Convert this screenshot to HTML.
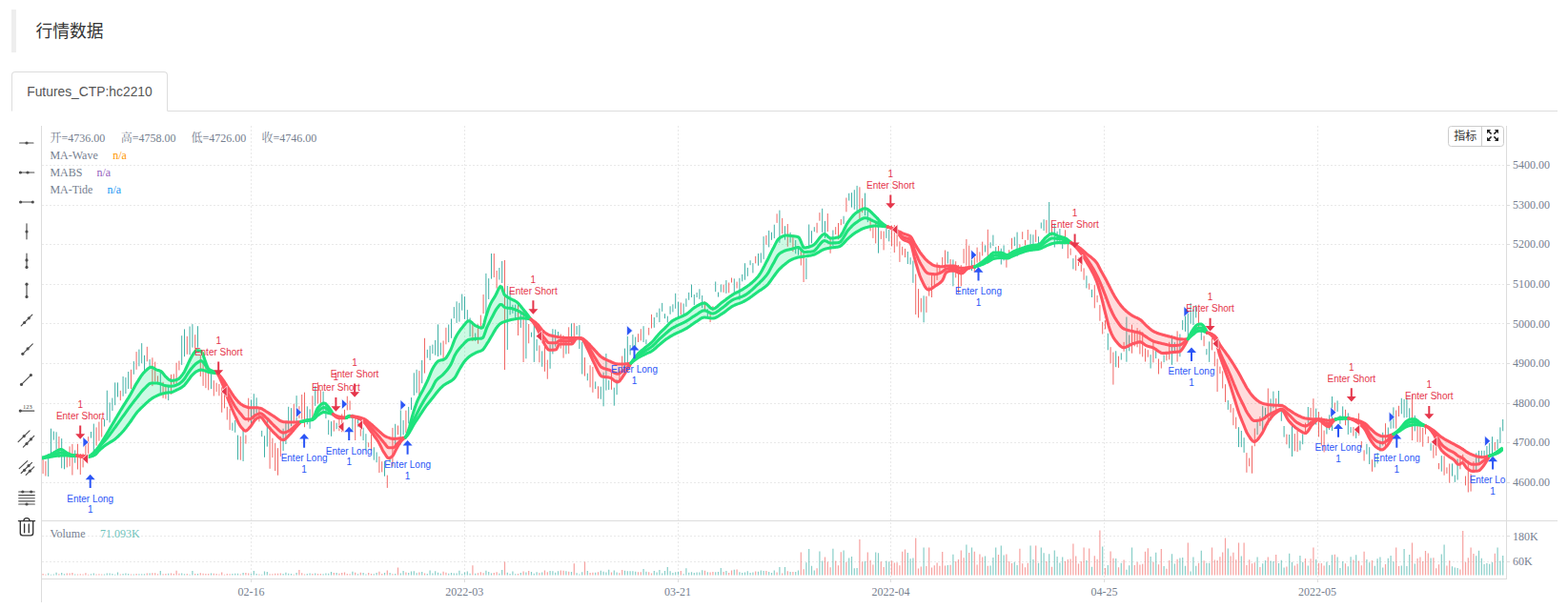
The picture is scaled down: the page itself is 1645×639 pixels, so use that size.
<!DOCTYPE html>
<html lang="zh"><head><meta charset="utf-8"><title>行情数据</title>
<style>
html,body{margin:0;padding:0;background:#fff;}
body{width:1645px;height:639px;position:relative;overflow:hidden;font-family:"Liberation Sans",sans-serif;}
.bar{position:absolute;left:12px;top:10px;width:5px;height:45px;background:#eee;}
.tabline{position:absolute;left:12px;top:116px;width:1622px;height:1px;background:#ddd;}
.tab{position:absolute;left:12px;top:75px;width:162px;height:40px;border:1px solid #ddd;border-bottom:1px solid #fff;border-radius:4px 4px 0 0;background:#fff;
font-size:13.85px;line-height:41px;color:#555;text-indent:15.2px;white-space:nowrap;}
</style></head><body>
<div class="bar"></div>
<div class="tabline"></div>
<div class="tab">Futures_CTP:hc2210</div>
<svg width="1645" height="639" viewBox="0 0 1645 639" style="position:absolute;left:0;top:0"><defs><clipPath id="mc"><rect x="44" y="132" width="1536" height="414"/></clipPath></defs><g stroke="#E9E9E9" stroke-width="1" stroke-dasharray="2,2" fill="none"><line x1="44" x2="1580" y1="173.5" y2="173.5"/><line x1="44" x2="1580" y1="215.5" y2="215.5"/><line x1="44" x2="1580" y1="256.5" y2="256.5"/><line x1="44" x2="1580" y1="298.5" y2="298.5"/><line x1="44" x2="1580" y1="339.5" y2="339.5"/><line x1="44" x2="1580" y1="381.5" y2="381.5"/><line x1="44" x2="1580" y1="423.5" y2="423.5"/><line x1="44" x2="1580" y1="464.5" y2="464.5"/><line x1="44" x2="1580" y1="506.5" y2="506.5"/><line x1="44" x2="1580" y1="562.5" y2="562.5"/><line x1="44" x2="1580" y1="589.5" y2="589.5"/><line x1="263.5" x2="263.5" y1="132" y2="608"/><line x1="487.5" x2="487.5" y1="132" y2="608"/><line x1="711.5" x2="711.5" y1="132" y2="608"/><line x1="934.5" x2="934.5" y1="132" y2="608"/><line x1="1158.5" x2="1158.5" y1="132" y2="608"/><line x1="1382.5" x2="1382.5" y1="132" y2="608"/></g><g clip-path="url(#mc)"><path d="M45.1,482V497M47.9,484V499.5M61.9,458V480.2M70.3,477.8V490.4M73.1,468.4V489.3M75.9,465.9V498.5M81.5,465.8V492.5M84.3,476V498M87.1,475.8V490.4M89.9,464.3V479.3M92.7,458.2V479.1M101.1,448.4V467.6M103.9,442.6V462.7M106.7,438.6V458.5M126.3,409.9V420.2M137.5,387.8V408M143.1,369.1V387.8M154.3,363.8V379.3M159.9,375.3V405.1M162.7,379.6V400.4M165.5,394.4V403.1M171.1,400.8V417.7M173.9,404.4V418.5M179.5,392.9V413.8M182.3,392.4V403M185.1,380.7V402.6M187.9,378.6V388.5M196.3,352.8V371.8M204.7,351.2V365.5M210.3,372.4V395M213.1,380.2V404.9M215.9,384.1V407.2M218.7,384.3V409.3M224.3,399.2V415.5M227.1,401.7V411.1M229.9,402.9V415.3M232.7,406.4V432.8M235.5,414V428.4M238.3,426.8V440.5M241.1,429.1V451.1M252.3,457.9V482.7M257.9,456.5V465.6M260.7,417.7V442.8M271.9,429.2V442.4M283.1,451.5V491.8M285.9,459.7V480.1M288.7,465V494.1M291.5,470.2V498.7M294.3,457.9V479M308.3,423.8V444.1M313.9,426.2V438.8M316.7,414V439.7M319.5,411.7V448.2M327.9,415.3V438.2M333.5,401.2V423.5M336.3,409V422.9M350.3,441V452.6M355.9,437.3V452.2M358.7,434.4V453.3M361.5,429.8V436.9M364.3,415.7V430.5M367.1,420.5V430.2M372.7,437.1V462M378.3,449.8V457.7M386.7,464.3V469.3M389.5,456.1V472.7M397.9,478.9V496.1M400.7,484.2V495.4M406.3,498.6V511.9M411.9,448.9V489.5M417.5,446.5V456.2M425.9,430.7V454.1M439.9,389.1V417M445.5,354.8V391.6M465.1,357.5V379.1M467.9,343.8V361.3M495.9,340.7V358M501.5,340.4V360.7M504.3,330.6V344.3M507.1,309V329.1M518.3,266V291M521.1,284V302.6M529.5,273V388M543.5,317V352M549.1,324V380M554.7,340V360.3M565.9,362.4V380.3M571.5,357.8V389.8M574.3,377.6V397.7M588.3,350.6V365.6M591.1,351.9V375.6M596.7,343.3V371.2M602.3,338.9V354.4M613.5,375.1V394.6M619.1,383.3V406.4M621.9,384.9V411.8M627.5,405.3V418.3M641.5,389.1V408.8M649.9,386.6V398.9M652.7,373.6V389.9M669.5,350.2V359M672.3,345.2V357.4M680.7,343.9V351.6M683.5,329.9V344.5M714.3,317.5V330.2M739.5,316.2V325.1M745.1,328.7V338.1M747.9,321.2V326.2M759.1,298.6V306.8M764.7,296.5V307.3M767.5,291.5V296.5M773.1,295.6V302.5M792.7,268.8V276.4M803.9,246.9V256.8M815.1,224.3V233.9M820.7,228.9V245.3M826.3,235V258.8M831.9,246.2V264.1M840.3,263V278.5M843.1,266V296M857.1,233.8V244.4M859.9,223.1V231.7M868.3,224V243M871.1,250.9V265.8M876.7,238.1V246M879.5,234V251.2M882.3,230V236.2M887.9,207.5V222.3M901.9,196.3V230M904.7,208.1V223.1M913.1,228.5V242.4M915.9,236V249.9M918.7,233.8V255.4M924.3,242.3V250.9M927.1,242.6V262.4M935.5,236.5V258.4M938.3,236V265M941.1,244.7V258.6M943.9,253.3V274.9M946.7,258.8V267.7M949.5,260.9V270.1M960.7,287.6V330M963.5,303.1V333.4M966.3,312.8V327.5M971.9,310.8V327.9M974.7,300.6V310.6M977.5,287.1V312M980.3,288.1V300.6M983.1,275.5V293.9M985.9,279.4V287.8M988.7,269.9V281.1M991.5,262.5V283M997.1,272V283.9M1002.7,274.2V291.4M1005.5,278V307.6M1008.3,278.2V300.3M1011.1,261.1V276.3M1013.9,251V278.6M1016.7,257.6V282.5M1022.3,268.7V285.3M1025.1,259.6V275.6M1027.9,264.4V274.6M1030.7,253.6V268.4M1036.3,240.8V276.8M1047.5,258V271.9M1055.9,272.1V280.7M1058.7,262.2V270.4M1061.5,249.8V261.5M1069.9,256.4V264.5M1072.7,243.2V251M1075.5,251.9V257.5M1078.3,241V251.8M1086.7,241.2V253.9M1097.9,230.9V244.6M1103.5,235.8V247.4M1117.5,241.3V253.1M1120.3,254.3V271.2M1123.1,260.6V267.7M1128.7,267.7V283.9M1131.5,270.5V279.1M1134.3,274.1V284.9M1137.1,281.4V293.7M1142.7,297.4V303.8M1148.3,299.1V323.3M1151.1,309.9V317.3M1153.9,319.9V336.7M1156.7,337.8V350.5M1159.5,336.2V345.4M1165.1,364.2V381.1M1167.9,369.6V403.6M1173.5,373.7V385.9M1179.1,358.9V368.8M1187.5,340.7V370.7M1190.3,347.2V363.3M1193.1,344.1V364.3M1195.9,346.3V371.5M1198.7,348.5V374.4M1201.5,365.6V379.5M1204.3,367.2V374.7M1209.9,357V380.4M1215.5,376.5V392.5M1218.3,379.3V386.5M1223.9,369.7V378.4M1226.7,358.8V377.3M1235.1,347.4V379.5M1257.5,327V343.5M1263.1,352.4V363.2M1271.5,355V367.4M1274.3,368.9V384.3M1277.1,376.5V411M1279.9,384.6V392M1282.7,389.4V407.5M1285.5,403.2V421.9M1291.1,424V432.8M1293.9,428.1V446.2M1296.7,437.7V449.9M1307.9,475.1V495.8M1310.7,480.6V489.3M1313.5,467.7V496.7M1316.3,449.5V468.2M1321.9,437V446.9M1330.3,407.5V445.6M1338.7,418V433M1349.9,455.6V466.3M1358.3,455.1V473.3M1361.1,452V474.1M1369.5,443.6V455.3M1375.1,428V441.2M1377.9,418.2V438.3M1383.5,432.1V458.4M1386.3,437.4V467.7M1389.1,451.6V474.5M1400.3,422.5V433.6M1411.5,429.8V446.3M1419.9,448.1V457.5M1425.5,433.6V456.7M1428.3,462.9V469.8M1431.1,472.3V483.5M1439.5,482.2V494.8M1453.5,444.2V469.8M1464.7,430.5V449.7M1467.5,425.8V437M1481.5,414.1V462.1M1487.1,446.8V463.8M1489.9,446.4V463.9M1492.7,448.8V468.7M1495.5,447.3V455.7M1498.3,457.8V465M1503.9,466.6V480.7M1506.7,463.4V478.1M1509.5,486V492.3M1515.1,478.4V498.7M1517.9,490.4V496.9M1520.7,486.5V506.6M1531.9,480.4V492.3M1534.7,476.8V486.9M1537.5,499.5V509.4M1540.3,483.6V516.5M1543.1,497.2V515.6M1545.9,484.2V494.1M1568.3,464V472.8" stroke="#EF5350" stroke-width="1" fill="none" opacity="0.88"/><path d="M50.7,476V500M53.5,449.7V476.7M56.3,452.6V461.6M59.1,453.3V471.8M64.7,460.1V491.3M67.5,474.3V492.3M78.7,472.4V485.7M95.5,453V459.6M98.3,444.6V473M109.5,440.1V447.5M112.3,409.7V441M115.1,422.4V443.4M117.9,417.6V431M120.7,401.4V425.2M123.5,401.4V416.5M129.1,395V415.8M131.9,396.1V413M134.7,390V408M140.3,379.1V392.8M145.9,366.6V384.3M148.7,360.1V381.1M151.5,372.8V391.3M157.1,377.1V386.9M168.3,388V414.4M176.7,405.9V420.1M190.7,352.2V382.9M193.5,345.4V374.2M199.1,342.5V372.3M201.9,340.1V364.6M207.5,342.2V364.7M221.5,392.4V408.1M243.9,443.6V451.9M246.7,440.8V453.8M249.5,456.6V482.4M255.1,451.3V484M263.5,419.4V447M266.3,413.2V439.9M269.1,417.3V433.5M274.7,451.9V458.2M277.5,457.3V479.8M280.3,439.5V468.6M297.1,449.7V473.1M299.9,443.9V466M302.7,426.8V453.1M305.5,428.2V447.1M311.1,415.1V444.4M322.3,426.4V445.3M325.1,429.4V449.8M330.7,405.2V425.9M339.1,410.7V432.7M341.9,422.6V439.1M344.7,440.7V456.1M347.5,442.2V457.8M353.1,443.7V450.2M369.9,434.6V451.5M375.5,438.5V448.1M381.1,448.7V462.1M383.9,455.2V472.9M392.3,469.3V482.7M395.1,474.5V485.2M403.5,483.8V499.7M409.1,479.7V485.3M414.7,444.8V467.4M420.3,429.3V466.4M423.1,440.9V456.3M428.7,426.9V444.4M431.5,417.1V430M434.3,391.3V414.9M437.1,387.8V412.3M442.7,378V402.2M448.3,366.8V375.6M451.1,362.8V378M453.9,361.6V371.1M456.7,356.9V372.7M459.5,340.4V374M462.3,359.6V372.6M470.7,340.5V359.2M473.5,334.5V354.8M476.3,322.1V334.1M479.1,316.3V338.9M481.9,317.8V337.6M484.7,308.5V325.7M487.5,311.1V334.9M490.3,325.1V338.9M493.1,333.5V353.3M498.7,349.5V357.9M509.9,286.9V331.4M512.7,292.1V314M515.5,266V292.6M523.9,281V293.5M526.7,274V297M532.3,300V367M535.1,305.1V330.4M537.9,319.8V328.8M540.7,319.6V335.8M546.3,326.4V343.9M551.9,328.3V376.3M557.5,348.7V353.7M560.3,336.9V379.9M563.1,356V368.2M568.7,368.4V384.8M577.1,361.5V386.8M579.9,345.2V371.4M582.7,345.7V363.7M585.5,348V355.1M593.9,358.5V371.5M599.5,339.3V360.8M605.1,342.1V351.2M607.9,341.1V366M610.7,358.7V392.5M616.3,391.7V399.3M624.7,400.4V408.1M630.3,405.7V418.8M633.1,390.7V426.3M635.9,371V409.6M638.7,399.1V409M644.3,406.7V425.7M647.1,398.3V414.2M655.5,365.6V391.4M658.3,352.9V383.6M661.1,362.1V372.5M663.9,351.1V364.3M666.7,353.6V364.6M675.1,342.2V359M677.9,356.3V361.3M686.3,333V343.8M689.1,327.9V332.9M691.9,323.6V338.1M694.7,317.9V326.9M697.5,329.2V334.2M700.3,331.7V338.5M703.1,321.3V329.8M705.9,319.3V327.4M708.7,307.8V323.8M711.5,316.7V332.1M717.1,318.5V330.2M719.9,313.3V321.8M722.7,306.9V314.8M725.5,298.6V312M728.3,309V320.1M731.1,307V312M733.9,303.3V313.8M736.7,310V323M742.3,324.3V334.3M750.7,295.5V306.2M753.5,306.6V311.6M756.3,298.5V306.5M761.9,294V307.9M770.3,292.4V306.7M775.9,291.8V314.6M778.7,287.9V295.3M781.5,276.2V293.7M784.3,280.9V289.8M787.1,273.2V278.2M789.9,276V286.4M795.5,266V278.7M798.3,265.4V275.7M801.1,248.1V271.9M806.7,241.9V259.4M809.5,243.7V251.8M812.3,235.7V250.1M817.9,220.6V254.8M823.5,237.2V251.6M829.1,243.8V254.6M834.7,252V266.2M837.5,259V267.7M845.9,271V293M848.7,235.5V260.6M851.5,242.2V255.3M854.3,238.2V243.2M862.7,218.8V243.8M865.5,231.9V249.8M873.9,241.5V258.2M885.1,226.7V234.9M890.7,202.8V210.5M893.5,202.2V217.6M896.3,199.2V219.8M899.1,194.9V221.3M907.5,202.6V226.2M910.3,221.1V233.1M921.5,227.9V265.6M929.9,239.6V249.9M932.7,241V253.3M952.3,264V277M955.1,270.2V277.5M957.9,273.6V296.8M969.1,310.3V338.3M994.3,263.9V276.5M999.9,272.4V300.3M1019.5,266.3V284.1M1033.5,257.4V264.5M1039.1,254.3V260.4M1041.9,246.6V258.1M1044.7,259.1V268.6M1050.3,260.7V277.5M1053.1,257.4V273.4M1064.3,248.6V258.1M1067.1,243.6V269M1081.1,245.7V256.8M1083.9,246.3V258.7M1089.5,248.2V261M1092.3,233.5V239.7M1095.1,230.2V242.1M1100.7,212V246.9M1106.3,234.5V259.5M1109.1,242.8V253.7M1111.9,240.1V255.9M1114.7,252.6V261M1125.9,271.1V282.4M1139.9,289.3V302.4M1145.5,303.8V312M1162.3,349.7V367.3M1170.7,368.3V385.2M1176.3,370.4V377.6M1181.9,332.5V379.7M1184.7,351.5V368.3M1207.1,372.2V386.5M1212.7,366.8V376.1M1221.1,372.9V380.2M1229.5,351.7V382.8M1232.3,359.2V370M1237.9,350.5V374.3M1240.7,335.9V346.2M1243.5,330.6V347.9M1246.3,325.9V354.7M1249.1,318.2V339.5M1251.9,324.5V341M1254.7,320.2V333.4M1260.3,345.2V356.8M1265.9,366.1V372.3M1268.7,358.4V379.9M1288.3,420V429.9M1299.5,448.2V469.1M1302.3,452V469.2M1305.1,459.2V474.9M1319.1,442V456.1M1324.7,426.1V451.8M1327.5,427.8V439.9M1333.1,418.4V441.2M1335.9,410.6V428.1M1341.5,410V427M1344.3,430V441.8M1347.1,447V458.6M1352.7,456V470.3M1355.5,447V479M1363.9,462.5V472.4M1366.7,455.3V466.2M1372.3,427V443.7M1380.7,428.6V445.6M1391.9,439.6V455.5M1394.7,435.3V451M1397.5,416V452.1M1403.1,420.4V431.9M1405.9,435.9V444.8M1408.7,426.4V441.2M1414.3,433.4V455.9M1417.1,448.1V454.1M1422.7,450V459.9M1433.9,465.8V476.6M1436.7,469.2V487M1442.3,483.9V490.3M1445.1,475.2V486.4M1447.9,462.4V473.7M1450.7,453.8V467.5M1456.3,448.5V461.2M1459.1,436V449.8M1461.9,427.4V449.4M1470.3,417.8V434.3M1473.1,418.9V438.3M1475.9,417.1V438.1M1478.7,428.3V439.8M1484.3,435.9V452.4M1501.1,465.2V472.8M1512.3,478.1V494.7M1523.5,486.4V499.6M1526.3,498.5V505.9M1529.1,481.6V503.5M1548.7,475.4V493.4M1551.5,472.9V485.5M1554.3,472.8V480.7M1557.1,472.8V478.7M1559.9,468V477.7M1562.7,465V477.7M1565.5,458.2V476.8M1571.1,461V471.3M1573.9,448.4V465M1576.7,440V452.3" stroke="#26A69A" stroke-width="1" fill="none" opacity="0.88"/><path d="M44,480 45.1,479.8 45.4,479.7 46.8,479.4 47.9,479 48.2,478.9 49.6,478.4 50.7,478 51,477.9 52.4,477.3 53.5,476.7 53.8,476.6 55.2,475.7 56.3,475 56.6,474.8 58,474 59.1,473.4 59.4,473.3 60.8,472.5 61.9,472 62.2,471.9 63.6,471.5 64.7,471.6 65,471.7 66.4,472.5 67.5,473.3 67.8,473.5 69.2,474.5 70.3,475.1 70.6,475.3 72,476 73.1,476.5 73.4,476.7 74.8,477.2 75.9,477.5 76.2,477.5 77.6,477.7 78.7,477.9 79,477.9 80.4,478 81,478 L81,478 80.4,478.1 79,478.3 78.7,478.3 77.6,478.4 76.2,478.5 75.9,478.5 74.8,478.4 73.4,478.3 73.1,478.3 72,478.1 70.6,478 70.3,478 69.2,478 67.8,478 67.5,478 66.4,478 65,478 64.7,478 63.6,478 62.2,478.1 61.9,478.1 60.8,478.2 59.4,478.3 59.1,478.4 58,478.5 56.6,478.7 56.3,478.7 55.2,478.9 53.8,479.2 53.5,479.2 52.4,479.4 51,479.7 50.7,479.7 49.6,479.9 48.2,480.2 47.9,480.2 46.8,480.5 45.4,480.7 45.1,480.8 44,481Z" fill="rgba(0,230,118,0.2)" stroke="none"/><path d="M44,481 45.1,480.8 45.4,480.7 46.8,480.5 47.9,480.2 48.2,480.2 49.6,479.9 50.7,479.7 51,479.7 52.4,479.4 53.5,479.2 53.8,479.2 55.2,478.9 56.3,478.7 56.6,478.7 58,478.5 59.1,478.4 59.4,478.3 60.8,478.2 61.9,478.1 62.2,478.1 63.6,478 64.7,478 65,478 66.4,478 67.5,478 67.8,478 69.2,478 70.3,478 70.6,478 72,478.1 73.1,478.3 73.4,478.3 74.8,478.4 75.9,478.5 76.2,478.5 77.6,478.4 78.7,478.3 79,478.3 80.4,478.1 81,478" fill="none" stroke="#1EE27C" stroke-width="3.1" stroke-linejoin="round" stroke-linecap="round"/><path d="M44,480.5 45.1,480.3 45.4,480.2 46.8,479.9 47.9,479.6 48.2,479.5 49.6,479.2 50.7,478.9 51,478.8 52.4,478.4 53.5,478 53.8,477.9 55.2,477.4 56.3,477 56.6,476.9 58,476.5 59.1,476.2 59.4,476.1 60.8,475.6 61.9,475.3 62.2,475.2 63.6,475 64.7,475 65,475.1 66.4,475.4 67.5,475.7 67.8,475.8 69.2,476.3 70.3,476.6 70.6,476.7 72,477.1 73.1,477.5 73.4,477.6 74.8,477.9 75.9,478 76.2,478 77.6,478 78.7,478 79,478 80.4,478 81,478" fill="none" stroke="#1EE27C" stroke-width="3.1" stroke-linejoin="round" stroke-linecap="round"/><path d="M44,480 45.1,479.8 45.4,479.7 46.8,479.4 47.9,479 48.2,478.9 49.6,478.4 50.7,478 51,477.9 52.4,477.3 53.5,476.7 53.8,476.6 55.2,475.7 56.3,475 56.6,474.8 58,474 59.1,473.4 59.4,473.3 60.8,472.5 61.9,472 62.2,471.9 63.6,471.5 64.7,471.6 65,471.7 66.4,472.5 67.5,473.3 67.8,473.5 69.2,474.5 70.3,475.1 70.6,475.3 72,476 73.1,476.5 73.4,476.7 74.8,477.2 75.9,477.5 76.2,477.5 77.6,477.7 78.7,477.9 79,477.9 80.4,478 81,478" fill="none" stroke="#1EE27C" stroke-width="3.1" stroke-linejoin="round" stroke-linecap="round"/><path d="M81,478 81.5,478.2 82.4,478.5 83.8,479 84.3,479.1 85.2,479.3 86.6,479.5 87.1,479.5 88,479.5 89.4,479.5 89.9,479.5 90.8,479.5 92,479.5 L92,479.5 90.8,479.2 89.9,479 89.4,478.9 88,478.6 87.1,478.5 86.6,478.5 85.2,478.3 84.3,478.2 83.8,478.2 82.4,478.1 81.5,478 81,478Z" fill="rgba(255,82,82,0.2)" stroke="none"/><path d="M81,478 81.5,478 82.4,478.1 83.8,478.2 84.3,478.2 85.2,478.3 86.6,478.5 87.1,478.5 88,478.6 89.4,478.9 89.9,479 90.8,479.2 92,479.5" fill="none" stroke="#FF5561" stroke-width="3.1" stroke-linejoin="round" stroke-linecap="round"/><path d="M81,478 81.5,478.1 82.4,478.3 83.8,478.5 84.3,478.6 85.2,478.8 86.6,478.9 87.1,479 88,479.1 89.4,479.3 89.9,479.3 90.8,479.4 92,479.5" fill="none" stroke="#FF5561" stroke-width="3.1" stroke-linejoin="round" stroke-linecap="round"/><path d="M81,478 81.5,478.2 82.4,478.5 83.8,479 84.3,479.1 85.2,479.3 86.6,479.5 87.1,479.5 88,479.5 89.4,479.5 89.9,479.5 90.8,479.5 92,479.5" fill="none" stroke="#FF5561" stroke-width="3.1" stroke-linejoin="round" stroke-linecap="round"/><path d="M92,479.5 92.7,479.2 93.4,478.8 94.8,477.9 95.5,477.4 96.2,476.8 97.6,475.6 98.3,474.9 99,474.1 100.4,472.5 101.1,471.7 101.8,470.9 103.2,469.1 103.9,468.1 104.6,467.1 106,465.1 106.7,464 107.4,462.9 108.8,460.7 109.5,459.5 110.2,458.3 111.6,456 112.3,454.8 113,453.7 114.4,451.3 115.1,450.1 115.8,448.9 117.2,446.5 117.9,445.3 118.6,444.1 120,441.7 120.7,440.5 121.4,439.3 122.8,437 123.5,435.8 124.2,434.6 125.6,432.2 126.3,431 127,429.9 128.4,427.6 129.1,426.4 129.8,425.3 131.2,423.1 131.9,422 132.6,420.9 134,418.7 134.7,417.6 135.4,416.4 136.8,414 137.5,412.7 138.2,411.4 139.6,408.8 140.3,407.5 141,406.2 142.4,403.6 143.1,402.4 143.8,401.3 145.2,399.1 145.9,397.9 146.6,396.8 148,394.7 148.7,393.7 149.4,392.8 150.8,391.1 151.5,390.4 152.2,389.7 153.6,388.4 154.3,387.7 155,387.1 156.4,386.1 157.1,385.7 157.8,385.4 159.2,385.3 159.9,385.5 160.6,385.9 162,386.7 162.7,387.2 163.4,387.6 164.8,388.2 165.5,388.4 166.2,388.6 167.6,389 168.3,389.3 169,389.7 170.4,391 171.1,391.9 171.8,392.8 173.2,394.6 173.9,395.3 174.6,395.9 176,397.3 176.7,397.9 177.4,398.4 178.8,399.2 179.5,399.4 180.2,399.4 181.6,399.3 182.3,399.2 183,399 184.4,398.7 185.1,398.5 185.8,398.3 187.2,397.7 187.9,397.1 188.6,396.5 190,394.9 190.7,394 191.4,393.1 192.8,391.2 193.5,389.9 194.2,388.5 195.6,385.5 196.3,384 197,382.5 198.4,379.5 199.1,378 199.8,376.5 201.2,373.9 201.9,372.8 202.6,371.7 204,369.6 204.7,368.7 205.4,368 206.8,367.6 207.5,367.7 208.2,367.7 209.6,368 210.3,368.2 211,368.5 212.4,370.5 213.1,372.4 213.8,374.6 215.2,378.5 215.9,380.4 216.6,382.4 218,385.9 218.7,387 219.4,387.6 220.8,388.4 221.5,388.7 222.2,389 223.6,389.6 224.3,389.9 225,390.2 226.4,390.8 227.1,391.1 227.8,391.4 228.1,391.5 L228.1,391.5 227.8,391.5 227.1,391.5 226.4,391.5 225,391.4 224.3,391.3 223.6,391.3 222.2,391.1 221.5,391 220.8,390.9 219.4,390.6 218.7,390.4 218,390.2 216.6,389.6 215.9,389.3 215.2,389.1 213.8,388.6 213.1,388.4 212.4,388.2 211,388 210.3,388.1 209.6,388.2 208.2,388.7 207.5,389.1 206.8,389.4 205.4,390.2 204.7,390.7 204,391.3 202.6,392.6 201.9,393.3 201.2,394 199.8,395.8 199.1,396.8 198.4,397.8 197,399.7 196.3,400.6 195.6,401.5 194.2,403.3 193.5,404.1 192.8,404.8 191.4,405.9 190.7,406.3 190,406.8 188.6,407.6 187.9,407.9 187.2,408.3 185.8,408.9 185.1,409.3 184.4,409.7 183,410.4 182.3,410.7 181.6,411 180.2,411.4 179.5,411.6 178.8,411.7 177.4,411.8 176.7,411.9 176,412 174.6,412.1 173.9,412.3 173.2,412.4 171.8,412.7 171.1,412.9 170.4,413.1 169,413.5 168.3,413.7 167.6,413.9 166.2,414.5 165.5,414.8 164.8,415.1 163.4,415.8 162.7,416.1 162,416.5 160.6,417.3 159.9,417.7 159.2,418.2 157.8,419.2 157.1,419.7 156.4,420.3 155,421.6 154.3,422.2 153.6,422.9 152.2,424.2 151.5,424.9 150.8,425.5 149.4,426.9 148.7,427.5 148,428.2 146.6,429.6 145.9,430.3 145.2,431 143.8,432.6 143.1,433.5 142.4,434.4 141,436.3 140.3,437.3 139.6,438.4 138.2,440.5 137.5,441.5 136.8,442.5 135.4,444.4 134.7,445.3 134,446.3 132.6,448.1 131.9,449.1 131.2,449.9 129.8,451.7 129.1,452.5 128.4,453.3 127,454.8 126.3,455.5 125.6,456.2 124.2,457.6 123.5,458.3 122.8,458.9 121.4,460.1 120.7,460.7 120,461.2 118.6,462.2 117.9,462.7 117.2,463.1 115.8,463.9 115.1,464.3 114.4,464.8 113,465.7 112.3,466.1 111.6,466.6 110.2,467.6 109.5,468.1 108.8,468.6 107.4,469.7 106.7,470.3 106,470.9 104.6,472.1 103.9,472.8 103.2,473.6 101.8,475.3 101.1,476.1 100.4,476.7 99,477.6 98.3,477.9 97.6,478.3 96.2,478.7 95.5,478.9 94.8,479.1 93.4,479.4 92.7,479.5 92,479.5Z" fill="rgba(0,230,118,0.2)" stroke="none"/><path d="M92,479.5 92.7,479.5 93.4,479.4 94.8,479.1 95.5,478.9 96.2,478.7 97.6,478.3 98.3,477.9 99,477.6 100.4,476.7 101.1,476.1 101.8,475.3 103.2,473.6 103.9,472.8 104.6,472.1 106,470.9 106.7,470.3 107.4,469.7 108.8,468.6 109.5,468.1 110.2,467.6 111.6,466.6 112.3,466.1 113,465.7 114.4,464.8 115.1,464.3 115.8,463.9 117.2,463.1 117.9,462.7 118.6,462.2 120,461.2 120.7,460.7 121.4,460.1 122.8,458.9 123.5,458.3 124.2,457.6 125.6,456.2 126.3,455.5 127,454.8 128.4,453.3 129.1,452.5 129.8,451.7 131.2,449.9 131.9,449.1 132.6,448.1 134,446.3 134.7,445.3 135.4,444.4 136.8,442.5 137.5,441.5 138.2,440.5 139.6,438.4 140.3,437.3 141,436.3 142.4,434.4 143.1,433.5 143.8,432.6 145.2,431 145.9,430.3 146.6,429.6 148,428.2 148.7,427.5 149.4,426.9 150.8,425.5 151.5,424.9 152.2,424.2 153.6,422.9 154.3,422.2 155,421.6 156.4,420.3 157.1,419.7 157.8,419.2 159.2,418.2 159.9,417.7 160.6,417.3 162,416.5 162.7,416.1 163.4,415.8 164.8,415.1 165.5,414.8 166.2,414.5 167.6,413.9 168.3,413.7 169,413.5 170.4,413.1 171.1,412.9 171.8,412.7 173.2,412.4 173.9,412.3 174.6,412.1 176,412 176.7,411.9 177.4,411.8 178.8,411.7 179.5,411.6 180.2,411.4 181.6,411 182.3,410.7 183,410.4 184.4,409.7 185.1,409.3 185.8,408.9 187.2,408.3 187.9,407.9 188.6,407.6 190,406.8 190.7,406.3 191.4,405.9 192.8,404.8 193.5,404.1 194.2,403.3 195.6,401.5 196.3,400.6 197,399.7 198.4,397.8 199.1,396.8 199.8,395.8 201.2,394 201.9,393.3 202.6,392.6 204,391.3 204.7,390.7 205.4,390.2 206.8,389.4 207.5,389.1 208.2,388.7 209.6,388.2 210.3,388.1 211,388 212.4,388.2 213.1,388.4 213.8,388.6 215.2,389.1 215.9,389.3 216.6,389.6 218,390.2 218.7,390.4 219.4,390.6 220.8,390.9 221.5,391 222.2,391.1 223.6,391.3 224.3,391.3 225,391.4 226.4,391.5 227.1,391.5 227.8,391.5 228.1,391.5" fill="none" stroke="#1EE27C" stroke-width="3.1" stroke-linejoin="round" stroke-linecap="round"/><path d="M92,479.5 92.7,479.3 93.4,479.1 94.8,478.6 95.5,478.2 96.2,477.9 97.6,477 98.3,476.5 99,475.9 100.4,474.6 101.1,473.7 101.8,472.7 103.2,470.6 103.9,469.6 104.6,468.6 106,466.9 106.7,466.1 107.4,465.3 108.8,463.8 109.5,463 110.2,462.2 111.6,460.6 112.3,459.7 113,458.9 114.4,457.1 115.1,456.1 115.8,455.2 117.2,453.3 117.9,452.3 118.6,451.3 120,449.4 120.7,448.5 121.4,447.5 122.8,445.5 123.5,444.6 124.2,443.6 125.6,441.6 126.3,440.7 127,439.7 128.4,437.7 129.1,436.7 129.8,435.8 131.2,433.8 131.9,432.8 132.6,431.8 134,429.8 134.7,428.9 135.4,427.9 136.8,426 137.5,425.1 138.2,424.2 139.6,422.3 140.3,421.4 141,420.5 142.4,418.8 143.1,417.9 143.8,417 145.2,415.2 145.9,414.3 146.6,413.4 148,411.6 148.7,410.8 149.4,409.9 150.8,408.4 151.5,407.7 152.2,407 153.6,405.5 154.3,404.8 155,404.1 156.4,402.9 157.1,402.5 157.8,402.2 159.2,402 159.9,402 160.6,402 162,402 162.7,402 163.4,402 164.8,402 165.5,402.1 166.2,402.2 167.6,402.6 168.3,402.7 169,402.9 170.4,403.5 171.1,403.8 171.8,404.1 173.2,404.6 173.9,404.7 174.6,404.8 176,405 176.7,405.1 177.4,405.1 178.8,405.2 179.5,405.2 180.2,405.2 181.6,405 182.3,404.9 183,404.7 184.4,404.2 185.1,404 185.8,403.7 187.2,403.1 187.9,402.7 188.6,402.2 190,401.1 190.7,400.5 191.4,399.9 192.8,398.4 193.5,397.5 194.2,396.5 195.6,394.2 196.3,393.1 197,392 198.4,390 199.1,389 199.8,388 201.2,386.2 201.9,385.4 202.6,384.6 204,383.1 204.7,382.4 205.4,381.8 206.8,380.7 207.5,380.2 208.2,379.8 209.6,379 210.3,378.7 211,378.6 212.4,379.3 213.1,380 213.8,380.9 215.2,382.7 215.9,383.8 216.6,384.9 218,387.1 218.7,387.8 219.4,388.3 220.8,389.1 221.5,389.4 222.2,389.7 223.6,390.2 224.3,390.5 225,390.7 226.4,391.1 227.1,391.3 227.8,391.4 228.1,391.5" fill="none" stroke="#1EE27C" stroke-width="3.1" stroke-linejoin="round" stroke-linecap="round"/><path d="M92,479.5 92.7,479.2 93.4,478.8 94.8,477.9 95.5,477.4 96.2,476.8 97.6,475.6 98.3,474.9 99,474.1 100.4,472.5 101.1,471.7 101.8,470.9 103.2,469.1 103.9,468.1 104.6,467.1 106,465.1 106.7,464 107.4,462.9 108.8,460.7 109.5,459.5 110.2,458.3 111.6,456 112.3,454.8 113,453.7 114.4,451.3 115.1,450.1 115.8,448.9 117.2,446.5 117.9,445.3 118.6,444.1 120,441.7 120.7,440.5 121.4,439.3 122.8,437 123.5,435.8 124.2,434.6 125.6,432.2 126.3,431 127,429.9 128.4,427.6 129.1,426.4 129.8,425.3 131.2,423.1 131.9,422 132.6,420.9 134,418.7 134.7,417.6 135.4,416.4 136.8,414 137.5,412.7 138.2,411.4 139.6,408.8 140.3,407.5 141,406.2 142.4,403.6 143.1,402.4 143.8,401.3 145.2,399.1 145.9,397.9 146.6,396.8 148,394.7 148.7,393.7 149.4,392.8 150.8,391.1 151.5,390.4 152.2,389.7 153.6,388.4 154.3,387.7 155,387.1 156.4,386.1 157.1,385.7 157.8,385.4 159.2,385.3 159.9,385.5 160.6,385.9 162,386.7 162.7,387.2 163.4,387.6 164.8,388.2 165.5,388.4 166.2,388.6 167.6,389 168.3,389.3 169,389.7 170.4,391 171.1,391.9 171.8,392.8 173.2,394.6 173.9,395.3 174.6,395.9 176,397.3 176.7,397.9 177.4,398.4 178.8,399.2 179.5,399.4 180.2,399.4 181.6,399.3 182.3,399.2 183,399 184.4,398.7 185.1,398.5 185.8,398.3 187.2,397.7 187.9,397.1 188.6,396.5 190,394.9 190.7,394 191.4,393.1 192.8,391.2 193.5,389.9 194.2,388.5 195.6,385.5 196.3,384 197,382.5 198.4,379.5 199.1,378 199.8,376.5 201.2,373.9 201.9,372.8 202.6,371.7 204,369.6 204.7,368.7 205.4,368 206.8,367.6 207.5,367.7 208.2,367.7 209.6,368 210.3,368.2 211,368.5 212.4,370.5 213.1,372.4 213.8,374.6 215.2,378.5 215.9,380.4 216.6,382.4 218,385.9 218.7,387 219.4,387.6 220.8,388.4 221.5,388.7 222.2,389 223.6,389.6 224.3,389.9 225,390.2 226.4,390.8 227.1,391.1 227.8,391.4 228.1,391.5" fill="none" stroke="#1EE27C" stroke-width="3.1" stroke-linejoin="round" stroke-linecap="round"/><path d="M228.1,391.5 229.5,394.4 229.9,395.2 230.9,397.4 232.3,400.5 232.7,401.5 233.7,403.8 235.1,407.4 235.5,408.5 236.5,411.3 237.9,415.2 238.3,416.3 239.3,418.9 240.7,422.5 241.1,423.5 242.1,425.9 243.5,429.3 243.9,430.2 244.9,432.5 246.3,435.6 246.7,436.4 247.7,438.5 249.1,441.4 249.5,442.2 250.5,444.2 251.9,446.6 252.3,447.2 253.3,448.5 254.7,450.1 255.1,450.6 256.1,451.5 257.5,452.2 257.9,452.2 258.9,451.7 260.3,450.4 260.7,450 261.7,448.8 263.1,447.2 263.5,446.6 264.5,445.1 265.9,442.9 266.3,442.3 267.3,441 268.7,439.6 269.1,439.3 270.1,438.6 271.5,437.9 271.9,437.7 272.9,437.5 274.3,438 274.7,438.4 275.7,439.6 277.1,441.6 277.5,442.2 278.5,443.8 279.9,445.5 280.3,446 281.3,447.2 282.7,448.8 283.1,449.3 284.1,450.5 285.5,452.1 285.9,452.5 286.9,453.6 288.3,454.9 288.7,455.3 289.7,456.2 291.1,457.7 291.5,458.1 292.5,459 293.9,460.2 294.3,460.5 295.3,461.1 296.7,461.6 297.1,461.6 298.1,461.4 299.5,460.5 299.9,460.2 300.9,459.2 302.3,457.7 302.7,457.2 303.7,456.2 305.1,454.7 305.5,454.3 306.5,453.1 307.9,451.4 308.3,450.9 309.3,449.7 310.7,448.1 311.1,447.6 312.1,446.5 313.5,445 313.9,444.5 314.9,443.5 315.8,442.5 L315.8,442.5 314.9,442.6 313.9,442.7 313.5,442.8 312.1,442.9 311.1,443 310.7,443 309.3,443 308.3,443 307.9,443 306.5,443 305.5,443 305.1,443 303.7,443 302.7,443 302.3,443 300.9,442.9 299.9,442.9 299.5,442.8 298.1,442.7 297.1,442.6 296.7,442.5 295.3,442.1 294.3,441.6 293.9,441.4 292.5,440.4 291.5,439.7 291.1,439.4 289.7,438.4 288.7,437.7 288.3,437.4 286.9,436.6 285.9,435.9 285.5,435.7 284.1,434.8 283.1,434.2 282.7,433.9 281.3,433 280.3,432.4 279.9,432.2 278.5,431.3 277.5,430.6 277.1,430.4 275.7,429.5 274.7,428.9 274.3,428.7 272.9,428.3 271.9,428.1 271.5,428 270.1,427.8 269.1,427.7 268.7,427.7 267.3,427.7 266.3,427.7 265.9,427.7 264.5,427.7 263.5,427.7 263.1,427.7 261.7,427.7 260.7,427.6 260.3,427.5 258.9,427 257.9,426.7 257.5,426.5 256.1,426 255.1,425.5 254.7,425.2 253.3,424.4 252.3,423.7 251.9,423.3 250.5,422.1 249.5,421 249.1,420.6 247.7,419 246.7,417.8 246.3,417.3 244.9,415.4 243.9,413.9 243.5,413.3 242.1,411.1 241.1,409.5 240.7,408.9 239.3,406.8 238.3,405.2 237.9,404.5 236.5,402.3 235.5,400.7 235.1,400.1 233.7,398.1 232.7,396.8 232.3,396.3 230.9,394.6 229.9,393.4 229.5,393 228.1,391.5Z" fill="rgba(255,82,82,0.2)" stroke="none"/><path d="M228.1,391.5 229.5,393 229.9,393.4 230.9,394.6 232.3,396.3 232.7,396.8 233.7,398.1 235.1,400.1 235.5,400.7 236.5,402.3 237.9,404.5 238.3,405.2 239.3,406.8 240.7,408.9 241.1,409.5 242.1,411.1 243.5,413.3 243.9,413.9 244.9,415.4 246.3,417.3 246.7,417.8 247.7,419 249.1,420.6 249.5,421 250.5,422.1 251.9,423.3 252.3,423.7 253.3,424.4 254.7,425.2 255.1,425.5 256.1,426 257.5,426.5 257.9,426.7 258.9,427 260.3,427.5 260.7,427.6 261.7,427.7 263.1,427.7 263.5,427.7 264.5,427.7 265.9,427.7 266.3,427.7 267.3,427.7 268.7,427.7 269.1,427.7 270.1,427.8 271.5,428 271.9,428.1 272.9,428.3 274.3,428.7 274.7,428.9 275.7,429.5 277.1,430.4 277.5,430.6 278.5,431.3 279.9,432.2 280.3,432.4 281.3,433 282.7,433.9 283.1,434.2 284.1,434.8 285.5,435.7 285.9,435.9 286.9,436.6 288.3,437.4 288.7,437.7 289.7,438.4 291.1,439.4 291.5,439.7 292.5,440.4 293.9,441.4 294.3,441.6 295.3,442.1 296.7,442.5 297.1,442.6 298.1,442.7 299.5,442.8 299.9,442.9 300.9,442.9 302.3,443 302.7,443 303.7,443 305.1,443 305.5,443 306.5,443 307.9,443 308.3,443 309.3,443 310.7,443 311.1,443 312.1,442.9 313.5,442.8 313.9,442.7 314.9,442.6 315.8,442.5" fill="none" stroke="#FF5561" stroke-width="3.1" stroke-linejoin="round" stroke-linecap="round"/><path d="M228.1,391.5 229.5,393.5 229.9,394.1 230.9,395.6 232.3,398 232.7,398.7 233.7,400.5 235.1,403.3 235.5,404.2 236.5,406.5 237.9,409.7 238.3,410.6 239.3,412.8 240.7,415.7 241.1,416.5 242.1,418.4 243.5,421.1 243.9,421.9 244.9,423.6 246.3,426 246.7,426.6 247.7,428.1 249.1,430.1 249.5,430.6 250.5,431.9 251.9,433.7 252.3,434.1 253.3,435.3 254.7,437.1 255.1,437.6 256.1,438.8 257.5,439.7 257.9,439.7 258.9,439.7 260.3,439.7 260.7,439.7 261.7,439.7 263.1,439.4 263.5,439.2 264.5,438.5 265.9,437.3 266.3,437 267.3,436.1 268.7,435.3 269.1,435.1 270.1,434.6 271.5,434.1 271.9,433.9 272.9,433.8 274.3,434.1 274.7,434.3 275.7,435 277.1,436.2 277.5,436.6 278.5,437.6 279.9,438.9 280.3,439.2 281.3,440.2 282.7,441.6 283.1,442 284.1,443.1 285.5,444.6 285.9,445 286.9,446 288.3,447.3 288.7,447.7 289.7,448.6 291.1,450 291.5,450.4 292.5,451.4 293.9,452.6 294.3,452.9 295.3,453.5 296.7,454 297.1,454 298.1,453.9 299.5,453.6 299.9,453.5 300.9,453.1 302.3,452.5 302.7,452.3 303.7,451.8 305.1,450.9 305.5,450.6 306.5,449.7 307.9,448.4 308.3,448 309.3,447.1 310.7,446 311.1,445.7 312.1,445 313.5,444 313.9,443.7 314.9,443.1 315.8,442.5" fill="none" stroke="#FF5561" stroke-width="3.1" stroke-linejoin="round" stroke-linecap="round"/><path d="M228.1,391.5 229.5,394.4 229.9,395.2 230.9,397.4 232.3,400.5 232.7,401.5 233.7,403.8 235.1,407.4 235.5,408.5 236.5,411.3 237.9,415.2 238.3,416.3 239.3,418.9 240.7,422.5 241.1,423.5 242.1,425.9 243.5,429.3 243.9,430.2 244.9,432.5 246.3,435.6 246.7,436.4 247.7,438.5 249.1,441.4 249.5,442.2 250.5,444.2 251.9,446.6 252.3,447.2 253.3,448.5 254.7,450.1 255.1,450.6 256.1,451.5 257.5,452.2 257.9,452.2 258.9,451.7 260.3,450.4 260.7,450 261.7,448.8 263.1,447.2 263.5,446.6 264.5,445.1 265.9,442.9 266.3,442.3 267.3,441 268.7,439.6 269.1,439.3 270.1,438.6 271.5,437.9 271.9,437.7 272.9,437.5 274.3,438 274.7,438.4 275.7,439.6 277.1,441.6 277.5,442.2 278.5,443.8 279.9,445.5 280.3,446 281.3,447.2 282.7,448.8 283.1,449.3 284.1,450.5 285.5,452.1 285.9,452.5 286.9,453.6 288.3,454.9 288.7,455.3 289.7,456.2 291.1,457.7 291.5,458.1 292.5,459 293.9,460.2 294.3,460.5 295.3,461.1 296.7,461.6 297.1,461.6 298.1,461.4 299.5,460.5 299.9,460.2 300.9,459.2 302.3,457.7 302.7,457.2 303.7,456.2 305.1,454.7 305.5,454.3 306.5,453.1 307.9,451.4 308.3,450.9 309.3,449.7 310.7,448.1 311.1,447.6 312.1,446.5 313.5,445 313.9,444.5 314.9,443.5 315.8,442.5" fill="none" stroke="#FF5561" stroke-width="3.1" stroke-linejoin="round" stroke-linecap="round"/><path d="M315.8,442.5 316.7,442.3 317.2,442.2 318.6,441.8 319.5,441.6 320,441.5 321.4,441.1 322.3,440.9 322.8,440.8 324.2,440.6 325.1,440.4 325.6,440.3 327,439.9 327.9,439.5 328.4,439.1 329.8,436.4 330.7,434.1 331.2,432.7 332.6,429.3 333.5,427.9 334,427.3 335.4,425.8 336.3,424.9 336.8,424.4 338.2,423.5 339.1,423.1 339.6,423 341,423.3 341.9,423.9 342.4,424.4 343.8,426 344.7,427.1 345.2,427.8 346.6,429.6 347.5,431.1 348,432 349.4,434.7 L349.4,434.7 348,434.3 347.5,434.1 346.6,433.9 345.2,433.6 344.7,433.4 343.8,433.2 342.4,432.8 341.9,432.7 341,432.6 339.6,432.5 339.1,432.6 338.2,432.8 336.8,433.5 336.3,433.8 335.4,434.4 334,435.4 333.5,435.7 332.6,436.4 331.2,437.8 330.7,438.4 329.8,439.3 328.4,440.3 327.9,440.5 327,440.7 325.6,440.9 325.1,441 324.2,441.1 322.8,441.3 322.3,441.4 321.4,441.5 320,441.7 319.5,441.8 318.6,442 317.2,442.2 316.7,442.3 315.8,442.5Z" fill="rgba(0,230,118,0.2)" stroke="none"/><path d="M315.8,442.5 316.7,442.3 317.2,442.2 318.6,442 319.5,441.8 320,441.7 321.4,441.5 322.3,441.4 322.8,441.3 324.2,441.1 325.1,441 325.6,440.9 327,440.7 327.9,440.5 328.4,440.3 329.8,439.3 330.7,438.4 331.2,437.8 332.6,436.4 333.5,435.7 334,435.4 335.4,434.4 336.3,433.8 336.8,433.5 338.2,432.8 339.1,432.6 339.6,432.5 341,432.6 341.9,432.7 342.4,432.8 343.8,433.2 344.7,433.4 345.2,433.6 346.6,433.9 347.5,434.1 348,434.3 349.4,434.7" fill="none" stroke="#1EE27C" stroke-width="3.1" stroke-linejoin="round" stroke-linecap="round"/><path d="M315.8,442.5 316.7,442.3 317.2,442.2 318.6,441.9 319.5,441.7 320,441.6 321.4,441.3 322.3,441.1 322.8,441.1 324.2,440.8 325.1,440.7 325.6,440.6 327,440.3 327.9,440 328.4,439.7 329.8,437.9 330.7,436.3 331.2,435.4 332.6,433 333.5,431.9 334,431.4 335.4,430.1 336.3,429.3 336.8,428.9 338.2,428 339.1,427.7 339.6,427.6 341,427.8 341.9,428.3 342.4,428.6 343.8,429.7 344.7,430.4 345.2,430.8 346.6,432 347.5,432.8 348,433.3 349.4,434.7" fill="none" stroke="#1EE27C" stroke-width="3.1" stroke-linejoin="round" stroke-linecap="round"/><path d="M315.8,442.5 316.7,442.3 317.2,442.2 318.6,441.8 319.5,441.6 320,441.5 321.4,441.1 322.3,440.9 322.8,440.8 324.2,440.6 325.1,440.4 325.6,440.3 327,439.9 327.9,439.5 328.4,439.1 329.8,436.4 330.7,434.1 331.2,432.7 332.6,429.3 333.5,427.9 334,427.3 335.4,425.8 336.3,424.9 336.8,424.4 338.2,423.5 339.1,423.1 339.6,423 341,423.3 341.9,423.9 342.4,424.4 343.8,426 344.7,427.1 345.2,427.8 346.6,429.6 347.5,431.1 348,432 349.4,434.7" fill="none" stroke="#1EE27C" stroke-width="3.1" stroke-linejoin="round" stroke-linecap="round"/><path d="M349.4,434.7 350.3,435.5 350.8,436 352.2,437.2 353.1,437.8 353.6,438.1 355,438.7 355.9,438.8 356.4,438.8 357.8,438.8 358.7,438.8 359.2,438.8 360.6,438.7 361.5,438.6 362,438.6 363.4,438.4 L363.4,438.4 362,438.3 361.5,438.2 360.6,438.1 359.2,437.9 358.7,437.8 357.8,437.6 356.4,437.3 355.9,437.2 355,436.9 353.6,436.5 353.1,436.3 352.2,436 350.8,435.4 350.3,435.1 349.4,434.7Z" fill="rgba(255,82,82,0.2)" stroke="none"/><path d="M349.4,434.7 350.3,435.1 350.8,435.4 352.2,436 353.1,436.3 353.6,436.5 355,436.9 355.9,437.2 356.4,437.3 357.8,437.6 358.7,437.8 359.2,437.9 360.6,438.1 361.5,438.2 362,438.3 363.4,438.4" fill="none" stroke="#FF5561" stroke-width="3.1" stroke-linejoin="round" stroke-linecap="round"/><path d="M349.4,434.7 350.3,435.3 350.8,435.7 352.2,436.6 353.1,437.1 353.6,437.3 355,437.8 355.9,438 356.4,438 357.8,438.2 358.7,438.2 359.2,438.3 360.6,438.3 361.5,438.4 362,438.4 363.4,438.4" fill="none" stroke="#FF5561" stroke-width="3.1" stroke-linejoin="round" stroke-linecap="round"/><path d="M349.4,434.7 350.3,435.5 350.8,436 352.2,437.2 353.1,437.8 353.6,438.1 355,438.7 355.9,438.8 356.4,438.8 357.8,438.8 358.7,438.8 359.2,438.8 360.6,438.7 361.5,438.6 362,438.6 363.4,438.4" fill="none" stroke="#FF5561" stroke-width="3.1" stroke-linejoin="round" stroke-linecap="round"/><path d="M363.4,438.4 364.3,437.3 364.8,436.9 366.2,436.3 367.1,436.3 367.6,436.4 369,436.8 369,436.8 L369,436.8 369,436.8 367.6,437 367.1,437 366.2,437.3 364.8,437.7 364.3,437.9 363.4,438.4Z" fill="rgba(0,230,118,0.2)" stroke="none"/><path d="M363.4,438.4 364.3,437.9 364.8,437.7 366.2,437.3 367.1,437 367.6,437 369,436.8 369,436.8" fill="none" stroke="#1EE27C" stroke-width="3.1" stroke-linejoin="round" stroke-linecap="round"/><path d="M363.4,438.4 364.3,437.6 364.8,437.2 366.2,436.8 367.1,436.8 367.6,436.8 369,436.8 369,436.8" fill="none" stroke="#1EE27C" stroke-width="3.1" stroke-linejoin="round" stroke-linecap="round"/><path d="M363.4,438.4 364.3,437.3 364.8,436.9 366.2,436.3 367.1,436.3 367.6,436.4 369,436.8 369,436.8" fill="none" stroke="#1EE27C" stroke-width="3.1" stroke-linejoin="round" stroke-linecap="round"/><path d="M369,436.8 369.9,436.9 370.4,437 371.8,437.4 372.7,437.7 373.2,437.8 374.6,438.3 375.5,438.7 376,438.9 377.4,439.7 378.3,440.2 378.8,440.5 380.2,441.5 381.1,442.2 381.6,442.7 383,444.1 383.9,445.2 384.4,445.9 385.8,447.9 386.7,449.2 387.2,449.9 388.6,451.9 389.5,453.1 390,453.8 391.4,455.7 392.3,456.9 392.8,457.5 394.2,459.5 395.1,460.7 395.6,461.5 397,463.7 397.9,465.2 398.4,466.2 399.8,469 400.7,470.9 401.2,471.9 402.6,474.4 403.5,475.7 404,476.5 405.4,478.7 406.3,479.8 406.8,480.3 408.2,480.8 409.1,480.5 409.6,480.2 411,479.1 411.9,478.3 412.4,477.7 413.8,475.2 414.7,473.3 415.2,472.3 416.6,469.8 417.5,468.1 418,467.2 419.4,464.9 420.3,463.6 420.8,463 422.2,461.5 423.1,460.6 423.6,460.1 425,459 425.4,458.8 L425.4,458.8 425,458.9 423.6,459.2 423.1,459.3 422.2,459.5 420.8,459.7 420.3,459.8 419.4,459.9 418,460.1 417.5,460.1 416.6,460.2 415.2,460.3 414.7,460.3 413.8,460.4 412.4,460.4 411.9,460.4 411,460.3 409.6,459.9 409.1,459.8 408.2,459.4 406.8,458.9 406.3,458.7 405.4,458.3 404,457.6 403.5,457.3 402.6,456.7 401.2,455.6 400.7,455.2 399.8,454.4 398.4,453.1 397.9,452.7 397,451.9 395.6,450.7 395.1,450.2 394.2,449.4 392.8,448.1 392.3,447.6 391.4,446.8 390,445.5 389.5,445.1 388.6,444.4 387.2,443.3 386.7,442.9 385.8,442.1 384.4,441.1 383.9,440.7 383,440.2 381.6,439.4 381.1,439.2 380.2,438.9 378.8,438.4 378.3,438.3 377.4,438 376,437.7 375.5,437.6 374.6,437.4 373.2,437.2 372.7,437.1 371.8,437 370.4,436.9 369.9,436.8 369,436.8Z" fill="rgba(255,82,82,0.2)" stroke="none"/><path d="M369,436.8 369.9,436.8 370.4,436.9 371.8,437 372.7,437.1 373.2,437.2 374.6,437.4 375.5,437.6 376,437.7 377.4,438 378.3,438.3 378.8,438.4 380.2,438.9 381.1,439.2 381.6,439.4 383,440.2 383.9,440.7 384.4,441.1 385.8,442.1 386.7,442.9 387.2,443.3 388.6,444.4 389.5,445.1 390,445.5 391.4,446.8 392.3,447.6 392.8,448.1 394.2,449.4 395.1,450.2 395.6,450.7 397,451.9 397.9,452.7 398.4,453.1 399.8,454.4 400.7,455.2 401.2,455.6 402.6,456.7 403.5,457.3 404,457.6 405.4,458.3 406.3,458.7 406.8,458.9 408.2,459.4 409.1,459.8 409.6,459.9 411,460.3 411.9,460.4 412.4,460.4 413.8,460.4 414.7,460.3 415.2,460.3 416.6,460.2 417.5,460.1 418,460.1 419.4,459.9 420.3,459.8 420.8,459.7 422.2,459.5 423.1,459.3 423.6,459.2 425,458.9 425.4,458.8" fill="none" stroke="#FF5561" stroke-width="3.1" stroke-linejoin="round" stroke-linecap="round"/><path d="M369,436.8 369.9,436.9 370.4,437 371.8,437.2 372.7,437.4 373.2,437.5 374.6,437.9 375.5,438.1 376,438.3 377.4,438.8 378.3,439.2 378.8,439.5 380.2,440.2 381.1,440.8 381.6,441.1 383,442.2 383.9,443 384.4,443.5 385.8,445 386.7,446.1 387.2,446.6 388.6,448.2 389.5,449.1 390,449.6 391.4,451.1 392.3,452.1 392.8,452.7 394.2,454.2 395.1,455.2 395.6,455.8 397,457.4 397.9,458.5 398.4,459.1 399.8,460.9 400.7,462 401.2,462.6 402.6,464.3 403.5,465.3 404,466 405.4,467.9 406.3,468.9 406.8,469.4 408.2,469.8 409.1,469.8 409.6,469.8 411,469.8 411.9,469.8 412.4,469.8 413.8,469.2 414.7,468.2 415.2,467.6 416.6,465.7 417.5,464.8 418,464.4 419.4,463.2 420.3,462.4 420.8,462 422.2,461 423.1,460.3 423.6,460 425,459 425.4,458.8" fill="none" stroke="#FF5561" stroke-width="3.1" stroke-linejoin="round" stroke-linecap="round"/><path d="M369,436.8 369.9,436.9 370.4,437 371.8,437.4 372.7,437.7 373.2,437.8 374.6,438.3 375.5,438.7 376,438.9 377.4,439.7 378.3,440.2 378.8,440.5 380.2,441.5 381.1,442.2 381.6,442.7 383,444.1 383.9,445.2 384.4,445.9 385.8,447.9 386.7,449.2 387.2,449.9 388.6,451.9 389.5,453.1 390,453.8 391.4,455.7 392.3,456.9 392.8,457.5 394.2,459.5 395.1,460.7 395.6,461.5 397,463.7 397.9,465.2 398.4,466.2 399.8,469 400.7,470.9 401.2,471.9 402.6,474.4 403.5,475.7 404,476.5 405.4,478.7 406.3,479.8 406.8,480.3 408.2,480.8 409.1,480.5 409.6,480.2 411,479.1 411.9,478.3 412.4,477.7 413.8,475.2 414.7,473.3 415.2,472.3 416.6,469.8 417.5,468.1 418,467.2 419.4,464.9 420.3,463.6 420.8,463 422.2,461.5 423.1,460.6 423.6,460.1 425,459 425.4,458.8" fill="none" stroke="#FF5561" stroke-width="3.1" stroke-linejoin="round" stroke-linecap="round"/><path d="M425.4,458.8 425.9,457.9 426.8,456.1 428.2,452.6 428.7,451.1 429.6,448 431,442.5 431.5,440.6 432.4,437.1 433.8,432.4 434.3,430.8 435.2,428 436.6,423.9 437.1,422.6 438,420.4 439.4,417.3 439.9,416.4 440.8,414.6 442.2,412.1 442.7,411.1 443.6,409.4 445,406.6 445.5,405.6 446.4,403.8 447.8,400.9 448.3,399.8 449.2,397.8 450.6,394.4 451.1,393.1 452,390.9 453.4,387.7 453.9,386.7 454.8,385.2 456.2,383 456.7,382.2 457.6,381 459,379.4 459.5,379 460.4,378.6 461.8,378.1 462.3,378 463.2,377.8 464.6,377.6 465.1,377.4 466,377.1 467.4,376.1 467.9,375.5 468.8,374.3 470.2,372 470.7,371.1 471.6,369.4 473,366.7 473.5,365.5 474.4,363.2 475.8,359.4 476.3,358.1 477.2,355.8 478.6,353 479.1,352.1 480,350.5 481.4,348.3 481.9,347.6 482.8,346.3 484.2,344.5 484.7,343.9 485.6,342.8 487,341 487.5,340.4 488.4,339.3 489.8,337.8 490.3,337.4 491.2,336.9 492.6,336.9 493.1,337.1 494,337.6 495.4,338.8 495.9,339.3 496.8,340.1 498.2,341.3 498.7,341.6 499.6,342 501,342.7 501.5,343 502.4,343.4 503.8,343.9 504.3,344 505.2,344.2 506.6,343.4 507.1,342.2 508,339.1 509.4,333.6 509.9,331.9 510.8,329.2 512.2,325 512.7,323.6 513.6,321.2 515,318.1 515.5,317.2 516.4,315.6 517.8,313.4 518.3,312.6 519.2,311.2 520.6,308.6 521.1,307.5 522,305.4 523.4,302.5 523.9,301.7 524.8,300.6 526.2,300.9 526.7,302.1 527.6,305.2 529,308.9 529.5,309.5 530.4,310.3 531.8,311.4 532.3,311.7 533.2,312.2 534.6,313 535.1,313.3 536,313.7 537.4,314.4 537.9,314.6 538.8,315 540.2,315.7 540.7,316 541.6,316.5 543,317.6 543.5,318.1 544.4,319 545.8,320.7 546.3,321.3 547.2,322.4 548.6,324.2 549.1,324.8 550,325.9 551.4,327.6 551.9,328.2 552.8,329.4 554.2,331.2 554.7,331.9 555.6,333.1 557,335.1 557.1,335.2 L557.1,335.2 557,335.2 555.6,334.8 554.7,334.6 554.2,334.5 552.8,334.3 551.9,334.2 551.4,334.1 550,334 549.1,333.9 548.6,333.9 547.2,333.9 546.3,333.9 545.8,333.9 544.4,334.1 543.5,334.2 543,334.3 541.6,334.5 540.7,334.7 540.2,334.8 538.8,335 537.9,335.2 537.4,335.3 536,335.6 535.1,335.8 534.6,336 533.2,336.3 532.3,336.6 531.8,336.7 530.4,337.2 529.5,337.4 529,337.6 527.6,338.1 526.7,338.5 526.2,338.8 524.8,339.6 523.9,340.4 523.4,340.9 522,342.5 521.1,343.7 520.6,344.3 519.2,346.6 518.3,348.1 517.8,349 516.4,351.5 515.5,353 515,353.8 513.6,356.2 512.7,357.8 512.2,358.6 510.8,360.7 509.9,362.2 509.4,363 508,365.1 507.1,366.3 506.6,366.9 505.2,367.8 504.3,368.2 503.8,368.4 502.4,368.9 501.5,369.1 501,369.3 499.6,369.9 498.7,370.4 498.2,370.6 496.8,371.3 495.9,371.8 495.4,372.1 494,373 493.1,373.6 492.6,374 491.2,375.2 490.3,376 489.8,376.5 488.4,377.9 487.5,379 487,379.6 485.6,381.7 484.7,383.1 484.2,383.9 482.8,386.3 481.9,387.8 481.4,388.6 480,391.3 479.1,393.1 478.6,394 477.2,396.3 476.3,397.3 475.8,397.7 474.4,398.9 473.5,399.6 473,399.9 471.6,400.7 470.7,401.2 470.2,401.5 468.8,402.2 467.9,402.7 467.4,402.9 466,403.9 465.1,404.5 464.6,405 463.2,406.3 462.3,407.2 461.8,407.7 460.4,409.3 459.5,410.3 459,410.9 457.6,412.6 456.7,413.8 456.2,414.4 454.8,416.3 453.9,417.4 453.4,418.1 452,419.8 451.1,420.9 450.6,421.5 449.2,423.2 448.3,424.3 447.8,424.9 446.4,426.8 445.5,428.1 445,428.8 443.6,431 442.7,432.3 442.2,433.1 440.8,435.2 439.9,436.6 439.4,437.3 438,439.4 437.1,440.8 436.6,441.5 435.2,443.7 434.3,445.1 433.8,446 432.4,448.5 431.5,450.2 431,451.1 429.6,453.6 428.7,455 428.2,455.7 426.8,457.4 425.9,458.3 425.4,458.8Z" fill="rgba(0,230,118,0.2)" stroke="none"/><path d="M425.4,458.8 425.9,458.3 426.8,457.4 428.2,455.7 428.7,455 429.6,453.6 431,451.1 431.5,450.2 432.4,448.5 433.8,446 434.3,445.1 435.2,443.7 436.6,441.5 437.1,440.8 438,439.4 439.4,437.3 439.9,436.6 440.8,435.2 442.2,433.1 442.7,432.3 443.6,431 445,428.8 445.5,428.1 446.4,426.8 447.8,424.9 448.3,424.3 449.2,423.2 450.6,421.5 451.1,420.9 452,419.8 453.4,418.1 453.9,417.4 454.8,416.3 456.2,414.4 456.7,413.8 457.6,412.6 459,410.9 459.5,410.3 460.4,409.3 461.8,407.7 462.3,407.2 463.2,406.3 464.6,405 465.1,404.5 466,403.9 467.4,402.9 467.9,402.7 468.8,402.2 470.2,401.5 470.7,401.2 471.6,400.7 473,399.9 473.5,399.6 474.4,398.9 475.8,397.7 476.3,397.3 477.2,396.3 478.6,394 479.1,393.1 480,391.3 481.4,388.6 481.9,387.8 482.8,386.3 484.2,383.9 484.7,383.1 485.6,381.7 487,379.6 487.5,379 488.4,377.9 489.8,376.5 490.3,376 491.2,375.2 492.6,374 493.1,373.6 494,373 495.4,372.1 495.9,371.8 496.8,371.3 498.2,370.6 498.7,370.4 499.6,369.9 501,369.3 501.5,369.1 502.4,368.9 503.8,368.4 504.3,368.2 505.2,367.8 506.6,366.9 507.1,366.3 508,365.1 509.4,363 509.9,362.2 510.8,360.7 512.2,358.6 512.7,357.8 513.6,356.2 515,353.8 515.5,353 516.4,351.5 517.8,349 518.3,348.1 519.2,346.6 520.6,344.3 521.1,343.7 522,342.5 523.4,340.9 523.9,340.4 524.8,339.6 526.2,338.8 526.7,338.5 527.6,338.1 529,337.6 529.5,337.4 530.4,337.2 531.8,336.7 532.3,336.6 533.2,336.3 534.6,336 535.1,335.8 536,335.6 537.4,335.3 537.9,335.2 538.8,335 540.2,334.8 540.7,334.7 541.6,334.5 543,334.3 543.5,334.2 544.4,334.1 545.8,333.9 546.3,333.9 547.2,333.9 548.6,333.9 549.1,333.9 550,334 551.4,334.1 551.9,334.2 552.8,334.3 554.2,334.5 554.7,334.6 555.6,334.8 557,335.2 557.1,335.2" fill="none" stroke="#1EE27C" stroke-width="3.1" stroke-linejoin="round" stroke-linecap="round"/><path d="M425.4,458.8 425.9,458.1 426.8,456.6 428.2,454.2 428.7,453.2 429.6,451.3 431,448.1 431.5,447 432.4,444.8 433.8,441.5 434.3,440.4 435.2,438.5 436.6,435.6 437.1,434.6 438,432.7 439.4,430 439.9,429 440.8,427.3 442.2,424.8 442.7,423.9 443.6,422.3 445,419.9 445.5,419 446.4,417.6 447.8,415.4 448.3,414.6 449.2,413.3 450.6,411.3 451.1,410.6 452,409.3 453.4,407 453.9,406.1 454.8,404.3 456.2,401.4 456.7,400.5 457.6,399.2 459,397.7 459.5,397.3 460.4,396.5 461.8,395.5 462.3,395.1 463.2,394.4 464.6,393.1 465.1,392.6 466,391.7 467.4,390.1 467.9,389.6 468.8,388.5 470.2,386.7 470.7,386 471.6,384.7 473,382.4 473.5,381.3 474.4,379.3 475.8,375.9 476.3,374.7 477.2,372.7 478.6,370.3 479.1,369.5 480,368.2 481.4,366.4 481.9,365.8 482.8,364.8 484.2,363.2 484.7,362.7 485.6,361.8 487,360.2 487.5,359.7 488.4,358.8 489.8,357.5 490.3,357.1 491.2,356.6 492.6,356.2 493.1,356.1 494,355.9 495.4,355.7 495.9,355.7 496.8,355.6 498.2,355.5 498.7,355.4 499.6,355.4 501,355.3 501.5,355.3 502.4,355.2 503.8,355.2 504.3,355.1 505.2,355.1 506.6,354.4 507.1,353.6 508,351.5 509.4,347.4 509.9,345.9 510.8,343.6 512.2,340.7 512.7,339.7 513.6,337.9 515,335.1 515.5,334.1 516.4,332.4 517.8,329.7 518.3,328.7 519.2,327 520.6,324.6 521.1,323.9 522,322.7 523.4,320.8 523.9,320.3 524.8,319.5 526.2,319.5 526.7,319.8 527.6,320.7 529,322.2 529.5,322.5 530.4,322.8 531.8,323 532.3,323.1 533.2,323.2 534.6,323.3 535.1,323.4 536,323.5 537.4,323.8 537.9,323.9 538.8,324.2 540.2,324.7 540.7,324.9 541.6,325.3 543,325.9 543.5,326.2 544.4,326.6 545.8,327.4 546.3,327.7 547.2,328.3 548.6,329.2 549.1,329.6 550,330.2 551.4,331.1 551.9,331.4 552.8,332.1 554.2,333.1 554.7,333.4 555.6,334.1 557,335.1 557.1,335.2" fill="none" stroke="#1EE27C" stroke-width="3.1" stroke-linejoin="round" stroke-linecap="round"/><path d="M425.4,458.8 425.9,457.9 426.8,456.1 428.2,452.6 428.7,451.1 429.6,448 431,442.5 431.5,440.6 432.4,437.1 433.8,432.4 434.3,430.8 435.2,428 436.6,423.9 437.1,422.6 438,420.4 439.4,417.3 439.9,416.4 440.8,414.6 442.2,412.1 442.7,411.1 443.6,409.4 445,406.6 445.5,405.6 446.4,403.8 447.8,400.9 448.3,399.8 449.2,397.8 450.6,394.4 451.1,393.1 452,390.9 453.4,387.7 453.9,386.7 454.8,385.2 456.2,383 456.7,382.2 457.6,381 459,379.4 459.5,379 460.4,378.6 461.8,378.1 462.3,378 463.2,377.8 464.6,377.6 465.1,377.4 466,377.1 467.4,376.1 467.9,375.5 468.8,374.3 470.2,372 470.7,371.1 471.6,369.4 473,366.7 473.5,365.5 474.4,363.2 475.8,359.4 476.3,358.1 477.2,355.8 478.6,353 479.1,352.1 480,350.5 481.4,348.3 481.9,347.6 482.8,346.3 484.2,344.5 484.7,343.9 485.6,342.8 487,341 487.5,340.4 488.4,339.3 489.8,337.8 490.3,337.4 491.2,336.9 492.6,336.9 493.1,337.1 494,337.6 495.4,338.8 495.9,339.3 496.8,340.1 498.2,341.3 498.7,341.6 499.6,342 501,342.7 501.5,343 502.4,343.4 503.8,343.9 504.3,344 505.2,344.2 506.6,343.4 507.1,342.2 508,339.1 509.4,333.6 509.9,331.9 510.8,329.2 512.2,325 512.7,323.6 513.6,321.2 515,318.1 515.5,317.2 516.4,315.6 517.8,313.4 518.3,312.6 519.2,311.2 520.6,308.6 521.1,307.5 522,305.4 523.4,302.5 523.9,301.7 524.8,300.6 526.2,300.9 526.7,302.1 527.6,305.2 529,308.9 529.5,309.5 530.4,310.3 531.8,311.4 532.3,311.7 533.2,312.2 534.6,313 535.1,313.3 536,313.7 537.4,314.4 537.9,314.6 538.8,315 540.2,315.7 540.7,316 541.6,316.5 543,317.6 543.5,318.1 544.4,319 545.8,320.7 546.3,321.3 547.2,322.4 548.6,324.2 549.1,324.8 550,325.9 551.4,327.6 551.9,328.2 552.8,329.4 554.2,331.2 554.7,331.9 555.6,333.1 557,335.1 557.1,335.2" fill="none" stroke="#1EE27C" stroke-width="3.1" stroke-linejoin="round" stroke-linecap="round"/><path d="M557.1,335.2 557.5,335.7 558.5,336.9 559.9,338.9 560.3,339.5 561.3,341 562.7,343.3 563.1,344 564.1,345.8 565.5,348.8 565.9,349.8 566.9,352.2 568.3,355.4 568.7,356.3 569.7,358.4 571.1,360.8 571.5,361.5 572.5,363.2 573.9,365.4 574.3,366 575.3,366.9 576.7,367.3 577.1,367.3 578.1,367.3 579.5,367.2 579.9,367.2 580.9,367.1 582.3,367 582.7,366.9 583.7,366.6 585.1,364 585.5,363 586.5,361.2 587.9,361 588.3,361 589.3,361 590.7,361 591.1,361 592.1,361 593.5,361 593.9,361 594.9,361 596.3,361 596.7,361 597.7,361 599.1,361 599.5,361 600.5,360.8 601.9,359.1 602.3,358.5 603.3,356.9 604.7,355.1 605.1,354.8 606.1,354.6 607.5,354.8 607.9,354.9 608.9,355.1 610.3,355.6 610.7,355.7 611.7,356.8 613.1,359.1 613.5,359.9 614.5,362.1 615.9,365.1 616.3,365.9 617.3,367.9 618.7,370.9 619.1,371.8 620.1,374.1 621.5,377.2 621.9,378.1 622.9,380.1 624.3,382.9 624.7,383.8 625.7,386 627.1,389 627.5,389.8 628.5,391.7 629.9,393.8 630.3,394.2 631.3,394.9 632.7,395.3 633.1,395.3 634.1,395.5 635.5,395.6 635.9,395.7 636.9,395.8 638.3,395.9 638.7,396 639.7,396.2 641.1,396.8 641.5,397 642.5,397.8 643.9,398.9 644.3,399.2 645.3,399.9 646.7,400.7 647.1,400.8 648.1,400.9 649.5,400.2 649.9,399.9 650.9,398.7 652.3,396.8 652.7,396.2 653.7,394.6 655.1,392.6 655.5,392 656.5,390.5 657.9,388.3 658.3,387.6 659.3,385.9 660.7,383.4 661.1,382.6 662,380.9 L662,380.9 661.1,381.1 660.7,381.2 659.3,381.5 658.3,381.7 657.9,381.8 656.5,381.9 655.5,382 655.1,382 653.7,382 652.7,382 652.3,382 650.9,382 649.9,382 649.5,382 648.1,382 647.1,381.9 646.7,381.9 645.3,381.5 644.3,381.1 643.9,381 642.5,380.3 641.5,379.8 641.1,379.6 639.7,379 638.7,378.6 638.3,378.4 636.9,377.8 635.9,377.4 635.5,377.2 634.1,376.5 633.1,376 632.7,375.7 631.3,374.9 630.3,374.1 629.9,373.8 628.5,372.4 627.5,371.4 627.1,371 625.7,369.4 624.7,368.3 624.3,367.9 622.9,366.4 621.9,365.3 621.5,364.9 620.1,363.3 619.1,362.2 618.7,361.7 617.3,360.3 616.3,359.4 615.9,359 614.5,357.8 613.5,356.9 613.1,356.5 611.7,355.6 610.7,355.2 610.3,355.1 608.9,354.9 607.9,354.7 607.5,354.7 606.1,354.6 605.1,354.6 604.7,354.6 603.3,354.6 602.3,354.6 601.9,354.6 600.5,354.6 599.5,354.6 599.1,354.6 597.7,354.6 596.7,354.6 596.3,354.6 594.9,354.6 593.9,354.6 593.5,354.6 592.1,354.6 591.1,354.5 590.7,354.4 589.3,354.2 588.3,354 587.9,354 586.5,353.7 585.5,353.6 585.1,353.5 583.7,353.3 582.7,353.1 582.3,353 580.9,352.7 579.9,352.5 579.5,352.5 578.1,352.1 577.1,351.9 576.7,351.7 575.3,351.2 574.3,350.7 573.9,350.4 572.5,349.5 571.5,348.8 571.1,348.5 569.7,347.3 568.7,346.2 568.3,345.7 566.9,343.9 565.9,342.6 565.5,342.1 564.1,340.5 563.1,339.5 562.7,339.2 561.3,338 560.3,337.3 559.9,337 558.5,336 557.5,335.4 557.1,335.2Z" fill="rgba(255,82,82,0.2)" stroke="none"/><path d="M557.1,335.2 557.5,335.4 558.5,336 559.9,337 560.3,337.3 561.3,338 562.7,339.2 563.1,339.5 564.1,340.5 565.5,342.1 565.9,342.6 566.9,343.9 568.3,345.7 568.7,346.2 569.7,347.3 571.1,348.5 571.5,348.8 572.5,349.5 573.9,350.4 574.3,350.7 575.3,351.2 576.7,351.7 577.1,351.9 578.1,352.1 579.5,352.5 579.9,352.5 580.9,352.7 582.3,353 582.7,353.1 583.7,353.3 585.1,353.5 585.5,353.6 586.5,353.7 587.9,354 588.3,354 589.3,354.2 590.7,354.4 591.1,354.5 592.1,354.6 593.5,354.6 593.9,354.6 594.9,354.6 596.3,354.6 596.7,354.6 597.7,354.6 599.1,354.6 599.5,354.6 600.5,354.6 601.9,354.6 602.3,354.6 603.3,354.6 604.7,354.6 605.1,354.6 606.1,354.6 607.5,354.7 607.9,354.7 608.9,354.9 610.3,355.1 610.7,355.2 611.7,355.6 613.1,356.5 613.5,356.9 614.5,357.8 615.9,359 616.3,359.4 617.3,360.3 618.7,361.7 619.1,362.2 620.1,363.3 621.5,364.9 621.9,365.3 622.9,366.4 624.3,367.9 624.7,368.3 625.7,369.4 627.1,371 627.5,371.4 628.5,372.4 629.9,373.8 630.3,374.1 631.3,374.9 632.7,375.7 633.1,376 634.1,376.5 635.5,377.2 635.9,377.4 636.9,377.8 638.3,378.4 638.7,378.6 639.7,379 641.1,379.6 641.5,379.8 642.5,380.3 643.9,381 644.3,381.1 645.3,381.5 646.7,381.9 647.1,381.9 648.1,382 649.5,382 649.9,382 650.9,382 652.3,382 652.7,382 653.7,382 655.1,382 655.5,382 656.5,381.9 657.9,381.8 658.3,381.7 659.3,381.5 660.7,381.2 661.1,381.1 662,380.9" fill="none" stroke="#FF5561" stroke-width="3.1" stroke-linejoin="round" stroke-linecap="round"/><path d="M557.1,335.2 557.5,335.6 558.5,336.5 559.9,337.9 560.3,338.4 561.3,339.6 562.7,341.3 563.1,341.8 564.1,343.2 565.5,345.5 565.9,346.2 566.9,348 568.3,350.5 568.7,351.2 569.7,352.8 571.1,354.7 571.5,355.2 572.5,356.6 573.9,358.3 574.3,358.7 575.3,359.5 576.7,359.8 577.1,359.8 578.1,359.8 579.5,359.8 579.9,359.8 580.9,359.8 582.3,359.8 582.7,359.8 583.7,359.8 585.1,358.7 585.5,358.2 586.5,357.5 587.9,357.4 588.3,357.5 589.3,357.6 590.7,357.8 591.1,357.8 592.1,357.9 593.5,357.9 593.9,357.9 594.9,357.8 596.3,357.8 596.7,357.7 597.7,357.6 599.1,357.5 599.5,357.4 600.5,357.2 601.9,356.5 602.3,356.2 603.3,355.5 604.7,354.8 605.1,354.7 606.1,354.6 607.5,354.7 607.9,354.7 608.9,354.8 610.3,355.1 610.7,355.2 611.7,355.8 613.1,357.5 613.5,358 614.5,359.5 615.9,361.7 616.3,362.2 617.3,363.7 618.7,366 619.1,366.7 620.1,368.5 621.5,370.9 621.9,371.6 622.9,373.3 624.3,375.5 624.7,376.2 625.7,377.9 627.1,380.3 627.5,380.9 628.5,382.5 629.9,384.3 630.3,384.7 631.3,385.5 632.7,386.2 633.1,386.4 634.1,386.7 635.5,387.1 635.9,387.2 636.9,387.5 638.3,387.9 638.7,388 639.7,388.4 641.1,389.1 641.5,389.3 642.5,389.9 643.9,390.8 644.3,391 645.3,391.5 646.7,392 647.1,392.1 648.1,392.2 649.5,391.9 649.9,391.7 650.9,391.1 652.3,390.1 652.7,389.8 653.7,389 655.1,387.9 655.5,387.6 656.5,386.8 657.9,385.5 658.3,385.1 659.3,384 660.7,382.5 661.1,382 662,380.9" fill="none" stroke="#FF5561" stroke-width="3.1" stroke-linejoin="round" stroke-linecap="round"/><path d="M557.1,335.2 557.5,335.7 558.5,336.9 559.9,338.9 560.3,339.5 561.3,341 562.7,343.3 563.1,344 564.1,345.8 565.5,348.8 565.9,349.8 566.9,352.2 568.3,355.4 568.7,356.3 569.7,358.4 571.1,360.8 571.5,361.5 572.5,363.2 573.9,365.4 574.3,366 575.3,366.9 576.7,367.3 577.1,367.3 578.1,367.3 579.5,367.2 579.9,367.2 580.9,367.1 582.3,367 582.7,366.9 583.7,366.6 585.1,364 585.5,363 586.5,361.2 587.9,361 588.3,361 589.3,361 590.7,361 591.1,361 592.1,361 593.5,361 593.9,361 594.9,361 596.3,361 596.7,361 597.7,361 599.1,361 599.5,361 600.5,360.8 601.9,359.1 602.3,358.5 603.3,356.9 604.7,355.1 605.1,354.8 606.1,354.6 607.5,354.8 607.9,354.9 608.9,355.1 610.3,355.6 610.7,355.7 611.7,356.8 613.1,359.1 613.5,359.9 614.5,362.1 615.9,365.1 616.3,365.9 617.3,367.9 618.7,370.9 619.1,371.8 620.1,374.1 621.5,377.2 621.9,378.1 622.9,380.1 624.3,382.9 624.7,383.8 625.7,386 627.1,389 627.5,389.8 628.5,391.7 629.9,393.8 630.3,394.2 631.3,394.9 632.7,395.3 633.1,395.3 634.1,395.5 635.5,395.6 635.9,395.7 636.9,395.8 638.3,395.9 638.7,396 639.7,396.2 641.1,396.8 641.5,397 642.5,397.8 643.9,398.9 644.3,399.2 645.3,399.9 646.7,400.7 647.1,400.8 648.1,400.9 649.5,400.2 649.9,399.9 650.9,398.7 652.3,396.8 652.7,396.2 653.7,394.6 655.1,392.6 655.5,392 656.5,390.5 657.9,388.3 658.3,387.6 659.3,385.9 660.7,383.4 661.1,382.6 662,380.9" fill="none" stroke="#FF5561" stroke-width="3.1" stroke-linejoin="round" stroke-linecap="round"/><path d="M662,380.9 663.4,378.8 663.9,378.1 664.8,376.9 666.2,375 666.7,374.4 667.6,373.3 669,371.7 669.5,371.1 670.4,370.2 671.8,368.9 672.3,368.5 673.2,367.7 674.6,366.6 675.1,366.2 676,365.5 677.4,364.3 677.9,363.9 678.8,363.2 680.2,362.1 680.7,361.7 681.6,361 683,359.8 683.5,359.4 684.4,358.5 685.8,357 686.3,356.4 687.2,355.3 688.6,353.6 689.1,353 690,351.9 691.4,350.3 691.9,349.8 692.8,348.8 694.2,347.4 694.7,347 695.6,346.1 697,344.8 697.5,344.3 698.4,343.4 699.8,342 700.3,341.4 701.2,340.5 702.6,339 703.1,338.6 704,337.8 705.4,336.7 705.9,336.4 706.8,335.9 708.2,335.1 708.7,334.9 709.6,334.4 711,333.8 711.5,333.6 712.4,333.2 713.8,332.6 714.3,332.4 715.2,332 716.6,331.4 717.1,331.2 718,330.7 719.4,330 719.9,329.7 720.8,329.1 722.2,328 722.7,327.6 723.6,326.8 725,325.6 725.5,325.2 726.4,324.4 727.8,323.3 728.3,322.9 729.2,322.3 730.6,321.5 731.1,321.2 732,320.7 733.4,319.9 733.9,319.6 734.8,319.1 736.2,318.5 736.7,318.4 737.6,318.1 739,318 739.5,318.1 740.4,318.4 741.8,319.5 742.3,320 743.2,320.9 744.6,322.4 745.1,322.9 746,323.5 747.4,324.1 747.9,324.1 748.8,323.9 750.2,323.3 750.7,323 751.6,322.4 753,321.2 753.5,320.7 754.4,319.9 755.8,318.6 756.3,318.2 757.2,317.4 758.6,316.4 759.1,316.1 760,315.4 761.4,314.4 761.9,314 762.8,313.3 764.2,312.3 764.7,311.9 765.6,311.3 767,310.3 767.5,310 768.4,309.4 769.8,308.5 770.3,308.2 771.2,307.7 772.6,307 773.1,306.8 774,306.3 775.4,305.6 775.9,305.3 776.8,304.9 778.2,304.1 778.7,303.8 779.6,303.3 781,302.3 781.5,302 782.4,301.4 783.8,300.4 784.3,300.1 785.2,299.4 786.6,298.4 787.1,298 788,297.3 789.4,296.1 789.9,295.6 790.8,294.8 792.2,293.5 792.7,293 793.6,292 795,290.5 795.5,289.9 796.4,288.7 797.8,286.6 798.3,285.8 799.2,284.2 800.6,281.6 801.1,280.6 802,278.9 803.4,276.1 803.9,275.1 804.8,273.4 806.2,270.7 806.7,269.6 807.6,267.8 809,264.9 809.5,263.9 810.4,262.1 811.8,259.5 812.3,258.5 813.2,256.6 814.6,253.9 815.1,253 816,251.6 817.4,250.1 817.9,249.7 818.8,249.2 820.2,248.4 820.7,248.1 821.6,247.7 823,247.3 823.5,247.2 824.4,247 825.8,247 826.3,247.1 827.2,247.1 828.6,247.3 829.1,247.4 830,247.5 831.4,247.7 831.9,247.7 832.8,247.8 834.2,248 834.7,248.1 835.6,248.3 837,248.6 837.5,248.8 838.4,249.5 839.8,252.3 840.3,253.6 841.2,255.9 842.6,259 843.1,259.6 844,260 845.4,259.9 845.9,259.8 846.8,259.6 848.2,259.3 848.7,259.1 849.6,258.8 851,258.2 851.5,258 852.4,257.7 853.8,256.9 854.3,256.5 855.2,255.6 856.6,253.9 857.1,253.3 858,252.1 859.4,250.2 859.9,249.6 860.8,248.5 862.2,247 862.7,246.6 863.6,246 865,245.6 865.5,245.7 866.4,246.1 867.8,247.3 868.3,247.9 869.2,248.8 870.6,249.8 871.1,250 872,250 873.4,249.9 873.9,249.9 874.8,249.8 876.2,249.6 876.7,249.5 877.6,249.3 879,249 879.5,248.9 880.4,248.7 881.8,247.5 882.3,246.8 883.2,245.4 884.6,242.9 885.1,241.9 886,240 887.4,237.1 887.9,236.1 888.8,234.5 890.2,232.3 890.7,231.7 891.6,230.4 893,228.6 893.5,228 894.4,226.9 895.8,225.4 896.3,224.9 897.2,224.1 898.6,223.1 899.1,222.7 900,222.1 901.4,221.2 901.9,220.9 902.8,220.3 904.2,219.6 904.7,219.4 905.6,219.1 907,218.8 907.5,218.8 908.4,218.9 909.8,219.3 910.3,219.6 911.2,220.2 912.6,221.3 913.1,221.8 914,222.7 915.4,224.1 915.9,224.6 916.8,225.5 918.2,226.8 918.7,227.3 919.6,228.3 921,229.9 921.5,230.4 922.4,231.4 923.8,232.8 924.3,233.3 925.2,234 926.6,235.1 927.1,235.4 928,236.1 929.4,237 929.9,237.3 930.8,237.8 931.3,238 L931.3,238 930.8,237.9 929.9,237.8 929.4,237.8 928,237.6 927.1,237.5 926.6,237.5 925.2,237.4 924.3,237.3 923.8,237.3 922.4,237.2 921.5,237.1 921,237.1 919.6,237 918.7,237 918.2,237 916.8,237 915.9,237.1 915.4,237.2 914,237.4 913.1,237.6 912.6,237.7 911.2,238 910.3,238.3 909.8,238.4 908.4,238.8 907.5,239.1 907,239.2 905.6,239.7 904.7,240.1 904.2,240.3 902.8,241 901.9,241.5 901.4,241.8 900,242.6 899.1,243.1 898.6,243.4 897.2,244.3 896.3,244.9 895.8,245.2 894.4,246.3 893.5,247 893,247.5 891.6,248.6 890.7,249.4 890.2,249.8 888.8,251.1 887.9,252 887.4,252.6 886,254.1 885.1,255.1 884.6,255.6 883.2,257 882.3,257.7 881.8,258.1 880.4,258.8 879.5,259 879,259.1 877.6,259.3 876.7,259.4 876.2,259.5 874.8,259.6 873.9,259.7 873.4,259.7 872,259.9 871.1,260.1 870.6,260.1 869.2,260.4 868.3,260.6 867.8,260.7 866.4,261 865.5,261.3 865,261.4 863.6,262 862.7,262.4 862.2,262.6 860.8,263.4 859.9,264 859.4,264.3 858,265.1 857.1,265.6 856.6,265.9 855.2,266.7 854.3,267 853.8,267.2 852.4,267.6 851.5,267.8 851,267.9 849.6,268.2 848.7,268.3 848.2,268.4 846.8,268.6 845.9,268.7 845.4,268.8 844,269 843.1,269.1 842.6,269.2 841.2,269.4 840.3,269.5 839.8,269.6 838.4,269.8 837.5,270 837,270.1 835.6,270.5 834.7,270.8 834.2,270.9 832.8,271.4 831.9,271.8 831.4,272 830,272.6 829.1,273.1 828.6,273.4 827.2,274.3 826.3,275 825.8,275.4 824.4,276.5 823.5,277.2 823,277.6 821.6,278.7 820.7,279.5 820.2,280 818.8,281.3 817.9,282.2 817.4,282.7 816,284.3 815.1,285.5 814.6,286.1 813.2,288 812.3,289.3 811.8,289.9 810.4,291.8 809.5,293.1 809,293.8 807.6,295.8 806.7,297 806.2,297.7 804.8,299.2 803.9,300 803.4,300.4 802,301.5 801.1,302.2 800.6,302.5 799.2,303.5 798.3,304.1 797.8,304.4 796.4,305.3 795.5,305.9 795,306.3 793.6,307.3 792.7,308 792.2,308.3 790.8,309.4 789.9,310 789.4,310.4 788,311.4 787.1,312.1 786.6,312.4 785.2,313.4 784.3,314 783.8,314.3 782.4,315.2 781.5,315.7 781,316 779.6,316.7 778.7,317.1 778.2,317.3 776.8,317.9 775.9,318.2 775.4,318.4 774,318.9 773.1,319.2 772.6,319.4 771.2,320 770.3,320.4 769.8,320.6 768.4,321.3 767.5,321.9 767,322.2 765.6,323.2 764.7,323.9 764.2,324.3 762.8,325.4 761.9,326.1 761.4,326.5 760,327.6 759.1,328.2 758.6,328.5 757.2,329.4 756.3,329.9 755.8,330.3 754.4,331.2 753.5,331.8 753,332.1 751.6,332.8 750.7,333.3 750.2,333.5 748.8,333.9 747.9,334 747.4,334 746,333.9 745.1,333.8 744.6,333.7 743.2,333.5 742.3,333.3 741.8,333.2 740.4,333.1 739.5,333 739,333 737.6,333.2 736.7,333.5 736.2,333.7 734.8,334.5 733.9,335.1 733.4,335.5 732,336.5 731.1,337.1 730.6,337.4 729.2,338.3 728.3,338.9 727.8,339.2 726.4,340.2 725.5,340.9 725,341.2 723.6,342.2 722.7,342.9 722.2,343.2 720.8,344.1 719.9,344.7 719.4,344.9 718,345.7 717.1,346.2 716.6,346.4 715.2,347.1 714.3,347.5 713.8,347.7 712.4,348.4 711.5,348.8 711,349 709.6,349.6 708.7,350.1 708.2,350.3 706.8,351 705.9,351.5 705.4,351.8 704,352.6 703.1,353.1 702.6,353.4 701.2,354.4 700.3,355 699.8,355.3 698.4,356.3 697.5,357 697,357.4 695.6,358.5 694.7,359.2 694.2,359.7 692.8,360.8 691.9,361.6 691.4,362 690,363.2 689.1,364 688.6,364.5 687.2,365.8 686.3,366.5 685.8,366.9 684.4,367.9 683.5,368.5 683,368.8 681.6,369.5 680.7,369.9 680.2,370.1 678.8,370.7 677.9,371.2 677.4,371.4 676,372.1 675.1,372.5 674.6,372.7 673.2,373.4 672.3,373.9 671.8,374.1 670.4,374.9 669.5,375.4 669,375.7 667.6,376.6 666.7,377.3 666.2,377.6 664.8,378.7 663.9,379.4 663.4,379.8 662,380.9Z" fill="rgba(0,230,118,0.2)" stroke="none"/><path d="M662,380.9 663.4,379.8 663.9,379.4 664.8,378.7 666.2,377.6 666.7,377.3 667.6,376.6 669,375.7 669.5,375.4 670.4,374.9 671.8,374.1 672.3,373.9 673.2,373.4 674.6,372.7 675.1,372.5 676,372.1 677.4,371.4 677.9,371.2 678.8,370.7 680.2,370.1 680.7,369.9 681.6,369.5 683,368.8 683.5,368.5 684.4,367.9 685.8,366.9 686.3,366.5 687.2,365.8 688.6,364.5 689.1,364 690,363.2 691.4,362 691.9,361.6 692.8,360.8 694.2,359.7 694.7,359.2 695.6,358.5 697,357.4 697.5,357 698.4,356.3 699.8,355.3 700.3,355 701.2,354.4 702.6,353.4 703.1,353.1 704,352.6 705.4,351.8 705.9,351.5 706.8,351 708.2,350.3 708.7,350.1 709.6,349.6 711,349 711.5,348.8 712.4,348.4 713.8,347.7 714.3,347.5 715.2,347.1 716.6,346.4 717.1,346.2 718,345.7 719.4,344.9 719.9,344.7 720.8,344.1 722.2,343.2 722.7,342.9 723.6,342.2 725,341.2 725.5,340.9 726.4,340.2 727.8,339.2 728.3,338.9 729.2,338.3 730.6,337.4 731.1,337.1 732,336.5 733.4,335.5 733.9,335.1 734.8,334.5 736.2,333.7 736.7,333.5 737.6,333.2 739,333 739.5,333 740.4,333.1 741.8,333.2 742.3,333.3 743.2,333.5 744.6,333.7 745.1,333.8 746,333.9 747.4,334 747.9,334 748.8,333.9 750.2,333.5 750.7,333.3 751.6,332.8 753,332.1 753.5,331.8 754.4,331.2 755.8,330.3 756.3,329.9 757.2,329.4 758.6,328.5 759.1,328.2 760,327.6 761.4,326.5 761.9,326.1 762.8,325.4 764.2,324.3 764.7,323.9 765.6,323.2 767,322.2 767.5,321.9 768.4,321.3 769.8,320.6 770.3,320.4 771.2,320 772.6,319.4 773.1,319.2 774,318.9 775.4,318.4 775.9,318.2 776.8,317.9 778.2,317.3 778.7,317.1 779.6,316.7 781,316 781.5,315.7 782.4,315.2 783.8,314.3 784.3,314 785.2,313.4 786.6,312.4 787.1,312.1 788,311.4 789.4,310.4 789.9,310 790.8,309.4 792.2,308.3 792.7,308 793.6,307.3 795,306.3 795.5,305.9 796.4,305.3 797.8,304.4 798.3,304.1 799.2,303.5 800.6,302.5 801.1,302.2 802,301.5 803.4,300.4 803.9,300 804.8,299.2 806.2,297.7 806.7,297 807.6,295.8 809,293.8 809.5,293.1 810.4,291.8 811.8,289.9 812.3,289.3 813.2,288 814.6,286.1 815.1,285.5 816,284.3 817.4,282.7 817.9,282.2 818.8,281.3 820.2,280 820.7,279.5 821.6,278.7 823,277.6 823.5,277.2 824.4,276.5 825.8,275.4 826.3,275 827.2,274.3 828.6,273.4 829.1,273.1 830,272.6 831.4,272 831.9,271.8 832.8,271.4 834.2,270.9 834.7,270.8 835.6,270.5 837,270.1 837.5,270 838.4,269.8 839.8,269.6 840.3,269.5 841.2,269.4 842.6,269.2 843.1,269.1 844,269 845.4,268.8 845.9,268.7 846.8,268.6 848.2,268.4 848.7,268.3 849.6,268.2 851,267.9 851.5,267.8 852.4,267.6 853.8,267.2 854.3,267 855.2,266.7 856.6,265.9 857.1,265.6 858,265.1 859.4,264.3 859.9,264 860.8,263.4 862.2,262.6 862.7,262.4 863.6,262 865,261.4 865.5,261.3 866.4,261 867.8,260.7 868.3,260.6 869.2,260.4 870.6,260.1 871.1,260.1 872,259.9 873.4,259.7 873.9,259.7 874.8,259.6 876.2,259.5 876.7,259.4 877.6,259.3 879,259.1 879.5,259 880.4,258.8 881.8,258.1 882.3,257.7 883.2,257 884.6,255.6 885.1,255.1 886,254.1 887.4,252.6 887.9,252 888.8,251.1 890.2,249.8 890.7,249.4 891.6,248.6 893,247.5 893.5,247 894.4,246.3 895.8,245.2 896.3,244.9 897.2,244.3 898.6,243.4 899.1,243.1 900,242.6 901.4,241.8 901.9,241.5 902.8,241 904.2,240.3 904.7,240.1 905.6,239.7 907,239.2 907.5,239.1 908.4,238.8 909.8,238.4 910.3,238.3 911.2,238 912.6,237.7 913.1,237.6 914,237.4 915.4,237.2 915.9,237.1 916.8,237 918.2,237 918.7,237 919.6,237 921,237.1 921.5,237.1 922.4,237.2 923.8,237.3 924.3,237.3 925.2,237.4 926.6,237.5 927.1,237.5 928,237.6 929.4,237.8 929.9,237.8 930.8,237.9 931.3,238" fill="none" stroke="#1EE27C" stroke-width="3.1" stroke-linejoin="round" stroke-linecap="round"/><path d="M662,380.9 663.4,379.3 663.9,378.7 664.8,377.8 666.2,376.3 666.7,375.8 667.6,375 669,373.7 669.5,373.3 670.4,372.5 671.8,371.5 672.3,371.2 673.2,370.6 674.6,369.7 675.1,369.3 676,368.8 677.4,367.9 677.9,367.5 678.8,367 680.2,366.1 680.7,365.8 681.6,365.2 683,364.3 683.5,363.9 684.4,363.2 685.8,362 686.3,361.5 687.2,360.6 688.6,359.1 689.1,358.5 690,357.6 691.4,356.2 691.9,355.7 692.8,354.9 694.2,353.6 694.7,353.1 695.6,352.3 697,351.1 697.5,350.7 698.4,349.9 699.8,348.7 700.3,348.3 701.2,347.5 702.6,346.3 703.1,346 704,345.3 705.4,344.3 705.9,344 706.8,343.5 708.2,342.8 708.7,342.5 709.6,342 711,341.4 711.5,341.1 712.4,340.7 713.8,340.1 714.3,339.9 715.2,339.4 716.6,338.8 717.1,338.5 718,338.1 719.4,337.3 719.9,337.1 720.8,336.5 722.2,335.6 722.7,335.3 723.6,334.7 725,333.8 725.5,333.4 726.4,332.8 727.8,331.9 728.3,331.6 729.2,331 730.6,330.1 731.1,329.8 732,329.2 733.4,328.2 733.9,327.9 734.8,327.3 736.2,326.5 736.7,326.3 737.6,326 739,325.8 739.5,325.8 740.4,326 741.8,326.6 742.3,326.9 743.2,327.3 744.6,328.1 745.1,328.3 746,328.7 747.4,329 747.9,329 748.8,328.9 750.2,328.4 750.7,328.1 751.6,327.6 753,326.6 753.5,326.3 754.4,325.6 755.8,324.5 756.3,324.1 757.2,323.4 758.6,322.4 759.1,322.1 760,321.4 761.4,320.2 761.9,319.8 762.8,319 764.2,317.8 764.7,317.4 765.6,316.7 767,315.7 767.5,315.4 768.4,314.8 769.8,314.1 770.3,313.9 771.2,313.6 772.6,313.1 773.1,312.9 774,312.7 775.4,312.2 775.9,312.1 776.8,311.8 778.2,311.3 778.7,311.1 779.6,310.7 781,310 781.5,309.7 782.4,309.1 783.8,308.2 784.3,307.8 785.2,307.2 786.6,306 787.1,305.6 788,304.9 789.4,303.6 789.9,303.2 790.8,302.3 792.2,301 792.7,300.5 793.6,299.7 795,298.4 795.5,297.9 796.4,297.1 797.8,295.7 798.3,295.2 799.2,294.3 800.6,292.9 801.1,292.4 802,291.3 803.4,289.7 803.9,289.1 804.8,287.9 806.2,285.8 806.7,284.9 807.6,283.3 809,280.6 809.5,279.7 810.4,278 811.8,275.6 812.3,274.7 813.2,272.9 814.6,270.3 815.1,269.5 816,268.1 817.4,266.5 817.9,266.1 818.8,265.4 820.2,264.6 820.7,264.3 821.6,263.8 823,263.2 823.5,263 824.4,262.7 825.8,262.3 826.3,262.2 827.2,262 828.6,261.7 829.1,261.6 830,261.4 831.4,261 831.9,260.9 832.8,260.6 834.2,260.2 834.7,260 835.6,259.8 837,259.6 837.5,259.6 838.4,259.8 839.8,261 840.3,261.6 841.2,262.6 842.6,264 843.1,264.3 844,264.5 845.4,264.5 845.9,264.5 846.8,264.4 848.2,264.3 848.7,264.3 849.6,264.2 851,264.1 851.5,264 852.4,263.9 853.8,263.5 854.3,263.2 855.2,262.4 856.6,260.9 857.1,260.3 858,259.2 859.4,257.3 859.9,256.7 860.8,255.6 862.2,254.1 862.7,253.6 863.6,253 865,252.6 865.5,252.6 866.4,252.9 867.8,253.5 868.3,253.8 869.2,254.3 870.6,254.9 871.1,255 872,255 873.4,255 873.9,255 874.8,254.9 876.2,254.9 876.7,254.8 877.6,254.8 879,254.7 879.5,254.6 880.4,254.5 881.8,253.7 882.3,253.1 883.2,252 884.6,249.9 885.1,249.1 886,247.5 887.4,245.1 887.9,244.2 888.8,242.8 890.2,241.1 890.7,240.5 891.6,239.5 893,238.1 893.5,237.5 894.4,236.7 895.8,235.4 896.3,235 897.2,234.3 898.6,233.3 899.1,233 900,232.3 901.4,231.3 901.9,231 902.8,230.5 904.2,229.7 904.7,229.5 905.6,229.1 907,228.8 907.5,228.8 908.4,228.8 909.8,229.1 910.3,229.2 911.2,229.5 912.6,230.1 913.1,230.4 914,230.8 915.4,231.5 915.9,231.8 916.8,232.2 918.2,232.8 918.7,233 919.6,233.5 921,234.1 921.5,234.4 922.4,234.8 923.8,235.4 924.3,235.6 925.2,236 926.6,236.5 927.1,236.7 928,237 929.4,237.4 929.9,237.6 930.8,237.9 931.3,238" fill="none" stroke="#1EE27C" stroke-width="3.1" stroke-linejoin="round" stroke-linecap="round"/><path d="M662,380.9 663.4,378.8 663.9,378.1 664.8,376.9 666.2,375 666.7,374.4 667.6,373.3 669,371.7 669.5,371.1 670.4,370.2 671.8,368.9 672.3,368.5 673.2,367.7 674.6,366.6 675.1,366.2 676,365.5 677.4,364.3 677.9,363.9 678.8,363.2 680.2,362.1 680.7,361.7 681.6,361 683,359.8 683.5,359.4 684.4,358.5 685.8,357 686.3,356.4 687.2,355.3 688.6,353.6 689.1,353 690,351.9 691.4,350.3 691.9,349.8 692.8,348.8 694.2,347.4 694.7,347 695.6,346.1 697,344.8 697.5,344.3 698.4,343.4 699.8,342 700.3,341.4 701.2,340.5 702.6,339 703.1,338.6 704,337.8 705.4,336.7 705.9,336.4 706.8,335.9 708.2,335.1 708.7,334.9 709.6,334.4 711,333.8 711.5,333.6 712.4,333.2 713.8,332.6 714.3,332.4 715.2,332 716.6,331.4 717.1,331.2 718,330.7 719.4,330 719.9,329.7 720.8,329.1 722.2,328 722.7,327.6 723.6,326.8 725,325.6 725.5,325.2 726.4,324.4 727.8,323.3 728.3,322.9 729.2,322.3 730.6,321.5 731.1,321.2 732,320.7 733.4,319.9 733.9,319.6 734.8,319.1 736.2,318.5 736.7,318.4 737.6,318.1 739,318 739.5,318.1 740.4,318.4 741.8,319.5 742.3,320 743.2,320.9 744.6,322.4 745.1,322.9 746,323.5 747.4,324.1 747.9,324.1 748.8,323.9 750.2,323.3 750.7,323 751.6,322.4 753,321.2 753.5,320.7 754.4,319.9 755.8,318.6 756.3,318.2 757.2,317.4 758.6,316.4 759.1,316.1 760,315.4 761.4,314.4 761.9,314 762.8,313.3 764.2,312.3 764.7,311.9 765.6,311.3 767,310.3 767.5,310 768.4,309.4 769.8,308.5 770.3,308.2 771.2,307.7 772.6,307 773.1,306.8 774,306.3 775.4,305.6 775.9,305.3 776.8,304.9 778.2,304.1 778.7,303.8 779.6,303.3 781,302.3 781.5,302 782.4,301.4 783.8,300.4 784.3,300.1 785.2,299.4 786.6,298.4 787.1,298 788,297.3 789.4,296.1 789.9,295.6 790.8,294.8 792.2,293.5 792.7,293 793.6,292 795,290.5 795.5,289.9 796.4,288.7 797.8,286.6 798.3,285.8 799.2,284.2 800.6,281.6 801.1,280.6 802,278.9 803.4,276.1 803.9,275.1 804.8,273.4 806.2,270.7 806.7,269.6 807.6,267.8 809,264.9 809.5,263.9 810.4,262.1 811.8,259.5 812.3,258.5 813.2,256.6 814.6,253.9 815.1,253 816,251.6 817.4,250.1 817.9,249.7 818.8,249.2 820.2,248.4 820.7,248.1 821.6,247.7 823,247.3 823.5,247.2 824.4,247 825.8,247 826.3,247.1 827.2,247.1 828.6,247.3 829.1,247.4 830,247.5 831.4,247.7 831.9,247.7 832.8,247.8 834.2,248 834.7,248.1 835.6,248.3 837,248.6 837.5,248.8 838.4,249.5 839.8,252.3 840.3,253.6 841.2,255.9 842.6,259 843.1,259.6 844,260 845.4,259.9 845.9,259.8 846.8,259.6 848.2,259.3 848.7,259.1 849.6,258.8 851,258.2 851.5,258 852.4,257.7 853.8,256.9 854.3,256.5 855.2,255.6 856.6,253.9 857.1,253.3 858,252.1 859.4,250.2 859.9,249.6 860.8,248.5 862.2,247 862.7,246.6 863.6,246 865,245.6 865.5,245.7 866.4,246.1 867.8,247.3 868.3,247.9 869.2,248.8 870.6,249.8 871.1,250 872,250 873.4,249.9 873.9,249.9 874.8,249.8 876.2,249.6 876.7,249.5 877.6,249.3 879,249 879.5,248.9 880.4,248.7 881.8,247.5 882.3,246.8 883.2,245.4 884.6,242.9 885.1,241.9 886,240 887.4,237.1 887.9,236.1 888.8,234.5 890.2,232.3 890.7,231.7 891.6,230.4 893,228.6 893.5,228 894.4,226.9 895.8,225.4 896.3,224.9 897.2,224.1 898.6,223.1 899.1,222.7 900,222.1 901.4,221.2 901.9,220.9 902.8,220.3 904.2,219.6 904.7,219.4 905.6,219.1 907,218.8 907.5,218.8 908.4,218.9 909.8,219.3 910.3,219.6 911.2,220.2 912.6,221.3 913.1,221.8 914,222.7 915.4,224.1 915.9,224.6 916.8,225.5 918.2,226.8 918.7,227.3 919.6,228.3 921,229.9 921.5,230.4 922.4,231.4 923.8,232.8 924.3,233.3 925.2,234 926.6,235.1 927.1,235.4 928,236.1 929.4,237 929.9,237.3 930.8,237.8 931.3,238" fill="none" stroke="#1EE27C" stroke-width="3.1" stroke-linejoin="round" stroke-linecap="round"/><path d="M931.3,238 932.7,238.4 934.1,238.9 935.5,239.6 935.5,239.6 936.9,240.5 938.3,241.4 938.3,241.4 939.7,242.4 941.1,243.6 941.1,243.6 942.5,245.3 943.9,247.2 943.9,247.2 945.3,249.1 946.7,250.6 946.7,250.6 948.1,251.7 949.5,252.4 949.5,252.4 950.9,252.9 952.3,253.4 952.3,253.4 953.7,254 955.1,255.1 955.1,255.1 956.5,258.4 957.9,264.1 957.9,264.1 959.3,270.1 960.7,275.1 960.7,275.1 962.1,280 963.5,284.7 963.5,284.7 964.9,289 966.3,292.5 966.3,292.5 967.7,295.4 969.1,298.3 969.1,298.3 970.5,300.9 971.9,302.8 971.9,302.8 973.3,303.9 974.7,303.9 974.7,303.9 976.1,303.5 977.5,302.7 977.5,302.7 978.9,301.7 980.3,300.7 980.3,300.7 981.7,299.8 983.1,298.9 983.1,298.9 984.5,298 985.9,297 985.9,297 987.3,295.8 988.7,294.2 988.7,294.2 990.1,291.5 991.5,287.6 991.5,287.6 992.9,285.6 994.3,285 994.3,285 995.7,284.6 997.1,284.3 997.1,284.3 998.5,284.1 999.9,284 999.9,284 1001.3,284.2 1002.7,284.6 1002.7,284.6 1004.1,285.3 1005.5,286 1005.5,286 1006.9,286.6 1008.3,286.9 1008.3,286.9 1009.7,286.8 1011.1,285.8 1011.1,285.8 1012.5,284.2 1013.9,282.7 1013.9,282.7 1015.3,281.9 1016.7,281.3 1016.7,281.3 1018.1,280.8 1019.5,280.4 1019.5,280.4 1020.9,280.1 1022.3,280 1022.3,280 1022.7,280 L1022.7,280 1022.3,280 1022.3,280 1020.9,280.1 1019.5,280.3 1019.5,280.3 1018.1,280.4 1016.7,280.5 1016.7,280.5 1015.3,280.7 1013.9,280.8 1013.9,280.8 1012.5,281.1 1011.1,281.3 1011.1,281.3 1009.7,281.4 1008.3,281.4 1008.3,281.4 1006.9,281.1 1005.5,280.6 1005.5,280.6 1004.1,280 1002.7,279.5 1002.7,279.5 1001.3,279.1 999.9,279 999.9,279 998.5,279 997.1,279 997.1,279 995.7,279 994.3,279 994.3,279 992.9,279 991.5,279.2 991.5,279.2 990.1,279.5 988.7,279.7 988.7,279.7 987.3,279.7 985.9,279.6 985.9,279.6 984.5,279.4 983.1,279.3 983.1,279.3 981.7,279 980.3,278.7 980.3,278.7 978.9,278.1 977.5,277.3 977.5,277.3 976.1,276.3 974.7,275.3 974.7,275.3 973.3,274.2 971.9,272.9 971.9,272.9 970.5,271.5 969.1,269.8 969.1,269.8 967.7,268.1 966.3,266.3 966.3,266.3 964.9,264.3 963.5,262.1 963.5,262.1 962.1,259.9 960.7,257.5 960.7,257.5 959.3,255.2 957.9,252.4 957.9,252.4 956.5,249.8 955.1,248.1 955.1,248.1 953.7,247.2 952.3,246.6 952.3,246.6 950.9,246.1 949.5,245.7 949.5,245.7 948.1,245.2 946.7,244.6 946.7,244.6 945.3,243.9 943.9,243.2 943.9,243.2 942.5,242.6 941.1,241.9 941.1,241.9 939.7,241.3 938.3,240.7 938.3,240.7 936.9,240.1 935.5,239.6 935.5,239.6 934.1,239 932.7,238.5 931.3,238Z" fill="rgba(255,82,82,0.2)" stroke="none"/><path d="M931.3,238 932.7,238.5 934.1,239 935.5,239.6 935.5,239.6 936.9,240.1 938.3,240.7 938.3,240.7 939.7,241.3 941.1,241.9 941.1,241.9 942.5,242.6 943.9,243.2 943.9,243.2 945.3,243.9 946.7,244.6 946.7,244.6 948.1,245.2 949.5,245.7 949.5,245.7 950.9,246.1 952.3,246.6 952.3,246.6 953.7,247.2 955.1,248.1 955.1,248.1 956.5,249.8 957.9,252.4 957.9,252.4 959.3,255.2 960.7,257.5 960.7,257.5 962.1,259.9 963.5,262.1 963.5,262.1 964.9,264.3 966.3,266.3 966.3,266.3 967.7,268.1 969.1,269.8 969.1,269.8 970.5,271.5 971.9,272.9 971.9,272.9 973.3,274.2 974.7,275.3 974.7,275.3 976.1,276.3 977.5,277.3 977.5,277.3 978.9,278.1 980.3,278.7 980.3,278.7 981.7,279 983.1,279.3 983.1,279.3 984.5,279.4 985.9,279.6 985.9,279.6 987.3,279.7 988.7,279.7 988.7,279.7 990.1,279.5 991.5,279.2 991.5,279.2 992.9,279 994.3,279 994.3,279 995.7,279 997.1,279 997.1,279 998.5,279 999.9,279 999.9,279 1001.3,279.1 1002.7,279.5 1002.7,279.5 1004.1,280 1005.5,280.6 1005.5,280.6 1006.9,281.1 1008.3,281.4 1008.3,281.4 1009.7,281.4 1011.1,281.3 1011.1,281.3 1012.5,281.1 1013.9,280.8 1013.9,280.8 1015.3,280.7 1016.7,280.5 1016.7,280.5 1018.1,280.4 1019.5,280.3 1019.5,280.3 1020.9,280.1 1022.3,280 1022.3,280 1022.7,280" fill="none" stroke="#FF5561" stroke-width="3.1" stroke-linejoin="round" stroke-linecap="round"/><path d="M931.3,238 932.7,238.4 934.1,238.9 935.5,239.5 935.5,239.5 936.9,240.2 938.3,241 938.3,241 939.7,241.8 941.1,242.8 941.1,242.8 942.5,244.2 943.9,245.7 943.9,245.7 945.3,247.1 946.7,248.3 946.7,248.3 948.1,249.1 949.5,249.6 949.5,249.6 950.9,249.9 952.3,250.3 952.3,250.3 953.7,250.7 955.1,251.5 955.1,251.5 956.5,253.8 957.9,257.8 957.9,257.8 959.3,262.1 960.7,265.5 960.7,265.5 962.1,268.8 963.5,272.1 963.5,272.1 964.9,275 966.3,277.5 966.3,277.5 967.7,279.8 969.1,282.1 969.1,282.1 970.5,284.2 971.9,285.8 971.9,285.8 973.3,286.8 974.7,287.1 974.7,287.1 976.1,287.3 977.5,287.5 977.5,287.5 978.9,287.6 980.3,287.7 980.3,287.7 981.7,287.7 983.1,287.5 983.1,287.5 984.5,287.1 985.9,286.5 985.9,286.5 987.3,285.8 988.7,285.1 988.7,285.1 990.1,284 991.5,282.7 991.5,282.7 992.9,282 994.3,281.8 994.3,281.8 995.7,281.6 997.1,281.5 997.1,281.5 998.5,281.4 999.9,281.4 999.9,281.4 1001.3,281.6 1002.7,282.1 1002.7,282.1 1004.1,282.8 1005.5,283.6 1005.5,283.6 1006.9,284.2 1008.3,284.6 1008.3,284.6 1009.7,284.6 1011.1,283.9 1011.1,283.9 1012.5,282.9 1013.9,281.9 1013.9,281.9 1015.3,281.3 1016.7,280.9 1016.7,280.9 1018.1,280.6 1019.5,280.3 1019.5,280.3 1020.9,280.1 1022.3,280 1022.3,280 1022.7,280" fill="none" stroke="#FF5561" stroke-width="3.1" stroke-linejoin="round" stroke-linecap="round"/><path d="M931.3,238 932.7,238.4 934.1,238.9 935.5,239.6 935.5,239.6 936.9,240.5 938.3,241.4 938.3,241.4 939.7,242.4 941.1,243.6 941.1,243.6 942.5,245.3 943.9,247.2 943.9,247.2 945.3,249.1 946.7,250.6 946.7,250.6 948.1,251.7 949.5,252.4 949.5,252.4 950.9,252.9 952.3,253.4 952.3,253.4 953.7,254 955.1,255.1 955.1,255.1 956.5,258.4 957.9,264.1 957.9,264.1 959.3,270.1 960.7,275.1 960.7,275.1 962.1,280 963.5,284.7 963.5,284.7 964.9,289 966.3,292.5 966.3,292.5 967.7,295.4 969.1,298.3 969.1,298.3 970.5,300.9 971.9,302.8 971.9,302.8 973.3,303.9 974.7,303.9 974.7,303.9 976.1,303.5 977.5,302.7 977.5,302.7 978.9,301.7 980.3,300.7 980.3,300.7 981.7,299.8 983.1,298.9 983.1,298.9 984.5,298 985.9,297 985.9,297 987.3,295.8 988.7,294.2 988.7,294.2 990.1,291.5 991.5,287.6 991.5,287.6 992.9,285.6 994.3,285 994.3,285 995.7,284.6 997.1,284.3 997.1,284.3 998.5,284.1 999.9,284 999.9,284 1001.3,284.2 1002.7,284.6 1002.7,284.6 1004.1,285.3 1005.5,286 1005.5,286 1006.9,286.6 1008.3,286.9 1008.3,286.9 1009.7,286.8 1011.1,285.8 1011.1,285.8 1012.5,284.2 1013.9,282.7 1013.9,282.7 1015.3,281.9 1016.7,281.3 1016.7,281.3 1018.1,280.8 1019.5,280.4 1019.5,280.4 1020.9,280.1 1022.3,280 1022.3,280 1022.7,280" fill="none" stroke="#FF5561" stroke-width="3.1" stroke-linejoin="round" stroke-linecap="round"/><path d="M1022.7,280 1024.1,279.1 1025.1,278.4 1025.5,278.2 1026.9,277.2 1027.9,276.5 1028.3,276.2 1029.7,275.2 1030.7,274.5 1031.1,274.2 1032.5,273.1 1033.5,272.3 1033.9,272 1035.3,270.9 1036.3,270.1 1036.7,269.8 1038.1,268.7 1039.1,267.7 1039.5,267.2 1040.9,265.9 1041.9,265.2 1042.3,265 1043.7,265 1044.7,265 1045.1,265 1046.5,265 1047.5,265 1047.9,265 1049.3,265 1050.3,265 1050.7,265.1 1052.1,265.6 1053.1,266.1 1053.5,266.4 1054.9,267.1 1055.9,267.4 1056.3,267.5 1057.7,267.3 1058.7,266.8 1059.1,266.6 1060.5,265.6 1061.5,264.9 1061.9,264.6 1063.3,263.9 1064.3,263.4 1064.7,263.3 1066.1,262.7 1067.1,262.3 1067.5,262.2 1068.9,261.7 1069.9,261.3 1070.3,261.2 1071.7,260.7 1072.7,260.3 1073.1,260.2 1074.5,259.7 1075.5,259.3 1075.9,259.2 1077.3,258.7 1078.3,258.4 1078.7,258.3 1080.1,258 1081.1,257.8 1081.5,257.7 1082.9,257.5 1083.9,257.4 1084.3,257.3 1085.7,257.2 1086.7,257 1087.1,257 1088.5,256.7 1089.5,256.4 1089.9,256.3 1091.3,255.6 1092.3,254.7 1092.7,254.3 1094.1,252.6 1095.1,251.4 1095.5,250.9 1096.9,249.4 1097.9,248.6 1098.3,248.3 1099.7,247.1 1100.7,246.3 1101.1,246 1102.5,245.3 1103.5,245 1103.9,245 1105.3,245.3 1106.3,245.7 1106.7,245.9 1108.1,246.7 1109.1,247.2 1109.5,247.4 1110.9,247.9 1111.9,248.2 1112.3,248.3 1113.7,248.7 1114.7,249 1115.1,249.1 1116.5,249.5 1117.5,250 1117.9,250.1 1119.3,250.9 1120.3,251.7 1120.7,252 1122.1,253.1 1123.1,254 1123.5,254.4 1123.9,254.8 L1123.9,254.8 1123.5,254.8 1123.1,254.8 1122.1,254.7 1120.7,254.7 1120.3,254.6 1119.3,254.6 1117.9,254.6 1117.5,254.6 1116.5,254.6 1115.1,254.6 1114.7,254.6 1113.7,254.6 1112.3,254.6 1111.9,254.6 1110.9,254.6 1109.5,254.6 1109.1,254.6 1108.1,254.7 1106.7,255 1106.3,255 1105.3,255.3 1103.9,255.6 1103.5,255.7 1102.5,256 1101.1,256.5 1100.7,256.7 1099.7,257.1 1098.3,257.7 1097.9,257.9 1096.9,258.3 1095.5,259 1095.1,259.2 1094.1,259.7 1092.7,260.4 1092.3,260.5 1091.3,260.9 1089.9,261.3 1089.5,261.4 1088.5,261.6 1087.1,261.8 1086.7,261.8 1085.7,261.9 1084.3,262 1083.9,262.1 1082.9,262.2 1081.5,262.4 1081.1,262.4 1080.1,262.6 1078.7,262.9 1078.3,263 1077.3,263.2 1075.9,263.6 1075.5,263.7 1074.5,264 1073.1,264.5 1072.7,264.7 1071.7,265 1070.3,265.5 1069.9,265.6 1068.9,266 1067.5,266.6 1067.1,266.7 1066.1,267.2 1064.7,267.8 1064.3,268 1063.3,268.4 1061.9,269 1061.5,269.2 1060.5,269.7 1059.1,270.4 1058.7,270.6 1057.7,270.9 1056.3,271 1055.9,271 1054.9,270.9 1053.5,270.8 1053.1,270.7 1052.1,270.6 1050.7,270.5 1050.3,270.5 1049.3,270.5 1047.9,270.6 1047.5,270.6 1046.5,270.7 1045.1,270.9 1044.7,271 1043.7,271.2 1042.3,271.5 1041.9,271.6 1040.9,272.1 1039.5,272.9 1039.1,273.2 1038.1,273.8 1036.7,274.5 1036.3,274.7 1035.3,275.2 1033.9,275.9 1033.5,276.1 1032.5,276.6 1031.1,277.3 1030.7,277.4 1029.7,277.8 1028.3,278.3 1027.9,278.5 1026.9,278.8 1025.5,279.2 1025.1,279.4 1024.1,279.6 1022.7,280Z" fill="rgba(0,230,118,0.2)" stroke="none"/><path d="M1022.7,280 1024.1,279.6 1025.1,279.4 1025.5,279.2 1026.9,278.8 1027.9,278.5 1028.3,278.3 1029.7,277.8 1030.7,277.4 1031.1,277.3 1032.5,276.6 1033.5,276.1 1033.9,275.9 1035.3,275.2 1036.3,274.7 1036.7,274.5 1038.1,273.8 1039.1,273.2 1039.5,272.9 1040.9,272.1 1041.9,271.6 1042.3,271.5 1043.7,271.2 1044.7,271 1045.1,270.9 1046.5,270.7 1047.5,270.6 1047.9,270.6 1049.3,270.5 1050.3,270.5 1050.7,270.5 1052.1,270.6 1053.1,270.7 1053.5,270.8 1054.9,270.9 1055.9,271 1056.3,271 1057.7,270.9 1058.7,270.6 1059.1,270.4 1060.5,269.7 1061.5,269.2 1061.9,269 1063.3,268.4 1064.3,268 1064.7,267.8 1066.1,267.2 1067.1,266.7 1067.5,266.6 1068.9,266 1069.9,265.6 1070.3,265.5 1071.7,265 1072.7,264.7 1073.1,264.5 1074.5,264 1075.5,263.7 1075.9,263.6 1077.3,263.2 1078.3,263 1078.7,262.9 1080.1,262.6 1081.1,262.4 1081.5,262.4 1082.9,262.2 1083.9,262.1 1084.3,262 1085.7,261.9 1086.7,261.8 1087.1,261.8 1088.5,261.6 1089.5,261.4 1089.9,261.3 1091.3,260.9 1092.3,260.5 1092.7,260.4 1094.1,259.7 1095.1,259.2 1095.5,259 1096.9,258.3 1097.9,257.9 1098.3,257.7 1099.7,257.1 1100.7,256.7 1101.1,256.5 1102.5,256 1103.5,255.7 1103.9,255.6 1105.3,255.3 1106.3,255 1106.7,255 1108.1,254.7 1109.1,254.6 1109.5,254.6 1110.9,254.6 1111.9,254.6 1112.3,254.6 1113.7,254.6 1114.7,254.6 1115.1,254.6 1116.5,254.6 1117.5,254.6 1117.9,254.6 1119.3,254.6 1120.3,254.6 1120.7,254.7 1122.1,254.7 1123.1,254.8 1123.5,254.8 1123.9,254.8" fill="none" stroke="#1EE27C" stroke-width="3.1" stroke-linejoin="round" stroke-linecap="round"/><path d="M1022.7,280 1024.1,279.4 1025.1,278.9 1025.5,278.7 1026.9,278 1027.9,277.4 1028.3,277.2 1029.7,276.5 1030.7,275.9 1031.1,275.7 1032.5,274.8 1033.5,274.2 1033.9,273.9 1035.3,273.1 1036.3,272.4 1036.7,272.1 1038.1,271.2 1039.1,270.5 1039.5,270.1 1040.9,269 1041.9,268.5 1042.3,268.3 1043.7,268 1044.7,267.9 1045.1,267.8 1046.5,267.7 1047.5,267.6 1047.9,267.6 1049.3,267.5 1050.3,267.5 1050.7,267.6 1052.1,268 1053.1,268.4 1053.5,268.6 1054.9,269.2 1055.9,269.4 1056.3,269.5 1057.7,269.3 1058.7,269 1059.1,268.8 1060.5,267.9 1061.5,267.3 1061.9,267.1 1063.3,266.4 1064.3,265.9 1064.7,265.7 1066.1,265.1 1067.1,264.7 1067.5,264.5 1068.9,263.9 1069.9,263.5 1070.3,263.4 1071.7,262.9 1072.7,262.5 1073.1,262.4 1074.5,261.9 1075.5,261.5 1075.9,261.4 1077.3,261 1078.3,260.7 1078.7,260.6 1080.1,260.3 1081.1,260.1 1081.5,260 1082.9,259.8 1083.9,259.7 1084.3,259.7 1085.7,259.5 1086.7,259.4 1087.1,259.4 1088.5,259.1 1089.5,258.9 1089.9,258.8 1091.3,258.3 1092.3,257.6 1092.7,257.3 1094.1,256.2 1095.1,255.3 1095.5,255 1096.9,253.9 1097.9,253.2 1098.3,252.9 1099.7,251.9 1100.7,251.2 1101.1,251 1102.5,250.3 1103.5,250 1103.9,250 1105.3,250 1106.3,250.1 1106.7,250.1 1108.1,250.3 1109.1,250.4 1109.5,250.4 1110.9,250.6 1111.9,250.8 1112.3,250.8 1113.7,251.1 1114.7,251.3 1115.1,251.4 1116.5,251.7 1117.5,252 1117.9,252.1 1119.3,252.6 1120.3,253 1120.7,253.2 1122.1,253.8 1123.1,254.4 1123.5,254.6 1123.9,254.8" fill="none" stroke="#1EE27C" stroke-width="3.1" stroke-linejoin="round" stroke-linecap="round"/><path d="M1022.7,280 1024.1,279.1 1025.1,278.4 1025.5,278.2 1026.9,277.2 1027.9,276.5 1028.3,276.2 1029.7,275.2 1030.7,274.5 1031.1,274.2 1032.5,273.1 1033.5,272.3 1033.9,272 1035.3,270.9 1036.3,270.1 1036.7,269.8 1038.1,268.7 1039.1,267.7 1039.5,267.2 1040.9,265.9 1041.9,265.2 1042.3,265 1043.7,265 1044.7,265 1045.1,265 1046.5,265 1047.5,265 1047.9,265 1049.3,265 1050.3,265 1050.7,265.1 1052.1,265.6 1053.1,266.1 1053.5,266.4 1054.9,267.1 1055.9,267.4 1056.3,267.5 1057.7,267.3 1058.7,266.8 1059.1,266.6 1060.5,265.6 1061.5,264.9 1061.9,264.6 1063.3,263.9 1064.3,263.4 1064.7,263.3 1066.1,262.7 1067.1,262.3 1067.5,262.2 1068.9,261.7 1069.9,261.3 1070.3,261.2 1071.7,260.7 1072.7,260.3 1073.1,260.2 1074.5,259.7 1075.5,259.3 1075.9,259.2 1077.3,258.7 1078.3,258.4 1078.7,258.3 1080.1,258 1081.1,257.8 1081.5,257.7 1082.9,257.5 1083.9,257.4 1084.3,257.3 1085.7,257.2 1086.7,257 1087.1,257 1088.5,256.7 1089.5,256.4 1089.9,256.3 1091.3,255.6 1092.3,254.7 1092.7,254.3 1094.1,252.6 1095.1,251.4 1095.5,250.9 1096.9,249.4 1097.9,248.6 1098.3,248.3 1099.7,247.1 1100.7,246.3 1101.1,246 1102.5,245.3 1103.5,245 1103.9,245 1105.3,245.3 1106.3,245.7 1106.7,245.9 1108.1,246.7 1109.1,247.2 1109.5,247.4 1110.9,247.9 1111.9,248.2 1112.3,248.3 1113.7,248.7 1114.7,249 1115.1,249.1 1116.5,249.5 1117.5,250 1117.9,250.1 1119.3,250.9 1120.3,251.7 1120.7,252 1122.1,253.1 1123.1,254 1123.5,254.4 1123.9,254.8" fill="none" stroke="#1EE27C" stroke-width="3.1" stroke-linejoin="round" stroke-linecap="round"/><path d="M1123.9,254.8 1125.3,256 1125.9,256.5 1126.7,257.2 1128.1,258.6 1128.7,259.3 1129.5,260.2 1130.9,261.8 1131.5,262.5 1132.3,263.4 1133.7,265.2 1134.3,266 1135.1,267.2 1136.5,269.3 1137.1,270.2 1137.9,271.5 1139.3,273.8 1139.9,274.8 1140.7,276.2 1142.1,278.5 1142.7,279.5 1143.5,280.8 1144.9,283.3 1145.5,284.4 1146.3,285.9 1147.7,288.7 1148.3,290 1149.1,291.8 1150.5,295.2 1151.1,296.9 1151.9,299.3 1153.3,304 1153.9,306.1 1154.7,308.9 1156.1,314.2 1156.7,316.6 1157.5,319.9 1158.9,325.7 1159.5,328.1 1160.3,331.1 1161.7,336.6 1162.3,338.9 1163.1,341.9 1164.5,346.4 1165.1,347.9 1165.9,349.8 1167.3,352.7 1167.9,353.8 1168.7,355.2 1170.1,357.1 1170.7,357.9 1171.5,358.8 1172.9,360.5 1173.5,361.2 1174.3,362 1175.7,363.3 1176.3,363.7 1177.1,364.2 1178.5,364.7 1179.1,364.7 1179.9,364.6 1181.3,364.2 1181.9,363.9 1182.7,363.5 1184.1,362.8 1184.7,362.4 1185.5,362 1186.9,361.3 1187.5,361.1 1188.3,360.8 1189.7,360.3 1190.3,360.1 1191.1,359.9 1192.5,359.5 1193.1,359.3 1193.9,359.1 1195.3,358.9 1195.9,358.9 1196.7,358.9 1198.1,359.5 1198.7,359.9 1199.5,360.5 1200.9,361.6 1201.5,362 1202.3,362.5 1203.7,363.1 1204.3,363.3 1205.1,363.5 1206.5,363.9 1207.1,364.1 1207.9,364.3 1209.3,364.7 1209.9,365 1210.7,365.3 1212.1,366.2 1212.7,366.6 1213.5,367.2 1214.9,368.2 1215.5,368.7 1216.3,369.2 1217.7,370 1218.3,370.3 1219.1,370.5 1220.5,370.6 1221.1,370.6 1221.9,370.5 1223.3,370.4 1223.9,370.4 1224.7,370.3 1226.1,370.1 1226.7,370 1227.5,369.9 1228.9,369.7 1229.5,369.7 1230.3,369.6 1231.7,369.5 1232.3,369.4 1233.1,369.4 1234.5,369.3 1235.1,369.2 1235.9,369.1 1237.3,369 1237.9,368.8 1238.7,368.3 1240.1,366.6 1240.7,365.7 1241.5,364.4 1242.9,362.1 1243.5,361.1 1244.3,359.7 1245.7,356.9 1246.3,355.6 1246.3,355.6 L1246.3,355.6 1246.3,355.6 1245.7,355.7 1244.3,355.9 1243.5,356 1242.9,356 1241.5,356 1240.7,356 1240.1,355.9 1238.7,355.9 1237.9,355.8 1237.3,355.8 1235.9,355.6 1235.1,355.4 1234.5,355.2 1233.1,354.8 1232.3,354.5 1231.7,354.3 1230.3,353.9 1229.5,353.7 1228.9,353.5 1227.5,353.2 1226.7,353 1226.1,352.9 1224.7,352.5 1223.9,352.3 1223.3,352.2 1221.9,351.8 1221.1,351.6 1220.5,351.4 1219.1,351 1218.3,350.8 1217.7,350.6 1216.3,350.2 1215.5,349.9 1214.9,349.7 1213.5,349.2 1212.7,348.8 1212.1,348.6 1210.7,348 1209.9,347.5 1209.3,347.2 1207.9,346.2 1207.1,345.6 1206.5,345.1 1205.1,343.9 1204.3,343.1 1203.7,342.6 1202.3,341.3 1201.5,340.6 1200.9,339.9 1199.5,338.5 1198.7,337.6 1198.1,337 1196.7,335.8 1195.9,335.2 1195.3,334.9 1193.9,334.1 1193.1,333.7 1192.5,333.4 1191.1,332.8 1190.3,332.4 1189.7,332.1 1188.3,331.4 1187.5,330.9 1186.9,330.5 1185.5,329.5 1184.7,328.9 1184.1,328.5 1182.7,327.4 1181.9,326.7 1181.3,326.2 1179.9,324.9 1179.1,324.1 1178.5,323.5 1177.1,321.9 1176.3,321 1175.7,320.2 1174.3,318.4 1173.5,317.3 1172.9,316.4 1171.5,314.3 1170.7,313.1 1170.1,312.2 1168.7,309.8 1167.9,308.3 1167.3,307.2 1165.9,304.4 1165.1,302.9 1164.5,301.7 1163.1,299 1162.3,297.4 1161.7,296.3 1160.3,293.6 1159.5,292.1 1158.9,291 1157.5,288.5 1156.7,287 1156.1,286 1154.7,283.5 1153.9,281.9 1153.3,280.7 1151.9,278 1151.1,276.6 1150.5,275.7 1149.1,274 1148.3,273.1 1147.7,272.5 1146.3,271.3 1145.5,270.6 1144.9,270.1 1143.5,269.1 1142.7,268.4 1142.1,268 1140.7,266.9 1139.9,266.2 1139.3,265.7 1137.9,264.4 1137.1,263.7 1136.5,263.2 1135.1,262 1134.3,261.3 1133.7,260.8 1132.3,259.8 1131.5,259.2 1130.9,258.8 1129.5,257.9 1128.7,257.4 1128.1,257 1126.7,256.2 1125.9,255.8 1125.3,255.5 1123.9,254.8Z" fill="rgba(255,82,82,0.2)" stroke="none"/><path d="M1123.9,254.8 1125.3,255.5 1125.9,255.8 1126.7,256.2 1128.1,257 1128.7,257.4 1129.5,257.9 1130.9,258.8 1131.5,259.2 1132.3,259.8 1133.7,260.8 1134.3,261.3 1135.1,262 1136.5,263.2 1137.1,263.7 1137.9,264.4 1139.3,265.7 1139.9,266.2 1140.7,266.9 1142.1,268 1142.7,268.4 1143.5,269.1 1144.9,270.1 1145.5,270.6 1146.3,271.3 1147.7,272.5 1148.3,273.1 1149.1,274 1150.5,275.7 1151.1,276.6 1151.9,278 1153.3,280.7 1153.9,281.9 1154.7,283.5 1156.1,286 1156.7,287 1157.5,288.5 1158.9,291 1159.5,292.1 1160.3,293.6 1161.7,296.3 1162.3,297.4 1163.1,299 1164.5,301.7 1165.1,302.9 1165.9,304.4 1167.3,307.2 1167.9,308.3 1168.7,309.8 1170.1,312.2 1170.7,313.1 1171.5,314.3 1172.9,316.4 1173.5,317.3 1174.3,318.4 1175.7,320.2 1176.3,321 1177.1,321.9 1178.5,323.5 1179.1,324.1 1179.9,324.9 1181.3,326.2 1181.9,326.7 1182.7,327.4 1184.1,328.5 1184.7,328.9 1185.5,329.5 1186.9,330.5 1187.5,330.9 1188.3,331.4 1189.7,332.1 1190.3,332.4 1191.1,332.8 1192.5,333.4 1193.1,333.7 1193.9,334.1 1195.3,334.9 1195.9,335.2 1196.7,335.8 1198.1,337 1198.7,337.6 1199.5,338.5 1200.9,339.9 1201.5,340.6 1202.3,341.3 1203.7,342.6 1204.3,343.1 1205.1,343.9 1206.5,345.1 1207.1,345.6 1207.9,346.2 1209.3,347.2 1209.9,347.5 1210.7,348 1212.1,348.6 1212.7,348.8 1213.5,349.2 1214.9,349.7 1215.5,349.9 1216.3,350.2 1217.7,350.6 1218.3,350.8 1219.1,351 1220.5,351.4 1221.1,351.6 1221.9,351.8 1223.3,352.2 1223.9,352.3 1224.7,352.5 1226.1,352.9 1226.7,353 1227.5,353.2 1228.9,353.5 1229.5,353.7 1230.3,353.9 1231.7,354.3 1232.3,354.5 1233.1,354.8 1234.5,355.2 1235.1,355.4 1235.9,355.6 1237.3,355.8 1237.9,355.8 1238.7,355.9 1240.1,355.9 1240.7,356 1241.5,356 1242.9,356 1243.5,356 1244.3,355.9 1245.7,355.7 1246.3,355.6 1246.3,355.6" fill="none" stroke="#FF5561" stroke-width="3.1" stroke-linejoin="round" stroke-linecap="round"/><path d="M1123.9,254.8 1125.3,255.9 1125.9,256.4 1126.7,257 1128.1,258.3 1128.7,258.8 1129.5,259.5 1130.9,260.9 1131.5,261.5 1132.3,262.3 1133.7,263.8 1134.3,264.4 1135.1,265.3 1136.5,266.9 1137.1,267.7 1137.9,268.6 1139.3,270.5 1139.9,271.3 1140.7,272.4 1142.1,274.4 1142.7,275.3 1143.5,276.5 1144.9,278.7 1145.5,279.7 1146.3,281 1147.7,283.4 1148.3,284.5 1149.1,285.9 1150.5,288.6 1151.1,289.8 1151.9,291.5 1153.3,294.6 1153.9,295.9 1154.7,297.8 1156.1,301.1 1156.7,302.6 1157.5,304.6 1158.9,308.2 1159.5,309.7 1160.3,311.8 1161.7,315.5 1162.3,317.1 1163.1,319.3 1164.5,322.8 1165.1,324.2 1165.9,326 1167.3,329 1167.9,330.2 1168.7,331.8 1170.1,334.2 1170.7,335.1 1171.5,336.3 1172.9,338.5 1173.5,339.3 1174.3,340.5 1175.7,342.2 1176.3,342.9 1177.1,343.7 1178.5,344.7 1179.1,345 1179.9,345.4 1181.3,345.9 1181.9,346.1 1182.7,346.3 1184.1,346.7 1184.7,346.8 1185.5,347 1186.9,347.3 1187.5,347.4 1188.3,347.6 1189.7,348 1190.3,348.1 1191.1,348.2 1192.5,348.5 1193.1,348.6 1193.9,348.8 1195.3,349.2 1195.9,349.4 1196.7,349.7 1198.1,350.4 1198.7,350.8 1199.5,351.4 1200.9,352.4 1201.5,352.8 1202.3,353.4 1203.7,354.3 1204.3,354.7 1205.1,355.2 1206.5,356.1 1207.1,356.5 1207.9,357 1209.3,357.7 1209.9,358 1210.7,358.2 1212.1,358.7 1212.7,358.9 1213.5,359.1 1214.9,359.5 1215.5,359.6 1216.3,359.8 1217.7,360.1 1218.3,360.2 1219.1,360.4 1220.5,360.7 1221.1,360.9 1221.9,361.1 1223.3,361.4 1223.9,361.6 1224.7,361.8 1226.1,362.1 1226.7,362.3 1227.5,362.4 1228.9,362.6 1229.5,362.6 1230.3,362.6 1231.7,362.6 1232.3,362.5 1233.1,362.5 1234.5,362.4 1235.1,362.3 1235.9,362.2 1237.3,362 1237.9,361.9 1238.7,361.7 1240.1,360.9 1240.7,360.4 1241.5,359.8 1242.9,358.8 1243.5,358.3 1244.3,357.6 1245.7,356.2 1246.3,355.6 1246.3,355.6" fill="none" stroke="#FF5561" stroke-width="3.1" stroke-linejoin="round" stroke-linecap="round"/><path d="M1123.9,254.8 1125.3,256 1125.9,256.5 1126.7,257.2 1128.1,258.6 1128.7,259.3 1129.5,260.2 1130.9,261.8 1131.5,262.5 1132.3,263.4 1133.7,265.2 1134.3,266 1135.1,267.2 1136.5,269.3 1137.1,270.2 1137.9,271.5 1139.3,273.8 1139.9,274.8 1140.7,276.2 1142.1,278.5 1142.7,279.5 1143.5,280.8 1144.9,283.3 1145.5,284.4 1146.3,285.9 1147.7,288.7 1148.3,290 1149.1,291.8 1150.5,295.2 1151.1,296.9 1151.9,299.3 1153.3,304 1153.9,306.1 1154.7,308.9 1156.1,314.2 1156.7,316.6 1157.5,319.9 1158.9,325.7 1159.5,328.1 1160.3,331.1 1161.7,336.6 1162.3,338.9 1163.1,341.9 1164.5,346.4 1165.1,347.9 1165.9,349.8 1167.3,352.7 1167.9,353.8 1168.7,355.2 1170.1,357.1 1170.7,357.9 1171.5,358.8 1172.9,360.5 1173.5,361.2 1174.3,362 1175.7,363.3 1176.3,363.7 1177.1,364.2 1178.5,364.7 1179.1,364.7 1179.9,364.6 1181.3,364.2 1181.9,363.9 1182.7,363.5 1184.1,362.8 1184.7,362.4 1185.5,362 1186.9,361.3 1187.5,361.1 1188.3,360.8 1189.7,360.3 1190.3,360.1 1191.1,359.9 1192.5,359.5 1193.1,359.3 1193.9,359.1 1195.3,358.9 1195.9,358.9 1196.7,358.9 1198.1,359.5 1198.7,359.9 1199.5,360.5 1200.9,361.6 1201.5,362 1202.3,362.5 1203.7,363.1 1204.3,363.3 1205.1,363.5 1206.5,363.9 1207.1,364.1 1207.9,364.3 1209.3,364.7 1209.9,365 1210.7,365.3 1212.1,366.2 1212.7,366.6 1213.5,367.2 1214.9,368.2 1215.5,368.7 1216.3,369.2 1217.7,370 1218.3,370.3 1219.1,370.5 1220.5,370.6 1221.1,370.6 1221.9,370.5 1223.3,370.4 1223.9,370.4 1224.7,370.3 1226.1,370.1 1226.7,370 1227.5,369.9 1228.9,369.7 1229.5,369.7 1230.3,369.6 1231.7,369.5 1232.3,369.4 1233.1,369.4 1234.5,369.3 1235.1,369.2 1235.9,369.1 1237.3,369 1237.9,368.8 1238.7,368.3 1240.1,366.6 1240.7,365.7 1241.5,364.4 1242.9,362.1 1243.5,361.1 1244.3,359.7 1245.7,356.9 1246.3,355.6 1246.3,355.6" fill="none" stroke="#FF5561" stroke-width="3.1" stroke-linejoin="round" stroke-linecap="round"/><path d="M1246.3,355.6 1247.7,352.6 1249.1,349.9 1249.1,349.9 1250.5,347.5 1251.9,345.4 1251.9,345.4 1253.3,343.4 1254.7,341.7 1254.7,341.7 1256.1,340.7 1257.5,340.3 1257.5,340.3 1258.9,340.1 1260.3,340 1260.3,340 1261.7,341 1263.1,342.7 1263.1,342.7 1264.5,344.8 1265.9,347.9 1265.9,347.9 1266.4,349.2 L1266.4,349.2 1265.9,348.9 1265.9,348.9 1264.5,348.2 1263.1,347.7 1263.1,347.7 1261.7,347.3 1260.3,347 1260.3,347 1258.9,347.1 1257.5,347.3 1257.5,347.3 1256.1,347.7 1254.7,348.4 1254.7,348.4 1253.3,349.5 1251.9,350.8 1251.9,350.8 1250.5,351.9 1249.1,353.1 1249.1,353.1 1247.7,354.3 1246.3,355.6Z" fill="rgba(0,230,118,0.2)" stroke="none"/><path d="M1246.3,355.6 1247.7,354.3 1249.1,353.1 1249.1,353.1 1250.5,351.9 1251.9,350.8 1251.9,350.8 1253.3,349.5 1254.7,348.4 1254.7,348.4 1256.1,347.7 1257.5,347.3 1257.5,347.3 1258.9,347.1 1260.3,347 1260.3,347 1261.7,347.3 1263.1,347.7 1263.1,347.7 1264.5,348.2 1265.9,348.9 1265.9,348.9 1266.4,349.2" fill="none" stroke="#1EE27C" stroke-width="3.1" stroke-linejoin="round" stroke-linecap="round"/><path d="M1246.3,355.6 1247.7,353.5 1249.1,351.6 1249.1,351.6 1250.5,349.9 1251.9,348.3 1251.9,348.3 1253.3,346.8 1254.7,345.4 1254.7,345.4 1256.1,344.6 1257.5,344.3 1257.5,344.3 1258.9,344.1 1260.3,344 1260.3,344 1261.7,344.5 1263.1,345.4 1263.1,345.4 1264.5,346.6 1265.9,348.4 1265.9,348.4 1266.4,349.2" fill="none" stroke="#1EE27C" stroke-width="3.1" stroke-linejoin="round" stroke-linecap="round"/><path d="M1246.3,355.6 1247.7,352.6 1249.1,349.9 1249.1,349.9 1250.5,347.5 1251.9,345.4 1251.9,345.4 1253.3,343.4 1254.7,341.7 1254.7,341.7 1256.1,340.7 1257.5,340.3 1257.5,340.3 1258.9,340.1 1260.3,340 1260.3,340 1261.7,341 1263.1,342.7 1263.1,342.7 1264.5,344.8 1265.9,347.9 1265.9,347.9 1266.4,349.2" fill="none" stroke="#1EE27C" stroke-width="3.1" stroke-linejoin="round" stroke-linecap="round"/><path d="M1266.4,349.2 1267.8,349.5 1268.7,349.9 1269.2,350.2 1270.6,351.4 1271.5,352.3 1272,352.9 1273.4,354.7 1274.3,356 1274.8,356.7 1276.2,359.9 1277.1,363.1 1277.6,365.1 1279,370.7 1279.9,373.8 1280.4,375.3 1281.8,379.3 1282.7,381.7 1283.2,383.1 1284.6,386.9 1285.5,389.4 1286,390.8 1287.4,394.6 1288.3,397.1 1288.8,398.6 1290.2,402.7 1291.1,405.5 1291.6,407.1 1293,411.7 1293.9,414.6 1294.4,416.2 1295.8,420.7 1296.7,423.7 1297.2,425.4 1298.6,429.8 1299.5,432.5 1300,433.9 1301.4,437.6 1302.3,439.9 1302.8,441.1 1304.2,444.5 1305.1,446.7 1305.6,448 1307,451.5 1307.9,453.5 1308.4,454.5 1309.8,456.8 1310.7,458.2 1311.2,459 1312.6,461 1313.5,462.1 1314,462.5 1315.4,463.4 1316.3,463.5 1316.8,463.3 1318.2,462.4 1319.1,461.5 1319.6,461 1321,459.1 1321.9,457.9 1322.4,457.2 1323.8,455.2 1324.7,453.6 1325.2,452.7 1326.6,449.8 1327.5,447.9 1328,446.8 1329.4,444.1 1330.3,442.6 1330.8,441.9 1332.2,439.9 1333.1,438.8 1333.6,438.1 1335,436.4 1335.9,435.5 1336.4,435 1337.8,433.7 1338.7,433.1 1339.2,432.7 1340.6,431.7 1341.5,431.2 1342,430.9 1343.4,430.3 1344.3,430.2 1344.8,430.3 1346.2,431.4 1347.1,432.7 1347.6,433.6 1349,436.3 1349.9,438.1 1350.4,439 1351.8,441.3 1352.7,442.3 1353.2,442.9 1354.6,444.4 1355.5,445.3 1356,445.8 1357.4,447.1 1358.3,447.9 1358.8,448.4 1360.2,449.4 1361.1,450.1 1361.6,450.4 1363,451.4 1363.9,452 1364.4,452.4 1365.8,453.2 1366.7,453.7 1367.2,453.9 1368.6,454.4 1369.5,454.5 1370,454.5 1371.4,453.4 1372.3,452.2 1372.8,451.5 1374.2,449.1 1375.1,447.6 1375.6,446.8 1377,445.2 1377.9,444.3 1378.4,443.8 1379.8,442.4 1380.7,441.6 1381.2,441.3 1382.6,440.7 1383.5,440.6 1384,440.8 1385.4,441.6 1386.3,442.5 1386.8,443 1388.2,444.4 1389.1,445.2 1389.6,445.5 1391,446.5 1391.9,447.1 1392.4,447.3 1393.8,447.8 1394.7,447.5 1395.2,447.1 1396.6,445 1397.5,443.6 1398,442.9 1399.4,441.5 1400.3,440.7 1400.8,440.3 1401.3,440 L1401.3,440 1400.8,440.1 1400.3,440.2 1399.4,440.3 1398,440.6 1397.5,440.7 1396.6,440.9 1395.2,441.1 1394.7,441.2 1393.8,441.2 1392.4,441.1 1391.9,441 1391,440.8 1389.6,440.6 1389.1,440.5 1388.2,440.4 1386.8,440.1 1386.3,440 1385.4,439.9 1384,439.7 1383.5,439.7 1382.6,439.7 1381.2,439.7 1380.7,439.7 1379.8,439.7 1378.4,439.7 1377.9,439.7 1377,439.7 1375.6,439.7 1375.1,439.7 1374.2,439.6 1372.8,439.4 1372.3,439.4 1371.4,439.3 1370,439 1369.5,439 1368.6,438.8 1367.2,438.3 1366.7,438.2 1365.8,437.8 1364.4,437.2 1363.9,436.9 1363,436.5 1361.6,435.8 1361.1,435.5 1360.2,435.1 1358.8,434.3 1358.3,434 1357.4,433.5 1356,432.6 1355.5,432.2 1354.6,431.6 1353.2,430.7 1352.7,430.4 1351.8,429.9 1350.4,428.9 1349.9,428.5 1349,427.9 1347.6,426.8 1347.1,426.5 1346.2,426 1344.8,425.6 1344.3,425.5 1343.4,425.4 1342,425.4 1341.5,425.3 1340.6,425.3 1339.2,425.2 1338.7,425.2 1337.8,425.2 1336.4,425.1 1335.9,425 1335,425 1333.6,424.9 1333.1,424.8 1332.2,424.8 1330.8,424.6 1330.3,424.5 1329.4,424.4 1328,424.1 1327.5,424 1326.6,423.8 1325.2,423.4 1324.7,423.2 1323.8,422.9 1322.4,422.3 1321.9,422.1 1321,421.6 1319.6,420.6 1319.1,420.2 1318.2,419.5 1316.8,418.2 1316.3,417.8 1315.4,416.9 1314,415.4 1313.5,414.8 1312.6,413.7 1311.2,411.8 1310.7,411 1309.8,409.7 1308.4,407.6 1307.9,406.8 1307,405.2 1305.6,402.6 1305.1,401.7 1304.2,400 1302.8,397.4 1302.3,396.5 1301.4,394.8 1300,392.2 1299.5,391.3 1298.6,389.7 1297.2,387.4 1296.7,386.5 1295.8,385.1 1294.4,382.8 1293.9,382 1293,380.6 1291.6,378.4 1291.1,377.6 1290.2,376.3 1288.8,374.2 1288.3,373.5 1287.4,372.3 1286,370.4 1285.5,369.7 1284.6,368.4 1283.2,366.6 1282.7,365.9 1281.8,364.6 1280.4,362.6 1279.9,361.9 1279,360.3 1277.6,357.3 1277.1,356.2 1276.2,354.5 1274.8,352.9 1274.3,352.5 1273.4,351.9 1272,351 1271.5,350.7 1270.6,350.2 1269.2,349.7 1268.7,349.5 1267.8,349.3 1266.4,349.2Z" fill="rgba(255,82,82,0.2)" stroke="none"/><path d="M1266.4,349.2 1267.8,349.3 1268.7,349.5 1269.2,349.7 1270.6,350.2 1271.5,350.7 1272,351 1273.4,351.9 1274.3,352.5 1274.8,352.9 1276.2,354.5 1277.1,356.2 1277.6,357.3 1279,360.3 1279.9,361.9 1280.4,362.6 1281.8,364.6 1282.7,365.9 1283.2,366.6 1284.6,368.4 1285.5,369.7 1286,370.4 1287.4,372.3 1288.3,373.5 1288.8,374.2 1290.2,376.3 1291.1,377.6 1291.6,378.4 1293,380.6 1293.9,382 1294.4,382.8 1295.8,385.1 1296.7,386.5 1297.2,387.4 1298.6,389.7 1299.5,391.3 1300,392.2 1301.4,394.8 1302.3,396.5 1302.8,397.4 1304.2,400 1305.1,401.7 1305.6,402.6 1307,405.2 1307.9,406.8 1308.4,407.6 1309.8,409.7 1310.7,411 1311.2,411.8 1312.6,413.7 1313.5,414.8 1314,415.4 1315.4,416.9 1316.3,417.8 1316.8,418.2 1318.2,419.5 1319.1,420.2 1319.6,420.6 1321,421.6 1321.9,422.1 1322.4,422.3 1323.8,422.9 1324.7,423.2 1325.2,423.4 1326.6,423.8 1327.5,424 1328,424.1 1329.4,424.4 1330.3,424.5 1330.8,424.6 1332.2,424.8 1333.1,424.8 1333.6,424.9 1335,425 1335.9,425 1336.4,425.1 1337.8,425.2 1338.7,425.2 1339.2,425.2 1340.6,425.3 1341.5,425.3 1342,425.4 1343.4,425.4 1344.3,425.5 1344.8,425.6 1346.2,426 1347.1,426.5 1347.6,426.8 1349,427.9 1349.9,428.5 1350.4,428.9 1351.8,429.9 1352.7,430.4 1353.2,430.7 1354.6,431.6 1355.5,432.2 1356,432.6 1357.4,433.5 1358.3,434 1358.8,434.3 1360.2,435.1 1361.1,435.5 1361.6,435.8 1363,436.5 1363.9,436.9 1364.4,437.2 1365.8,437.8 1366.7,438.2 1367.2,438.3 1368.6,438.8 1369.5,439 1370,439 1371.4,439.3 1372.3,439.4 1372.8,439.4 1374.2,439.6 1375.1,439.7 1375.6,439.7 1377,439.7 1377.9,439.7 1378.4,439.7 1379.8,439.7 1380.7,439.7 1381.2,439.7 1382.6,439.7 1383.5,439.7 1384,439.7 1385.4,439.9 1386.3,440 1386.8,440.1 1388.2,440.4 1389.1,440.5 1389.6,440.6 1391,440.8 1391.9,441 1392.4,441.1 1393.8,441.2 1394.7,441.2 1395.2,441.1 1396.6,440.9 1397.5,440.7 1398,440.6 1399.4,440.3 1400.3,440.2 1400.8,440.1 1401.3,440" fill="none" stroke="#FF5561" stroke-width="3.1" stroke-linejoin="round" stroke-linecap="round"/><path d="M1266.4,349.2 1267.8,349.4 1268.7,349.8 1269.2,350 1270.6,350.9 1271.5,351.7 1272,352.2 1273.4,353.6 1274.3,354.6 1274.8,355.3 1276.2,358 1277.1,360.8 1277.6,362.5 1279,367.3 1279.9,369.9 1280.4,371.1 1281.8,374.2 1282.7,376.1 1283.2,377.2 1284.6,380.1 1285.5,382.1 1286,383.2 1287.4,386.2 1288.3,388.2 1288.8,389.3 1290.2,392.5 1291.1,394.7 1291.6,395.9 1293,399.3 1293.9,401.5 1294.4,402.8 1295.8,406.1 1296.7,408.3 1297.2,409.5 1298.6,412.8 1299.5,414.8 1300,415.9 1301.4,418.8 1302.3,420.7 1302.8,421.7 1304.2,424.5 1305.1,426.4 1305.6,427.4 1307,430.4 1307.9,432.1 1308.4,433 1309.8,435.1 1310.7,436.4 1311.2,437.2 1312.6,439.1 1313.5,440.1 1314,440.6 1315.4,441.4 1316.3,441.5 1316.8,441.5 1318.2,441.4 1319.1,441.2 1319.6,441.2 1321,440.9 1321.9,440.7 1322.4,440.6 1323.8,440.2 1324.7,439.7 1325.2,439.4 1326.6,438.4 1327.5,437.8 1328,437.4 1329.4,436.3 1330.3,435.7 1330.8,435.4 1332.2,434.7 1333.1,434.2 1333.6,433.9 1335,433.2 1335.9,432.7 1336.4,432.5 1337.8,431.8 1338.7,431.4 1339.2,431.2 1340.6,430.5 1341.5,430.1 1342,429.8 1343.4,429.4 1344.3,429.3 1344.8,429.3 1346.2,429.8 1347.1,430.4 1347.6,430.8 1349,432.1 1349.9,433 1350.4,433.5 1351.8,434.8 1352.7,435.6 1353.2,436.1 1354.6,437.5 1355.5,438.5 1356,439 1357.4,440.5 1358.3,441.4 1358.8,441.9 1360.2,443 1361.1,443.6 1361.6,443.8 1363,444.6 1363.9,445.1 1364.4,445.4 1365.8,446.1 1366.7,446.4 1367.2,446.6 1368.6,446.9 1369.5,447 1370,447 1371.4,446.5 1372.3,446 1372.8,445.6 1374.2,444.5 1375.1,443.7 1375.6,443.4 1377,442.6 1377.9,442.1 1378.4,441.9 1379.8,441.2 1380.7,440.8 1381.2,440.6 1382.6,440.2 1383.5,440.2 1384,440.3 1385.4,440.9 1386.3,441.4 1386.8,441.8 1388.2,442.7 1389.1,443.2 1389.6,443.4 1391,443.8 1391.9,444.1 1392.4,444.3 1393.8,444.5 1394.7,444.3 1395.2,444.1 1396.6,442.9 1397.5,442 1398,441.6 1399.4,440.8 1400.3,440.4 1400.8,440.2 1401.3,440" fill="none" stroke="#FF5561" stroke-width="3.1" stroke-linejoin="round" stroke-linecap="round"/><path d="M1266.4,349.2 1267.8,349.5 1268.7,349.9 1269.2,350.2 1270.6,351.4 1271.5,352.3 1272,352.9 1273.4,354.7 1274.3,356 1274.8,356.7 1276.2,359.9 1277.1,363.1 1277.6,365.1 1279,370.7 1279.9,373.8 1280.4,375.3 1281.8,379.3 1282.7,381.7 1283.2,383.1 1284.6,386.9 1285.5,389.4 1286,390.8 1287.4,394.6 1288.3,397.1 1288.8,398.6 1290.2,402.7 1291.1,405.5 1291.6,407.1 1293,411.7 1293.9,414.6 1294.4,416.2 1295.8,420.7 1296.7,423.7 1297.2,425.4 1298.6,429.8 1299.5,432.5 1300,433.9 1301.4,437.6 1302.3,439.9 1302.8,441.1 1304.2,444.5 1305.1,446.7 1305.6,448 1307,451.5 1307.9,453.5 1308.4,454.5 1309.8,456.8 1310.7,458.2 1311.2,459 1312.6,461 1313.5,462.1 1314,462.5 1315.4,463.4 1316.3,463.5 1316.8,463.3 1318.2,462.4 1319.1,461.5 1319.6,461 1321,459.1 1321.9,457.9 1322.4,457.2 1323.8,455.2 1324.7,453.6 1325.2,452.7 1326.6,449.8 1327.5,447.9 1328,446.8 1329.4,444.1 1330.3,442.6 1330.8,441.9 1332.2,439.9 1333.1,438.8 1333.6,438.1 1335,436.4 1335.9,435.5 1336.4,435 1337.8,433.7 1338.7,433.1 1339.2,432.7 1340.6,431.7 1341.5,431.2 1342,430.9 1343.4,430.3 1344.3,430.2 1344.8,430.3 1346.2,431.4 1347.1,432.7 1347.6,433.6 1349,436.3 1349.9,438.1 1350.4,439 1351.8,441.3 1352.7,442.3 1353.2,442.9 1354.6,444.4 1355.5,445.3 1356,445.8 1357.4,447.1 1358.3,447.9 1358.8,448.4 1360.2,449.4 1361.1,450.1 1361.6,450.4 1363,451.4 1363.9,452 1364.4,452.4 1365.8,453.2 1366.7,453.7 1367.2,453.9 1368.6,454.4 1369.5,454.5 1370,454.5 1371.4,453.4 1372.3,452.2 1372.8,451.5 1374.2,449.1 1375.1,447.6 1375.6,446.8 1377,445.2 1377.9,444.3 1378.4,443.8 1379.8,442.4 1380.7,441.6 1381.2,441.3 1382.6,440.7 1383.5,440.6 1384,440.8 1385.4,441.6 1386.3,442.5 1386.8,443 1388.2,444.4 1389.1,445.2 1389.6,445.5 1391,446.5 1391.9,447.1 1392.4,447.3 1393.8,447.8 1394.7,447.5 1395.2,447.1 1396.6,445 1397.5,443.6 1398,442.9 1399.4,441.5 1400.3,440.7 1400.8,440.3 1401.3,440" fill="none" stroke="#FF5561" stroke-width="3.1" stroke-linejoin="round" stroke-linecap="round"/><path d="M1401.3,440 1402.7,439.4 1403.1,439.3 1404.1,439 1405.5,438.6 1405.9,438.5 1406.9,438.4 1408.3,438.3 1408.7,438.3 1409.7,438.3 1411.1,438.4 1411.5,438.4 1412.5,438.5 1413.9,438.7 1414.3,438.8 1415,439 L1415,439 1414.3,439 1413.9,439 1412.5,439.1 1411.5,439.1 1411.1,439.1 1409.7,439.2 1408.7,439.3 1408.3,439.3 1406.9,439.4 1405.9,439.5 1405.5,439.5 1404.1,439.6 1403.1,439.8 1402.7,439.8 1401.3,440Z" fill="rgba(0,230,118,0.2)" stroke="none"/><path d="M1401.3,440 1402.7,439.8 1403.1,439.8 1404.1,439.6 1405.5,439.5 1405.9,439.5 1406.9,439.4 1408.3,439.3 1408.7,439.3 1409.7,439.2 1411.1,439.1 1411.5,439.1 1412.5,439.1 1413.9,439 1414.3,439 1415,439" fill="none" stroke="#1EE27C" stroke-width="3.1" stroke-linejoin="round" stroke-linecap="round"/><path d="M1401.3,440 1402.7,439.6 1403.1,439.5 1404.1,439.3 1405.5,439 1405.9,439 1406.9,438.8 1408.3,438.8 1408.7,438.8 1409.7,438.8 1411.1,438.8 1411.5,438.8 1412.5,438.9 1413.9,438.9 1414.3,438.9 1415,439" fill="none" stroke="#1EE27C" stroke-width="3.1" stroke-linejoin="round" stroke-linecap="round"/><path d="M1401.3,440 1402.7,439.4 1403.1,439.3 1404.1,439 1405.5,438.6 1405.9,438.5 1406.9,438.4 1408.3,438.3 1408.7,438.3 1409.7,438.3 1411.1,438.4 1411.5,438.4 1412.5,438.5 1413.9,438.7 1414.3,438.8 1415,439" fill="none" stroke="#1EE27C" stroke-width="3.1" stroke-linejoin="round" stroke-linecap="round"/><path d="M1415,439 1416.4,439.4 1417.1,439.6 1417.8,439.9 1419.2,440.5 1419.9,440.8 1420.6,441.2 1422,442 1422.7,442.4 1423.4,442.8 1424.8,443.7 1425.5,444.2 1426.2,444.8 1427.6,446 1428.3,446.7 1429,447.3 1430.4,448.8 1431.1,449.6 1431.8,450.5 1433.2,452.8 1433.9,454.2 1434.6,455.6 1436,458.5 1436.7,459.8 1437.4,461.1 1438.8,463.2 1439.5,464.2 1440.2,465.1 1441.6,467 1442.3,467.8 1443,468.5 1444.4,469.6 1445.1,470.1 1445.8,470.5 1447.2,471.2 1447.9,471.5 1448.6,471.7 1450,471.9 1450.7,471.8 1451.4,471.4 1452.8,470.2 1453.5,469.5 1454.2,468.8 1455.6,467.2 1456.3,466.2 1457,465.1 1458.4,462.7 1459.1,461.5 1459.8,460.2 1461.2,457.3 1461.9,455.7 1462,455.5 L1462,455.5 1461.9,455.5 1461.2,455.8 1459.8,456.3 1459.1,456.5 1458.4,456.7 1457,457.2 1456.3,457.4 1455.6,457.6 1454.2,457.7 1453.5,457.7 1452.8,457.7 1451.4,457.7 1450.7,457.7 1450,457.7 1448.6,457.5 1447.9,457.2 1447.2,456.9 1445.8,456.2 1445.1,455.8 1444.4,455.4 1443,454.5 1442.3,454 1441.6,453.3 1440.2,452 1439.5,451.4 1438.8,450.7 1437.4,449.5 1436.7,448.8 1436,448.1 1434.6,446.6 1433.9,445.9 1433.2,445.3 1431.8,444.2 1431.1,443.8 1430.4,443.5 1429,442.8 1428.3,442.5 1427.6,442.2 1426.2,441.7 1425.5,441.5 1424.8,441.2 1423.4,440.8 1422.7,440.6 1422,440.4 1420.6,440.1 1419.9,439.9 1419.2,439.8 1417.8,439.5 1417.1,439.3 1416.4,439.2 1415,439Z" fill="rgba(255,82,82,0.2)" stroke="none"/><path d="M1415,439 1416.4,439.2 1417.1,439.3 1417.8,439.5 1419.2,439.8 1419.9,439.9 1420.6,440.1 1422,440.4 1422.7,440.6 1423.4,440.8 1424.8,441.2 1425.5,441.5 1426.2,441.7 1427.6,442.2 1428.3,442.5 1429,442.8 1430.4,443.5 1431.1,443.8 1431.8,444.2 1433.2,445.3 1433.9,445.9 1434.6,446.6 1436,448.1 1436.7,448.8 1437.4,449.5 1438.8,450.7 1439.5,451.4 1440.2,452 1441.6,453.3 1442.3,454 1443,454.5 1444.4,455.4 1445.1,455.8 1445.8,456.2 1447.2,456.9 1447.9,457.2 1448.6,457.5 1450,457.7 1450.7,457.7 1451.4,457.7 1452.8,457.7 1453.5,457.7 1454.2,457.7 1455.6,457.6 1456.3,457.4 1457,457.2 1458.4,456.7 1459.1,456.5 1459.8,456.3 1461.2,455.8 1461.9,455.5 1462,455.5" fill="none" stroke="#FF5561" stroke-width="3.1" stroke-linejoin="round" stroke-linecap="round"/><path d="M1415,439 1416.4,439.2 1417.1,439.4 1417.8,439.6 1419.2,440 1419.9,440.2 1420.6,440.4 1422,441 1422.7,441.2 1423.4,441.5 1424.8,442.2 1425.5,442.5 1426.2,442.9 1427.6,443.8 1428.3,444.2 1429,444.7 1430.4,445.8 1431.1,446.4 1431.8,447.1 1433.2,448.9 1433.9,450.1 1434.6,451.2 1436,453.6 1436.7,454.8 1437.4,455.8 1438.8,457.6 1439.5,458.4 1440.2,459.2 1441.6,460.8 1442.3,461.4 1443,462 1444.4,463 1445.1,463.3 1445.8,463.6 1447.2,464.2 1447.9,464.4 1448.6,464.5 1450,464.7 1450.7,464.6 1451.4,464.5 1452.8,463.9 1453.5,463.5 1454.2,463.1 1455.6,462.1 1456.3,461.5 1457,460.7 1458.4,459.2 1459.1,458.5 1459.8,457.8 1461.2,456.3 1461.9,455.6 1462,455.5" fill="none" stroke="#FF5561" stroke-width="3.1" stroke-linejoin="round" stroke-linecap="round"/><path d="M1415,439 1416.4,439.4 1417.1,439.6 1417.8,439.9 1419.2,440.5 1419.9,440.8 1420.6,441.2 1422,442 1422.7,442.4 1423.4,442.8 1424.8,443.7 1425.5,444.2 1426.2,444.8 1427.6,446 1428.3,446.7 1429,447.3 1430.4,448.8 1431.1,449.6 1431.8,450.5 1433.2,452.8 1433.9,454.2 1434.6,455.6 1436,458.5 1436.7,459.8 1437.4,461.1 1438.8,463.2 1439.5,464.2 1440.2,465.1 1441.6,467 1442.3,467.8 1443,468.5 1444.4,469.6 1445.1,470.1 1445.8,470.5 1447.2,471.2 1447.9,471.5 1448.6,471.7 1450,471.9 1450.7,471.8 1451.4,471.4 1452.8,470.2 1453.5,469.5 1454.2,468.8 1455.6,467.2 1456.3,466.2 1457,465.1 1458.4,462.7 1459.1,461.5 1459.8,460.2 1461.2,457.3 1461.9,455.7 1462,455.5" fill="none" stroke="#FF5561" stroke-width="3.1" stroke-linejoin="round" stroke-linecap="round"/><path d="M1462,455.5 1463.4,454.5 1464.7,453.5 1464.8,453.4 1466.2,452.2 1467.5,451 1467.6,451 1469,449.6 1470.3,448 1470.4,447.9 1471.8,446.1 1473.1,444.4 1473.2,444.3 1474.6,442.8 1475.9,441.8 1476,441.7 1477.4,440.8 1478.7,440.2 1478.8,440.2 1480.2,439.9 1481.5,439.8 1481.6,439.8 1483,439.7 1484.3,439.7 1484.4,439.7 1485.8,440.4 1487.1,441.4 1487.2,441.5 1488.6,442.7 1489.9,443.6 1490,443.7 1491.4,444.6 1492.7,445.3 1492.8,445.4 1494.2,446.2 1495.5,446.9 1495.6,447 1496,447.2 L1496,447.2 1495.6,447.1 1495.5,447.1 1494.2,446.8 1492.8,446.5 1492.7,446.5 1491.4,446.2 1490,446.1 1489.9,446 1488.6,445.9 1487.2,445.8 1487.1,445.8 1485.8,445.7 1484.4,445.6 1484.3,445.6 1483,445.7 1481.6,445.9 1481.5,445.9 1480.2,446.2 1478.8,446.5 1478.7,446.5 1477.4,446.9 1476,447.5 1475.9,447.5 1474.6,448.1 1473.2,448.9 1473.1,449 1471.8,449.9 1470.4,450.8 1470.3,450.9 1469,451.8 1467.6,452.6 1467.5,452.6 1466.2,453.3 1464.8,454.1 1464.7,454.1 1463.4,454.8 1462,455.5Z" fill="rgba(0,230,118,0.2)" stroke="none"/><path d="M1462,455.5 1463.4,454.8 1464.7,454.1 1464.8,454.1 1466.2,453.3 1467.5,452.6 1467.6,452.6 1469,451.8 1470.3,450.9 1470.4,450.8 1471.8,449.9 1473.1,449 1473.2,448.9 1474.6,448.1 1475.9,447.5 1476,447.5 1477.4,446.9 1478.7,446.5 1478.8,446.5 1480.2,446.2 1481.5,445.9 1481.6,445.9 1483,445.7 1484.3,445.6 1484.4,445.6 1485.8,445.7 1487.1,445.8 1487.2,445.8 1488.6,445.9 1489.9,446 1490,446.1 1491.4,446.2 1492.7,446.5 1492.8,446.5 1494.2,446.8 1495.5,447.1 1495.6,447.1 1496,447.2" fill="none" stroke="#1EE27C" stroke-width="3.1" stroke-linejoin="round" stroke-linecap="round"/><path d="M1462,455.5 1463.4,454.7 1464.7,453.8 1464.8,453.8 1466.2,452.8 1467.5,451.8 1467.6,451.8 1469,450.7 1470.3,449.5 1470.4,449.4 1471.8,447.9 1473.1,446.7 1473.2,446.6 1474.6,445.4 1475.9,444.6 1476,444.5 1477.4,443.8 1478.7,443.2 1478.8,443.2 1480.2,442.9 1481.5,442.7 1481.6,442.7 1483,442.6 1484.3,442.6 1484.4,442.6 1485.8,443 1487.1,443.6 1487.2,443.7 1488.6,444.4 1489.9,445 1490,445 1491.4,445.5 1492.7,446 1492.8,446 1494.2,446.6 1495.5,447 1495.6,447.1 1496,447.2" fill="none" stroke="#1EE27C" stroke-width="3.1" stroke-linejoin="round" stroke-linecap="round"/><path d="M1462,455.5 1463.4,454.5 1464.7,453.5 1464.8,453.4 1466.2,452.2 1467.5,451 1467.6,451 1469,449.6 1470.3,448 1470.4,447.9 1471.8,446.1 1473.1,444.4 1473.2,444.3 1474.6,442.8 1475.9,441.8 1476,441.7 1477.4,440.8 1478.7,440.2 1478.8,440.2 1480.2,439.9 1481.5,439.8 1481.6,439.8 1483,439.7 1484.3,439.7 1484.4,439.7 1485.8,440.4 1487.1,441.4 1487.2,441.5 1488.6,442.7 1489.9,443.6 1490,443.7 1491.4,444.6 1492.7,445.3 1492.8,445.4 1494.2,446.2 1495.5,446.9 1495.6,447 1496,447.2" fill="none" stroke="#1EE27C" stroke-width="3.1" stroke-linejoin="round" stroke-linecap="round"/><path d="M1496,447.2 1497.4,447.9 1498.3,448.6 1498.8,449 1500.2,450.4 1501.1,451.5 1501.6,452.1 1503,454 1503.9,455.3 1504.4,456.1 1505.8,459 1506.7,461.1 1507.2,462.3 1508.6,465.3 1509.5,467.3 1510,468.4 1511.4,471.1 1512.3,472.4 1512.8,473 1514.2,474.4 1515.1,475.3 1515.6,475.7 1517,476.8 1517.9,477.4 1518.4,477.8 1519.8,478.8 1520.7,479.5 1521.2,479.8 1522.6,480.7 1523.5,481.2 1524,481.6 1525.4,482.6 1526.3,483.5 1526.8,484.1 1528.2,486 1529.1,486.9 1529.6,487.3 1531,487.3 1531.9,486.8 1532.4,486.4 1533.8,485.7 1534.7,485.7 1535.2,486.1 1536.6,488.1 1537.5,489.5 1538,490.3 1539.4,491.7 1540.3,492.3 1540.8,492.7 1542.2,493.6 1543.1,494 1543.6,494.2 1545,494.4 1545.9,494.4 1546.4,494.4 1547.8,494.3 1548.7,494.2 1549.2,494.2 1550.6,494 1551.5,493.8 1552,493.6 1553.4,492.3 1554.3,491.3 1554.8,490.7 1556.2,489 1557.1,487.8 1557.6,487 1559,484.8 1559.9,483.3 1560.4,482.4 1561.8,479.8 1562.6,478.3 L1562.6,478.3 1561.8,478.5 1560.4,478.8 1559.9,479 1559,479.2 1557.6,479.5 1557.1,479.6 1556.2,479.7 1554.8,479.7 1554.3,479.6 1553.4,479.5 1552,479.4 1551.5,479.3 1550.6,479.2 1549.2,478.8 1548.7,478.7 1547.8,478.4 1546.4,477.8 1545.9,477.7 1545,477.3 1543.6,476.7 1543.1,476.5 1542.2,476.1 1540.8,475.4 1540.3,475.1 1539.4,474.6 1538,473.8 1537.5,473.4 1536.6,472.7 1535.2,471.7 1534.7,471.3 1533.8,470.8 1532.4,470 1531.9,469.7 1531,469.2 1529.6,468.4 1529.1,468.1 1528.2,467.6 1526.8,466.8 1526.3,466.5 1525.4,466 1524,465.3 1523.5,465 1522.6,464.6 1521.2,463.8 1520.7,463.6 1519.8,463.1 1518.4,462.3 1517.9,462.1 1517,461.6 1515.6,460.8 1515.1,460.5 1514.2,459.9 1512.8,459 1512.3,458.7 1511.4,458.1 1510,456.9 1509.5,456.5 1508.6,455.7 1507.2,454.5 1506.7,454 1505.8,453.2 1504.4,452 1503.9,451.6 1503,451 1501.6,450.1 1501.1,449.8 1500.2,449.2 1498.8,448.5 1498.3,448.2 1497.4,447.8 1496,447.2Z" fill="rgba(255,82,82,0.2)" stroke="none"/><path d="M1496,447.2 1497.4,447.8 1498.3,448.2 1498.8,448.5 1500.2,449.2 1501.1,449.8 1501.6,450.1 1503,451 1503.9,451.6 1504.4,452 1505.8,453.2 1506.7,454 1507.2,454.5 1508.6,455.7 1509.5,456.5 1510,456.9 1511.4,458.1 1512.3,458.7 1512.8,459 1514.2,459.9 1515.1,460.5 1515.6,460.8 1517,461.6 1517.9,462.1 1518.4,462.3 1519.8,463.1 1520.7,463.6 1521.2,463.8 1522.6,464.6 1523.5,465 1524,465.3 1525.4,466 1526.3,466.5 1526.8,466.8 1528.2,467.6 1529.1,468.1 1529.6,468.4 1531,469.2 1531.9,469.7 1532.4,470 1533.8,470.8 1534.7,471.3 1535.2,471.7 1536.6,472.7 1537.5,473.4 1538,473.8 1539.4,474.6 1540.3,475.1 1540.8,475.4 1542.2,476.1 1543.1,476.5 1543.6,476.7 1545,477.3 1545.9,477.7 1546.4,477.8 1547.8,478.4 1548.7,478.7 1549.2,478.8 1550.6,479.2 1551.5,479.3 1552,479.4 1553.4,479.5 1554.3,479.6 1554.8,479.7 1556.2,479.7 1557.1,479.6 1557.6,479.5 1559,479.2 1559.9,479 1560.4,478.8 1561.8,478.5 1562.6,478.3" fill="none" stroke="#FF5561" stroke-width="3.1" stroke-linejoin="round" stroke-linecap="round"/><path d="M1496,447.2 1497.4,447.8 1498.3,448.3 1498.8,448.7 1500.2,449.7 1501.1,450.5 1501.6,451 1503,452.3 1503.9,453.2 1504.4,453.8 1505.8,455.6 1506.7,457 1507.2,457.8 1508.6,460 1509.5,461.7 1510,462.7 1511.4,465.2 1512.3,466.3 1512.8,466.9 1514.2,468.2 1515.1,468.9 1515.6,469.3 1517,470.3 1517.9,470.9 1518.4,471.3 1519.8,472.1 1520.7,472.6 1521.2,472.9 1522.6,473.5 1523.5,474 1524,474.2 1525.4,475 1526.3,475.6 1526.8,476 1528.2,477.2 1529.1,477.9 1529.6,478.3 1531,479.1 1531.9,479.4 1532.4,479.6 1533.8,480.3 1534.7,480.8 1535.2,481.2 1536.6,482.5 1537.5,483.4 1538,483.9 1539.4,484.8 1540.3,485.4 1540.8,485.7 1542.2,486.5 1543.1,486.9 1543.6,487.1 1545,487.3 1545.9,487.3 1546.4,487.3 1547.8,487.2 1548.7,487.2 1549.2,487.1 1550.6,487 1551.5,486.9 1552,486.7 1553.4,485.8 1554.3,485.1 1554.8,484.7 1556.2,483.7 1557.1,483.1 1557.6,482.7 1559,481.6 1559.9,480.8 1560.4,480.4 1561.8,479.1 1562.6,478.3" fill="none" stroke="#FF5561" stroke-width="3.1" stroke-linejoin="round" stroke-linecap="round"/><path d="M1496,447.2 1497.4,447.9 1498.3,448.6 1498.8,449 1500.2,450.4 1501.1,451.5 1501.6,452.1 1503,454 1503.9,455.3 1504.4,456.1 1505.8,459 1506.7,461.1 1507.2,462.3 1508.6,465.3 1509.5,467.3 1510,468.4 1511.4,471.1 1512.3,472.4 1512.8,473 1514.2,474.4 1515.1,475.3 1515.6,475.7 1517,476.8 1517.9,477.4 1518.4,477.8 1519.8,478.8 1520.7,479.5 1521.2,479.8 1522.6,480.7 1523.5,481.2 1524,481.6 1525.4,482.6 1526.3,483.5 1526.8,484.1 1528.2,486 1529.1,486.9 1529.6,487.3 1531,487.3 1531.9,486.8 1532.4,486.4 1533.8,485.7 1534.7,485.7 1535.2,486.1 1536.6,488.1 1537.5,489.5 1538,490.3 1539.4,491.7 1540.3,492.3 1540.8,492.7 1542.2,493.6 1543.1,494 1543.6,494.2 1545,494.4 1545.9,494.4 1546.4,494.4 1547.8,494.3 1548.7,494.2 1549.2,494.2 1550.6,494 1551.5,493.8 1552,493.6 1553.4,492.3 1554.3,491.3 1554.8,490.7 1556.2,489 1557.1,487.8 1557.6,487 1559,484.8 1559.9,483.3 1560.4,482.4 1561.8,479.8 1562.6,478.3" fill="none" stroke="#FF5561" stroke-width="3.1" stroke-linejoin="round" stroke-linecap="round"/><path d="M1562.6,478.3 1562.7,478.3 1564,477.8 1565.4,477.2 1565.5,477.1 1566.8,476.5 1568.2,475.7 1568.3,475.6 1569.6,474.8 1571,473.7 1571.1,473.7 1572.4,472.7 1573.8,471.7 1573.9,471.6 1575.2,470.7 1575.5,470.5 L1575.5,472.5 1575.2,472.8 1573.9,473.8 1573.8,473.9 1572.4,474.8 1571.1,475.5 1571,475.5 1569.6,476.1 1568.3,476.6 1568.2,476.6 1566.8,477.1 1565.5,477.5 1565.4,477.5 1564,478 1562.7,478.3 1562.6,478.3Z" fill="rgba(0,230,118,0.2)" stroke="none"/><path d="M1562.6,478.3 1562.7,478.3 1564,478 1565.4,477.5 1565.5,477.5 1566.8,477.1 1568.2,476.6 1568.3,476.6 1569.6,476.1 1571,475.5 1571.1,475.5 1572.4,474.8 1573.8,473.9 1573.9,473.8 1575.2,472.8 1575.5,472.5" fill="none" stroke="#1EE27C" stroke-width="3.1" stroke-linejoin="round" stroke-linecap="round"/><path d="M1562.6,478.3 1562.7,478.3 1564,477.9 1565.4,477.4 1565.5,477.3 1566.8,476.8 1568.2,476.1 1568.3,476.1 1569.6,475.4 1571,474.6 1571.1,474.6 1572.4,473.7 1573.8,472.8 1573.9,472.7 1575.2,471.7 1575.5,471.5" fill="none" stroke="#1EE27C" stroke-width="3.1" stroke-linejoin="round" stroke-linecap="round"/><path d="M1562.6,478.3 1562.7,478.3 1564,477.8 1565.4,477.2 1565.5,477.1 1566.8,476.5 1568.2,475.7 1568.3,475.6 1569.6,474.8 1571,473.7 1571.1,473.7 1572.4,472.7 1573.8,471.7 1573.9,471.6 1575.2,470.7 1575.5,470.5" fill="none" stroke="#1EE27C" stroke-width="3.1" stroke-linejoin="round" stroke-linecap="round"/><path d="M86.3,481.5L92.5,475.9V487.1Z" fill="#E5364B" stroke="#fff" stroke-width="0.8" stroke-opacity="0.85"/><path d="M232,410.8L238.2,405.2V416.4Z" fill="#E5364B" stroke="#fff" stroke-width="0.8" stroke-opacity="0.85"/><path d="M354.6,447.8L360.8,442.2V453.4Z" fill="#E5364B" stroke="#fff" stroke-width="0.8" stroke-opacity="0.85"/><path d="M374.3,446L380.5,440.4V451.6Z" fill="#E5364B" stroke="#fff" stroke-width="0.8" stroke-opacity="0.85"/><path d="M562.2,352.7L568.4,347.1V358.3Z" fill="#E5364B" stroke="#fff" stroke-width="0.8" stroke-opacity="0.85"/><path d="M935.6,241L941.8,235.4V246.6Z" fill="#E5364B" stroke="#fff" stroke-width="0.8" stroke-opacity="0.85"/><path d="M1129.6,272.8L1135.8,267.2V278.4Z" fill="#E5364B" stroke="#fff" stroke-width="0.8" stroke-opacity="0.85"/><path d="M1272,360.5L1278.2,354.9V366.1Z" fill="#E5364B" stroke="#fff" stroke-width="0.8" stroke-opacity="0.85"/><path d="M1420.4,450.8L1426.6,445.2V456.4Z" fill="#E5364B" stroke="#fff" stroke-width="0.8" stroke-opacity="0.85"/><path d="M1501.5,463.7L1507.7,458.1V469.3Z" fill="#E5364B" stroke="#fff" stroke-width="0.8" stroke-opacity="0.85"/><path d="M93,464L87,458.4V469.6Z" fill="#2B55F6" stroke="#fff" stroke-width="0.8" stroke-opacity="0.85"/><path d="M316.5,432.7L310.5,427.1V438.3Z" fill="#2B55F6" stroke="#fff" stroke-width="0.8" stroke-opacity="0.85"/><path d="M364.5,424L358.5,418.4V429.6Z" fill="#2B55F6" stroke="#fff" stroke-width="0.8" stroke-opacity="0.85"/><path d="M426,425L420,419.4V430.6Z" fill="#2B55F6" stroke="#fff" stroke-width="0.8" stroke-opacity="0.85"/><path d="M663.6,347L657.6,341.4V352.6Z" fill="#2B55F6" stroke="#fff" stroke-width="0.8" stroke-opacity="0.85"/><path d="M1024.7,267.6L1018.7,262V273.2Z" fill="#2B55F6" stroke="#fff" stroke-width="0.8" stroke-opacity="0.85"/><path d="M1248,327L1242,321.4V332.6Z" fill="#2B55F6" stroke="#fff" stroke-width="0.8" stroke-opacity="0.85"/><path d="M1401.8,432.7L1395.8,427.1V438.3Z" fill="#2B55F6" stroke="#fff" stroke-width="0.8" stroke-opacity="0.85"/><path d="M1463.2,437.6L1457.2,432V443.2Z" fill="#2B55F6" stroke="#fff" stroke-width="0.8" stroke-opacity="0.85"/><path d="M1563.6,462.8L1557.6,457.2V468.4Z" fill="#2B55F6" stroke="#fff" stroke-width="0.8" stroke-opacity="0.85"/><path d="M83.2,446.4H85.2V455.2H89.2L84.2,460.7L79.2,455.2H83.2Z" fill="#E5364B"/><path d="M228.2,379.5H230.2V388.2H234.2L229.2,393.7L224.2,388.2H228.2Z" fill="#E5364B"/><path d="M351.4,417.1H353.4V426.3H357.4L352.4,431.8L347.4,426.3H351.4Z" fill="#E5364B"/><path d="M371.1,402.4H373.1V411.2H377.1L372.1,416.7L367.1,411.2H371.1Z" fill="#E5364B"/><path d="M558.4,315.2H560.4V324.3H564.4L559.4,329.8L554.4,324.3H558.4Z" fill="#E5364B"/><path d="M933.3,204.6H935.3V213.3H939.3L934.3,218.8L929.3,213.3H933.3Z" fill="#E5364B"/><path d="M1126.6,245.5H1128.6V254.5H1132.6L1127.6,260L1122.6,254.5H1126.6Z" fill="#E5364B"/><path d="M1268.6,333.8H1270.6V342.1H1274.6L1269.6,347.6L1264.6,342.1H1268.6Z" fill="#E5364B"/><path d="M1416.8,407.3H1418.8V416H1422.8L1417.8,421.5L1412.8,416H1416.8Z" fill="#E5364B"/><path d="M1498.3,425.9H1500.3V434.2H1504.3L1499.3,439.7L1494.3,434.2H1498.3Z" fill="#E5364B"/><path d="M93.7,512H95.7V503.2H99.7L94.7,497.7L89.7,503.2H93.7Z" fill="#2B55F6"/><path d="M318.1,469.7H320.1V460.5H324.1L319.1,455L314.1,460.5H318.1Z" fill="#2B55F6"/><path d="M365.2,462H367.2V453.3H371.2L366.2,447.8L361.2,453.3H365.2Z" fill="#2B55F6"/><path d="M426.6,476.7H428.6V467.5H432.6L427.6,462L422.6,467.5H426.6Z" fill="#2B55F6"/><path d="M664.5,376.2H666.5V367.6H670.5L665.5,362.1L660.5,367.6H664.5Z" fill="#2B55F6"/><path d="M1025.5,294.4H1027.5V285.7H1031.5L1026.5,280.2L1021.5,285.7H1025.5Z" fill="#2B55F6"/><path d="M1249,378.9H1251V370.1H1255L1250,364.6L1245,370.1H1249Z" fill="#2B55F6"/><path d="M1403,458.8H1405V450H1409L1404,444.5L1399,450H1403Z" fill="#2B55F6"/><path d="M1464.3,469.7H1466.3V460.5H1470.3L1465.3,455L1460.3,460.5H1464.3Z" fill="#2B55F6"/><path d="M1565.1,492.4H1567.1V484.2H1571.1L1566.1,478.7L1561.1,484.2H1565.1Z" fill="#2B55F6"/><g font-family="'Liberation Sans', sans-serif" font-size="10" text-anchor="middle"><text x="84.2" y="439.7" fill="#E5364B">Enter Short</text><text x="84.2" y="427.8" fill="#E5364B">1</text><text x="229.2" y="372.8" fill="#E5364B">Enter Short</text><text x="229.2" y="360.9" fill="#E5364B">1</text><text x="352.4" y="410.4" fill="#E5364B">Enter Short</text><text x="352.4" y="398.5" fill="#E5364B">1</text><text x="372.1" y="395.7" fill="#E5364B">Enter Short</text><text x="372.1" y="383.8" fill="#E5364B">1</text><text x="559.4" y="308.5" fill="#E5364B">Enter Short</text><text x="559.4" y="296.6" fill="#E5364B">1</text><text x="934.3" y="197.9" fill="#E5364B">Enter Short</text><text x="934.3" y="186" fill="#E5364B">1</text><text x="1127.6" y="238.8" fill="#E5364B">Enter Short</text><text x="1127.6" y="226.9" fill="#E5364B">1</text><text x="1269.6" y="327.1" fill="#E5364B">Enter Short</text><text x="1269.6" y="315.2" fill="#E5364B">1</text><text x="1417.8" y="400.6" fill="#E5364B">Enter Short</text><text x="1417.8" y="388.7" fill="#E5364B">1</text><text x="1499.3" y="419.2" fill="#E5364B">Enter Short</text><text x="1499.3" y="407.3" fill="#E5364B">1</text><text x="94.7" y="526.5" fill="#2B55F6">Enter Long</text><text x="94.7" y="538.3" fill="#2B55F6">1</text><text x="319.1" y="484.2" fill="#2B55F6">Enter Long</text><text x="319.1" y="496" fill="#2B55F6">1</text><text x="366.2" y="476.5" fill="#2B55F6">Enter Long</text><text x="366.2" y="488.3" fill="#2B55F6">1</text><text x="427.6" y="491.2" fill="#2B55F6">Enter Long</text><text x="427.6" y="503" fill="#2B55F6">1</text><text x="665.5" y="390.7" fill="#2B55F6">Enter Long</text><text x="665.5" y="402.5" fill="#2B55F6">1</text><text x="1026.5" y="308.9" fill="#2B55F6">Enter Long</text><text x="1026.5" y="320.7" fill="#2B55F6">1</text><text x="1250" y="393.4" fill="#2B55F6">Enter Long</text><text x="1250" y="405.2" fill="#2B55F6">1</text><text x="1404" y="473.3" fill="#2B55F6">Enter Long</text><text x="1404" y="485.1" fill="#2B55F6">1</text><text x="1465.3" y="484.2" fill="#2B55F6">Enter Long</text><text x="1465.3" y="496" fill="#2B55F6">1</text><text x="1566.1" y="506.9" fill="#2B55F6">Enter Long</text><text x="1566.1" y="518.7" fill="#2B55F6">1</text></g></g><path d="M45.1,603.5V602.1M47.9,603.5V602.7M61.9,603.5V602.2M70.3,603.5V601.5M73.1,603.5V601.6M75.9,603.5V600.9M81.5,603.5V602.5M84.3,603.5V602.2M87.1,603.5V602.5M89.9,603.5V601.2M92.7,603.5V602.7M101.1,603.5V602.5M103.9,603.5V602.2M106.7,603.5V602.5M126.3,603.5V602.6M137.5,603.5V602.4M143.1,603.5V601.9M154.3,603.5V601.4M159.9,603.5V601.2M162.7,603.5V601.2M165.5,603.5V602.3M171.1,603.5V602.3M173.9,603.5V602M179.5,603.5V601.6M182.3,603.5V602.1M185.1,603.5V598.7M187.9,603.5V601.7M196.3,603.5V602.1M204.7,603.5V601.9M210.3,603.5V601.2M213.1,603.5V601.7M215.9,603.5V602.1M218.7,603.5V602.1M224.3,603.5V601.8M227.1,603.5V602M229.9,603.5V602.5M232.7,603.5V600.6M235.5,603.5V602.7M238.3,603.5V602M241.1,603.5V602.3M252.3,603.5V602.5M257.9,603.5V601.1M260.7,603.5V601.4M271.9,603.5V602.5M283.1,603.5V602.2M285.9,603.5V602.3M288.7,603.5V601.7M291.5,603.5V601.8M294.3,603.5V601.6M308.3,603.5V602.7M313.9,603.5V597.9M316.7,603.5V601.3M319.5,603.5V602.5M327.9,603.5V602.1M333.5,603.5V601.9M336.3,603.5V602.1M350.3,603.5V601M355.9,603.5V601.7M358.7,603.5V601M361.5,603.5V600.5M364.3,603.5V602M367.1,603.5V602.2M372.7,603.5V600.7M378.3,603.5V600.8M386.7,603.5V601M389.5,603.5V601.9M397.9,603.5V599.7M400.7,603.5V602.1M406.3,603.5V598.5M411.9,603.5V602.2M417.5,603.5V595.4M425.9,603.5V600.5M439.9,603.5V600.4M445.5,603.5V601.5M465.1,603.5V599.7M467.9,603.5V600.7M495.9,603.5V593.3M501.5,603.5V601.3M504.3,603.5V600.2M507.1,603.5V601.3M518.3,603.5V601M521.1,603.5V600.3M529.5,603.5V589.5M543.5,603.5V601.9M549.1,603.5V599.6M554.7,603.5V599M565.9,603.5V601.2M571.5,603.5V598.4M574.3,603.5V600.3M588.3,603.5V598.4M591.1,603.5V598.7M596.7,603.5V599.7M602.3,603.5V591.3M613.5,603.5V589.5M619.1,603.5V600.9M621.9,603.5V600.7M627.5,603.5V600.2M641.5,603.5V600.4M649.9,603.5V601.2M652.7,603.5V597.9M669.5,603.5V600.3M672.3,603.5V600.2M680.7,603.5V600.3M683.5,603.5V601.5M714.3,603.5V599.1M739.5,603.5V598.8M745.1,603.5V600.4M747.9,603.5V600M759.1,603.5V600M764.7,603.5V600.9M767.5,603.5V598.6M773.1,603.5V597.5M792.7,603.5V599.5M803.9,603.5V599M815.1,603.5V600.4M820.7,603.5V601.5M826.3,603.5V599.2M831.9,603.5V600.1M840.3,603.5V579.5M843.1,603.5V597.2M857.1,603.5V596.2M865.5,603.5V584.5M868.3,603.5V589.5M871.1,603.5V595.3M876.7,603.5V588.5M879.5,603.5V593.3M882.3,603.5V579.3M887.9,603.5V589.7M901.9,603.5V566M904.7,603.5V589.4M910.3,603.5V579.5M913.1,603.5V587.7M915.9,603.5V592.4M924.3,603.5V589.2M927.1,603.5V595.1M935.5,603.5V588.2M938.3,603.5V590.6M941.1,603.5V590.2M943.9,603.5V593.3M946.7,603.5V578.7M949.5,603.5V576.4M960.7,603.5V564.5M963.5,603.5V596.4M966.3,603.5V594.5M971.9,603.5V594M974.7,603.5V574.5M977.5,603.5V595.5M980.3,603.5V593.3M983.1,603.5V590.5M985.9,603.5V593.7M988.7,603.5V579M991.5,603.5V593.6M997.1,603.5V592.8M1002.7,603.5V589.1M1005.5,603.5V587.1M1008.3,603.5V577.5M1011.1,603.5V585.3M1016.7,603.5V579.9M1022.3,603.5V578.8M1025.1,603.5V592.4M1027.9,603.5V581.4M1030.7,603.5V584.4M1036.3,603.5V593.8M1047.5,603.5V582M1055.9,603.5V581.5M1058.7,603.5V589.1M1061.5,603.5V591M1069.9,603.5V575.7M1072.7,603.5V591.2M1075.5,603.5V595.2M1078.3,603.5V590.7M1086.7,603.5V572.5M1097.9,603.5V589.1M1103.5,603.5V594.8M1117.5,603.5V588.8M1120.3,603.5V587M1123.1,603.5V586.5M1125.9,603.5V570.5M1128.7,603.5V583.6M1131.5,603.5V591.5M1134.3,603.5V589M1137.1,603.5V574.5M1142.7,603.5V575.5M1148.3,603.5V583.3M1151.1,603.5V586.7M1153.9,603.5V556.5M1159.5,603.5V596M1165.1,603.5V578.4M1167.9,603.5V585.7M1173.5,603.5V595.3M1179.1,603.5V587.6M1190.3,603.5V593M1193.1,603.5V589.7M1195.9,603.5V592.6M1198.7,603.5V591.8M1201.5,603.5V578.7M1204.3,603.5V575.2M1209.9,603.5V589.7M1215.5,603.5V592.3M1218.3,603.5V576M1223.9,603.5V596.7M1226.7,603.5V587.9M1235.1,603.5V586.8M1246.3,603.5V569.5M1257.5,603.5V590.8M1263.1,603.5V588.3M1271.5,603.5V574.5M1274.3,603.5V587.6M1277.1,603.5V587.9M1279.9,603.5V584.2M1282.7,603.5V579.5M1285.5,603.5V564.5M1291.1,603.5V583.6M1293.9,603.5V579.7M1296.7,603.5V587.3M1299.5,603.5V569.5M1305.1,603.5V569.5M1307.9,603.5V593.1M1310.7,603.5V587.3M1313.5,603.5V591.3M1316.3,603.5V590.2M1321.9,603.5V595M1330.3,603.5V584.6M1338.7,603.5V582.1M1349.9,603.5V594.6M1358.3,603.5V593.5M1361.1,603.5V591.6M1369.5,603.5V586.1M1375.1,603.5V586.3M1377.9,603.5V574.5M1383.5,603.5V590.7M1386.3,603.5V591M1389.1,603.5V593.4M1400.3,603.5V581.7M1411.5,603.5V591.3M1419.9,603.5V587.5M1425.5,603.5V588.6M1428.3,603.5V593.2M1431.1,603.5V578.7M1439.5,603.5V587.9M1453.5,603.5V591.9M1464.7,603.5V574.5M1467.5,603.5V593.9M1481.5,603.5V569.5M1487.1,603.5V586M1489.9,603.5V584.6M1492.7,603.5V588.9M1495.5,603.5V577.9M1498.3,603.5V580.4M1503.9,603.5V585.2M1506.7,603.5V596.3M1509.5,603.5V592.2M1517.9,603.5V593.5M1520.7,603.5V588.2M1531.9,603.5V597.6M1534.7,603.5V557M1537.5,603.5V589.8M1540.3,603.5V585.3M1543.1,603.5V574.5M1545.9,603.5V580.9M1568.3,603.5V580.7" stroke="#EF5350" stroke-width="1.2" fill="none" opacity="0.55"/><path d="M50.7,603.5V601.5M53.5,603.5V602.7M56.3,603.5V602.5M59.1,603.5V600.8M64.7,603.5V600.9M67.5,603.5V602.3M78.7,603.5V602.5M95.5,603.5V602.2M98.3,603.5V601.5M109.5,603.5V602.6M112.3,603.5V601.6M115.1,603.5V601.6M117.9,603.5V602M120.7,603.5V602.7M123.5,603.5V600.5M129.1,603.5V602M131.9,603.5V601.4M134.7,603.5V601.9M140.3,603.5V602.5M145.9,603.5V602.2M148.7,603.5V602.3M151.5,603.5V602.3M157.1,603.5V601.6M168.3,603.5V599.1M176.7,603.5V601.7M190.7,603.5V601.5M193.5,603.5V602.3M199.1,603.5V602.7M201.9,603.5V599M207.5,603.5V602M221.5,603.5V601.5M243.9,603.5V602.1M246.7,603.5V601.8M249.5,603.5V601.8M255.1,603.5V601M263.5,603.5V602M266.3,603.5V599M269.1,603.5V602M274.7,603.5V602.7M277.5,603.5V599.5M280.3,603.5V600M297.1,603.5V601.9M299.9,603.5V600.8M302.7,603.5V601.8M305.5,603.5V602M311.1,603.5V600.9M322.3,603.5V602M325.1,603.5V601.5M330.7,603.5V601.5M339.1,603.5V602.3M341.9,603.5V601.5M344.7,603.5V601.7M347.5,603.5V600M353.1,603.5V601.1M369.9,603.5V599.7M375.5,603.5V602.2M381.1,603.5V601.1M383.9,603.5V602.4M392.3,603.5V602.2M395.1,603.5V600.9M403.5,603.5V601.1M409.1,603.5V601.1M414.7,603.5V601.9M420.3,603.5V601.4M423.1,603.5V599.1M428.7,603.5V601M431.5,603.5V599.5M434.3,603.5V599.2M437.1,603.5V601.3M442.7,603.5V599.9M448.3,603.5V601.9M451.1,603.5V598.4M453.9,603.5V601.5M456.7,603.5V599.2M459.5,603.5V600.7M462.3,603.5V601.8M470.7,603.5V601.8M473.5,603.5V601.1M476.3,603.5V601.6M479.1,603.5V601.6M481.9,603.5V598.8M484.7,603.5V602.3M487.5,603.5V600.5M490.3,603.5V599.4M493.1,603.5V601.8M498.7,603.5V601.8M509.9,603.5V598.8M512.7,603.5V599.9M515.5,603.5V601.4M523.9,603.5V601.7M526.7,603.5V598M532.3,603.5V600.7M535.1,603.5V602M537.9,603.5V599.5M540.7,603.5V602.2M546.3,603.5V600.9M551.9,603.5V600.5M557.5,603.5V599.9M560.3,603.5V601.7M563.1,603.5V600.2M568.7,603.5V600.6M577.1,603.5V599.1M579.9,603.5V599.2M582.7,603.5V600.7M585.5,603.5V599.2M593.9,603.5V599.2M599.5,603.5V599.9M605.1,603.5V601.2M607.9,603.5V602.4M610.7,603.5V600.3M616.3,603.5V599M624.7,603.5V600.8M630.3,603.5V598.7M633.1,603.5V599.8M635.9,603.5V600.5M638.7,603.5V597.8M644.3,603.5V598.5M647.1,603.5V600.5M655.5,603.5V598.7M658.3,603.5V599.2M661.1,603.5V599.2M663.9,603.5V599.3M666.7,603.5V599.7M675.1,603.5V596.9M677.9,603.5V599.7M686.3,603.5V599M689.1,603.5V600.6M691.9,603.5V598M694.7,603.5V601.4M697.5,603.5V599M700.3,603.5V594.9M703.1,603.5V599.2M705.9,603.5V600.9M708.7,603.5V600.2M711.5,603.5V599.7M717.1,603.5V602.3M719.9,603.5V596.3M722.7,603.5V600.7M725.5,603.5V600.2M728.3,603.5V600.9M731.1,603.5V600.5M733.9,603.5V600.4M736.7,603.5V598.2M742.3,603.5V600.3M750.7,603.5V600.2M753.5,603.5V600.1M756.3,603.5V595.9M761.9,603.5V599.1M770.3,603.5V597.7M775.9,603.5V600.2M778.7,603.5V600.9M781.5,603.5V600.4M784.3,603.5V599.3M787.1,603.5V601.1M789.9,603.5V600.4M795.5,603.5V599.7M798.3,603.5V598.4M801.1,603.5V599M806.7,603.5V599.9M809.5,603.5V600.9M812.3,603.5V598.6M817.9,603.5V594.9M823.5,603.5V594.9M829.1,603.5V599.9M834.7,603.5V599.9M837.5,603.5V598.5M845.9,603.5V590.3M848.7,603.5V575.9M851.5,603.5V593.8M854.3,603.5V598.6M859.9,603.5V578.5M862.7,603.5V588.6M873.9,603.5V575.7M885.1,603.5V577.5M890.7,603.5V585.6M893.5,603.5V584M896.3,603.5V596.3M899.1,603.5V595.9M907.5,603.5V588.8M918.7,603.5V579.5M921.5,603.5V580.2M929.9,603.5V588.6M932.7,603.5V589.4M952.3,603.5V579.9M955.1,603.5V586.2M957.9,603.5V585.6M969.1,603.5V574.5M994.3,603.5V593M999.9,603.5V581.8M1013.9,603.5V571.5M1019.5,603.5V574.5M1033.5,603.5V583.6M1039.1,603.5V593.5M1041.9,603.5V584.9M1044.7,603.5V574.5M1050.3,603.5V572.5M1053.1,603.5V582.6M1064.3,603.5V589.7M1067.1,603.5V593M1081.1,603.5V572.5M1083.9,603.5V586.9M1089.5,603.5V590.7M1092.3,603.5V574.5M1095.1,603.5V580.3M1100.7,603.5V581.3M1106.3,603.5V577.4M1109.1,603.5V584M1111.9,603.5V590.6M1114.7,603.5V584.4M1139.9,603.5V587.9M1145.5,603.5V594.7M1156.7,603.5V573.5M1162.3,603.5V593.1M1170.7,603.5V586M1176.3,603.5V590.7M1181.9,603.5V597.8M1184.7,603.5V593.2M1187.5,603.5V574.5M1207.1,603.5V584.1M1212.7,603.5V579.7M1221.1,603.5V593.9M1229.5,603.5V581.2M1232.3,603.5V591.6M1237.9,603.5V585.5M1240.7,603.5V584.9M1243.5,603.5V593.7M1249.1,603.5V599.4M1251.9,603.5V584.6M1254.7,603.5V593.8M1260.3,603.5V577.8M1265.9,603.5V590.7M1268.7,603.5V590.7M1288.3,603.5V575.5M1302.3,603.5V583.5M1319.1,603.5V584.6M1324.7,603.5V591.3M1327.5,603.5V588.1M1333.1,603.5V588.6M1335.9,603.5V588.9M1341.5,603.5V591M1344.3,603.5V587.8M1347.1,603.5V595.5M1352.7,603.5V580.7M1355.5,603.5V589.7M1363.9,603.5V582.9M1366.7,603.5V589.8M1372.3,603.5V593.6M1380.7,603.5V587M1391.9,603.5V589.5M1394.7,603.5V593.1M1397.5,603.5V582.3M1403.1,603.5V584.6M1405.9,603.5V595.9M1408.7,603.5V588.9M1414.3,603.5V594.2M1417.1,603.5V584.2M1422.7,603.5V582.2M1433.9,603.5V587M1436.7,603.5V590.3M1442.3,603.5V593.8M1445.1,603.5V586.3M1447.9,603.5V584.6M1450.7,603.5V595.6M1456.3,603.5V585.7M1459.1,603.5V582.9M1461.9,603.5V589.3M1470.3,603.5V593.4M1473.1,603.5V576.1M1475.9,603.5V594M1478.7,603.5V581.9M1484.3,603.5V591.6M1501.1,603.5V585.6M1512.3,603.5V581.6M1515.1,603.5V571.5M1523.5,603.5V594.3M1526.3,603.5V595.5M1529.1,603.5V595.9M1548.7,603.5V583.3M1551.5,603.5V577.8M1554.3,603.5V585.8M1557.1,603.5V591.9M1559.9,603.5V590.9M1562.7,603.5V591.8M1565.5,603.5V589.9M1571.1,603.5V574.5M1573.9,603.5V588.6M1576.7,603.5V583.1" stroke="#26A69A" stroke-width="1.2" fill="none" opacity="0.55"/><g stroke="#DDDDDD" stroke-width="1" fill="none"><line x1="43.5" x2="43.5" y1="132" y2="632"/><line x1="1580.5" x2="1580.5" y1="132" y2="608"/><line x1="43" x2="1634" y1="546.5" y2="546.5"/><line x1="43" x2="1581" y1="607.5" y2="607.5"/><line x1="1581" x2="1584" y1="173.5" y2="173.5"/><line x1="1581" x2="1584" y1="215.5" y2="215.5"/><line x1="1581" x2="1584" y1="256.5" y2="256.5"/><line x1="1581" x2="1584" y1="298.5" y2="298.5"/><line x1="1581" x2="1584" y1="339.5" y2="339.5"/><line x1="1581" x2="1584" y1="381.5" y2="381.5"/><line x1="1581" x2="1584" y1="423.5" y2="423.5"/><line x1="1581" x2="1584" y1="464.5" y2="464.5"/><line x1="1581" x2="1584" y1="506.5" y2="506.5"/><line x1="1581" x2="1584" y1="562.5" y2="562.5"/><line x1="1581" x2="1584" y1="589.5" y2="589.5"/><line x1="263.5" x2="263.5" y1="608" y2="611"/><line x1="487.5" x2="487.5" y1="608" y2="611"/><line x1="711.5" x2="711.5" y1="608" y2="611"/><line x1="934.5" x2="934.5" y1="608" y2="611"/><line x1="1158.5" x2="1158.5" y1="608" y2="611"/><line x1="1382.5" x2="1382.5" y1="608" y2="611"/></g><g font-family="'Liberation Serif', serif" font-size="12" fill="#76808F"><text x="1587" y="177.2">5400.00</text><text x="1587" y="218.8">5300.00</text><text x="1587" y="260.4">5200.00</text><text x="1587" y="302">5100.00</text><text x="1587" y="343.6">5000.00</text><text x="1587" y="385.2">4900.00</text><text x="1587" y="426.8">4800.00</text><text x="1587" y="468.4">4700.00</text><text x="1587" y="510">4600.00</text><text x="1587" y="566.6">180K</text><text x="1587" y="593.2">60K</text><text x="263.5" y="624.5" text-anchor="middle">02-16</text><text x="487.3" y="624.5" text-anchor="middle">2022-03</text><text x="711" y="624.5" text-anchor="middle">03-21</text><text x="934.6" y="624.5" text-anchor="middle">2022-04</text><text x="1158.5" y="624.5" text-anchor="middle">04-25</text><text x="1382" y="624.5" text-anchor="middle">2022-05</text></g><g font-family="'Liberation Serif', 'Noto Serif CJK SC', serif" font-size="12" fill="#76808F"><text x="52.4" y="148.6">开</text><text x="64.4" y="149">=4736.00</text><text x="126.8" y="148.6">高</text><text x="138.8" y="149">=4758.00</text><text x="200.6" y="148.6">低</text><text x="212.6" y="149">=4726.00</text><text x="274.4" y="148.6">收</text><text x="286.4" y="149">=4746.00</text><text x="52.4" y="166.5">MA-Wave</text><text x="118.2" y="166.5" fill="#FF9600">n/a</text><text x="52.4" y="184.5">MABS</text><text x="101.5" y="184.5" fill="#935EBD">n/a</text><text x="52.4" y="202.5">MA-Tide</text><text x="112.5" y="202.5" fill="#2196F3">n/a</text><text x="52.4" y="563.8">Volume</text><text x="105" y="563.8" fill="#6FC3BB">71.093K</text></g><g stroke="#4d4d4d" stroke-width="1.15" fill="none" stroke-linecap="round"><line x1="20.6" y1="150" x2="35" y2="150"/><circle cx="28" cy="150" r="1.6" fill="#4d4d4d" stroke="none"/><line x1="21.4" y1="181" x2="35.8" y2="181"/><circle cx="21.4" cy="181" r="1.6" fill="#4d4d4d" stroke="none"/><circle cx="29" cy="181" r="1.6" fill="#4d4d4d" stroke="none"/><line x1="21.6" y1="212" x2="34.3" y2="212"/><circle cx="21.6" cy="212" r="1.6" fill="#4d4d4d" stroke="none"/><circle cx="34.3" cy="212" r="1.6" fill="#4d4d4d" stroke="none"/><line x1="28" y1="234.7" x2="28" y2="250.8"/><circle cx="28" cy="243" r="1.6" fill="#4d4d4d" stroke="none"/><line x1="28" y1="266" x2="28" y2="280.4"/><circle cx="28" cy="272.9" r="1.6" fill="#4d4d4d" stroke="none"/><circle cx="28" cy="280.4" r="1.6" fill="#4d4d4d" stroke="none"/><line x1="28" y1="298.2" x2="28" y2="311.4"/><circle cx="28" cy="298.2" r="1.6" fill="#4d4d4d" stroke="none"/><circle cx="28" cy="311.4" r="1.6" fill="#4d4d4d" stroke="none"/><line x1="22.2" y1="341.9" x2="33.9" y2="330.2"/><circle cx="25.6" cy="338.5" r="1.6" fill="#4d4d4d" stroke="none"/><circle cx="30.3" cy="333.8" r="1.6" fill="#4d4d4d" stroke="none"/><line x1="23.8" y1="371.3" x2="34.3" y2="360.9"/><circle cx="23.8" cy="371.3" r="1.6" fill="#4d4d4d" stroke="none"/><circle cx="29.1" cy="365.9" r="1.6" fill="#4d4d4d" stroke="none"/><line x1="22.5" y1="403.4" x2="32.4" y2="393.6"/><circle cx="22.5" cy="403.4" r="1.6" fill="#4d4d4d" stroke="none"/><circle cx="32.4" cy="393.6" r="1.6" fill="#4d4d4d" stroke="none"/><line x1="21.3" y1="431.1" x2="35.8" y2="431.1"/><circle cx="21.3" cy="431.1" r="1.6" fill="#4d4d4d" stroke="none"/><line x1="19.1" y1="463.7" x2="31.1" y2="451.9"/><circle cx="25.2" cy="457.7" r="1.6" fill="#4d4d4d" stroke="none"/><line x1="24.4" y1="469.2" x2="35.8" y2="457.4"/><circle cx="28" cy="465.6" r="1.6" fill="#4d4d4d" stroke="none"/><circle cx="32.4" cy="460.9" r="1.6" fill="#4d4d4d" stroke="none"/><line x1="20.2" y1="491.7" x2="28.8" y2="483.6"/><line x1="22.2" y1="496.5" x2="33.5" y2="485.4"/><circle cx="25.6" cy="493.3" r="1.6" fill="#4d4d4d" stroke="none"/><circle cx="30" cy="488.7" r="1.6" fill="#4d4d4d" stroke="none"/><line x1="27.2" y1="498.4" x2="35.8" y2="489.8"/><circle cx="31.4" cy="494.2" r="1.6" fill="#4d4d4d" stroke="none"/><line x1="19.7" y1="516" x2="36.3" y2="516"/><line x1="19.7" y1="519.6" x2="36.3" y2="519.6"/><line x1="19.7" y1="522.7" x2="36.3" y2="522.7"/><line x1="19.7" y1="525.8" x2="36.3" y2="525.8"/><line x1="19.7" y1="529" x2="36.3" y2="529"/><circle cx="23.8" cy="516" r="1.6" fill="#4d4d4d" stroke="none"/><circle cx="32.7" cy="516" r="1.6" fill="#4d4d4d" stroke="none"/><circle cx="28" cy="529" r="1.6" fill="#4d4d4d" stroke="none"/><g stroke="#333" stroke-width="1.35"><line x1="19.4" y1="546.6" x2="36.6" y2="546.6"/><path d="M24.9,546.6 A3.1,2.9 0 0 1 31.1,546.6"/><path d="M21.3,546.6 V559.3 A2.5,2.5 0 0 0 23.8,561.8 H32.2 A2.5,2.5 0 0 0 34.7,559.3 V546.6"/><line x1="25.6" y1="550" x2="25.6" y2="558.7"/><line x1="30.3" y1="550" x2="30.3" y2="558.7"/></g></g><text x="24" y="429.3" font-family="'Liberation Serif', serif" font-size="6.5" fill="#4d4d4d">123</text><rect x="1519.5" y="132.5" width="58" height="21" rx="3" ry="3" fill="#fff" stroke="#ccc"/><line x1="1554.5" y1="133" x2="1554.5" y2="153" stroke="#ccc"/><text x="1525.3" y="147.2" font-family="'Liberation Sans', 'Noto Sans CJK SC', sans-serif" font-size="12" fill="#333">指标</text><path d="M1560,136L1564.2,136L1560,140.2Z" fill="#222"/><line x1="1561.5" y1="137.5" x2="1564.6" y2="140.6" stroke="#222" stroke-width="1.5"/><path d="M1560,148L1564.2,148L1560,143.8Z" fill="#222"/><line x1="1561.5" y1="146.5" x2="1564.6" y2="143.4" stroke="#222" stroke-width="1.5"/><path d="M1572,136L1567.8,136L1572,140.2Z" fill="#222"/><line x1="1570.5" y1="137.5" x2="1567.4" y2="140.6" stroke="#222" stroke-width="1.5"/><path d="M1572,148L1567.8,148L1572,143.8Z" fill="#222"/><line x1="1570.5" y1="146.5" x2="1567.4" y2="143.4" stroke="#222" stroke-width="1.5"/><text x="37.5" y="39.4" font-family="'Liberation Sans', 'Noto Sans CJK SC', sans-serif" font-size="17.8" fill="#333">行情数据</text></svg>
</body></html>
